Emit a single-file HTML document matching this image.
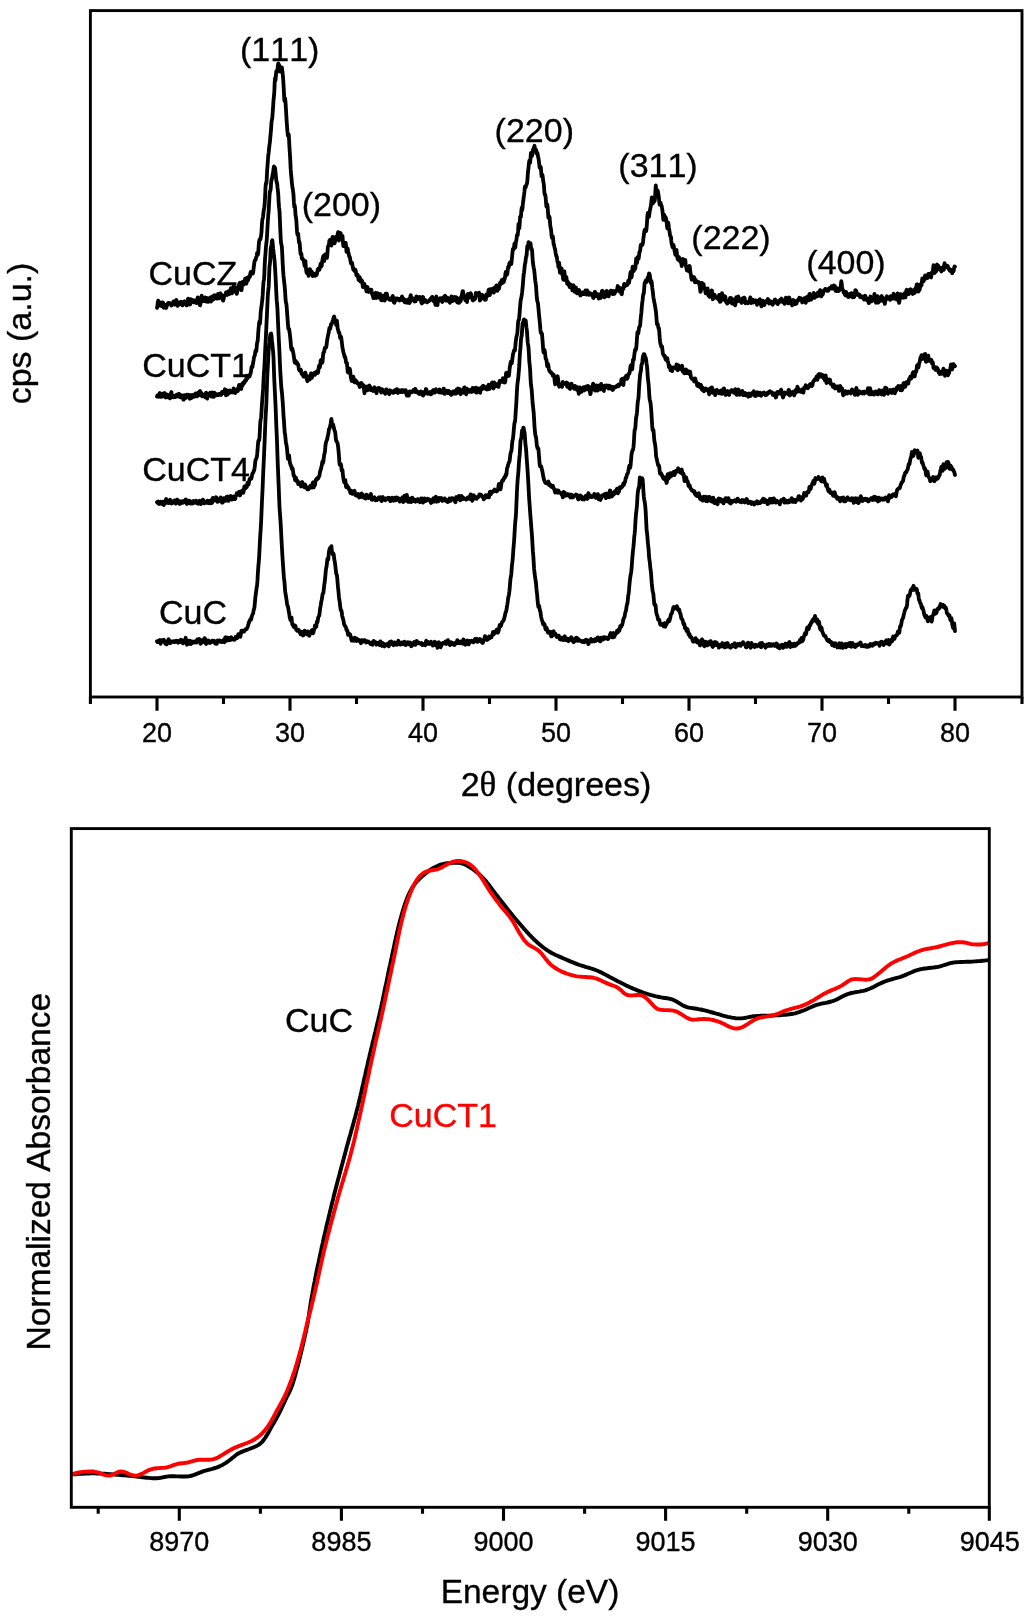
<!DOCTYPE html>
<html lang="en"><head><meta charset="utf-8"><title>XRD patterns and XANES spectra</title>
<style>
html,body{margin:0;padding:0;background:#fff;}
body{width:1024px;height:1618px;overflow:hidden;}
svg{display:block;will-change:transform;}
text{font-family:"Liberation Sans",sans-serif;fill:#000;font-kerning:none;stroke:#000;stroke-width:0.35px;}
.t{font-size:27px;text-anchor:middle;}
.l{font-size:34px;}
.m{font-size:34px;text-anchor:middle;}
.ax{stroke:#000;stroke-width:2.9;fill:none;stroke-linecap:butt;}
.tk{stroke:#000;stroke-width:3.1;fill:none;stroke-linecap:butt;}
.c{stroke:#000;stroke-width:3.8;fill:none;stroke-linejoin:round;stroke-linecap:round;}
.x{stroke-width:3.9;fill:none;stroke-linejoin:round;stroke-linecap:butt;}
</style></head><body>
<svg width="1024" height="1618" viewBox="0 0 1024 1618">
<rect width="1024" height="1618" fill="#fff"/>
<g id="xrd">
<path class="c" d="M157.0,641.3 L157.4,642.1 L157.8,642.1 L158.2,640.9 L158.6,640.9 L159.0,641.4 L159.4,640.6 L159.8,640.1 L160.2,642.0 L160.6,643.7 L161.0,642.1 L161.4,640.1 L161.8,640.4 L162.2,641.4 L162.6,641.4 L163.0,640.6 L163.4,639.9 L163.8,639.7 L164.2,640.4 L164.6,641.6 L165.0,642.9 L165.4,643.8 L165.8,644.1 L166.2,643.9 L166.6,644.3 L167.0,643.8 L167.4,642.7 L167.8,641.5 L168.2,640.0 L168.6,639.2 L169.0,640.2 L169.4,642.4 L169.8,643.1 L170.2,643.1 L170.6,643.0 L171.0,642.0 L171.4,641.4 L171.8,641.5 L172.2,641.7 L172.6,641.8 L173.0,641.7 L173.4,641.2 L173.8,641.3 L174.2,642.1 L174.6,642.2 L175.0,641.1 L175.4,640.9 L175.8,641.6 L176.2,641.0 L176.6,640.6 L177.0,640.8 L177.3,641.2 L177.7,642.4 L178.1,642.7 L178.5,641.6 L178.9,640.9 L179.3,641.3 L179.7,642.1 L180.1,642.0 L180.5,640.8 L180.9,639.8 L181.3,639.9 L181.7,640.3 L182.1,640.7 L182.5,642.3 L182.9,643.4 L183.3,643.0 L183.7,641.7 L184.1,640.5 L184.5,641.4 L184.9,642.0 L185.3,639.4 L185.7,637.8 L186.1,640.3 L186.5,643.5 L186.9,644.7 L187.3,643.2 L187.7,641.2 L188.1,640.7 L188.5,642.0 L188.9,643.8 L189.3,643.4 L189.7,641.4 L190.1,640.7 L190.5,643.1 L190.9,644.1 L191.3,642.4 L191.7,642.5 L192.1,643.0 L192.5,642.0 L192.9,641.5 L193.3,642.1 L193.7,642.7 L194.1,642.6 L194.5,641.8 L194.9,641.8 L195.3,641.5 L195.7,641.0 L196.1,642.2 L196.5,642.5 L196.9,640.8 L197.3,639.4 L197.7,640.1 L198.1,641.1 L198.5,640.8 L198.9,640.0 L199.3,639.0 L199.7,640.2 L200.1,642.5 L200.5,643.7 L200.9,643.4 L201.3,641.1 L201.7,640.2 L202.1,641.0 L202.5,641.8 L202.9,642.0 L203.3,640.8 L203.7,640.5 L204.1,640.5 L204.5,638.2 L204.9,638.3 L205.3,641.5 L205.7,643.6 L206.1,643.9 L206.5,642.4 L206.9,640.5 L207.3,640.6 L207.7,641.3 L208.1,641.0 L208.5,640.6 L208.9,641.5 L209.3,642.9 L209.7,643.0 L210.1,642.0 L210.5,641.8 L210.9,642.3 L211.3,642.4 L211.7,641.7 L212.1,640.6 L212.5,640.6 L212.9,640.9 L213.3,641.1 L213.7,641.1 L214.1,640.7 L214.5,641.3 L214.9,643.2 L215.3,643.6 L215.7,642.2 L216.1,642.5 L216.5,643.9 L216.9,643.6 L217.2,641.4 L217.6,640.4 L218.0,641.6 L218.4,641.7 L218.8,641.0 L219.2,640.5 L219.6,640.4 L220.0,640.6 L220.4,640.9 L220.8,641.8 L221.2,642.0 L221.6,642.0 L222.0,642.0 L222.4,641.4 L222.8,640.9 L223.2,640.2 L223.6,640.3 L224.0,641.7 L224.4,642.2 L224.8,640.4 L225.2,637.5 L225.6,637.2 L226.0,639.5 L226.4,640.7 L226.8,639.6 L227.2,638.2 L227.6,637.8 L228.0,638.1 L228.4,639.1 L228.8,640.3 L229.2,639.4 L229.6,638.0 L230.0,639.3 L230.4,640.1 L230.8,638.2 L231.2,637.3 L231.6,638.3 L232.0,639.0 L232.4,639.3 L232.8,638.8 L233.2,638.8 L233.6,639.5 L234.0,639.7 L234.4,639.3 L234.8,639.6 L235.2,638.6 L235.6,637.0 L236.0,637.7 L236.4,637.6 L236.8,637.3 L237.2,638.0 L237.6,637.3 L238.0,635.4 L238.4,634.1 L238.8,634.6 L239.2,634.7 L239.6,634.9 L240.0,636.7 L240.4,636.8 L240.8,634.1 L241.2,631.5 L241.6,630.6 L242.0,631.0 L242.4,631.6 L242.8,631.7 L243.2,630.9 L243.6,631.2 L244.0,631.5 L244.4,630.9 L244.8,630.1 L245.2,629.3 L245.6,629.3 L246.0,629.4 L246.4,629.3 L246.8,628.7 L247.2,627.7 L247.6,627.1 L248.0,625.8 L248.4,624.3 L248.8,623.3 L249.2,621.5 L249.6,620.7 L250.0,620.2 L250.4,619.2 L250.8,619.7 L251.2,619.2 L251.6,617.1 L252.0,615.8 L252.4,614.6 L252.8,614.2 L253.2,613.1 L253.6,610.3 L254.0,609.2 L254.4,607.8 L254.8,603.5 L255.2,599.1 L255.6,595.5 L256.0,592.9 L256.4,589.4 L256.8,586.8 L257.1,585.4 L257.5,580.2 L257.9,572.8 L258.3,567.0 L258.7,562.7 L259.1,557.5 L259.5,550.2 L259.9,542.2 L260.3,534.8 L260.7,529.2 L261.1,522.0 L261.5,512.3 L261.9,503.0 L262.3,494.6 L262.7,485.8 L263.1,475.4 L263.5,466.6 L263.9,458.2 L264.3,448.7 L264.7,439.6 L265.1,428.9 L265.5,419.0 L265.9,411.8 L266.3,404.5 L266.7,393.4 L267.1,380.5 L267.5,371.8 L267.9,364.6 L268.3,356.9 L268.7,349.8 L269.1,345.1 L269.5,342.2 L269.9,338.1 L270.3,334.7 L270.7,333.8 L271.1,333.5 L271.5,335.6 L271.9,340.2 L272.3,343.5 L272.7,347.8 L273.1,351.5 L273.5,357.4 L273.9,369.1 L274.3,380.0 L274.7,388.3 L275.1,396.5 L275.5,404.5 L275.9,414.4 L276.3,425.6 L276.7,433.8 L277.1,444.1 L277.5,456.8 L277.9,467.4 L278.3,477.2 L278.7,486.1 L279.1,497.2 L279.5,507.1 L279.9,512.8 L280.3,518.2 L280.7,524.1 L281.1,531.7 L281.5,539.9 L281.9,547.0 L282.3,554.1 L282.7,560.4 L283.1,566.2 L283.5,572.1 L283.9,577.4 L284.3,580.4 L284.7,585.0 L285.1,590.9 L285.5,593.5 L285.9,595.8 L286.3,598.5 L286.7,601.0 L287.1,604.1 L287.5,605.8 L287.9,606.4 L288.3,608.3 L288.7,610.9 L289.1,613.0 L289.5,615.8 L289.9,618.1 L290.3,619.5 L290.7,620.2 L291.1,618.4 L291.5,617.4 L291.9,621.3 L292.3,624.5 L292.7,624.1 L293.1,624.5 L293.5,626.5 L293.9,627.0 L294.3,626.1 L294.7,626.1 L295.1,625.6 L295.5,626.0 L295.9,628.6 L296.3,629.9 L296.7,629.5 L297.0,629.8 L297.4,630.9 L297.8,630.9 L298.2,630.1 L298.6,629.8 L299.0,630.5 L299.4,632.2 L299.8,632.2 L300.2,632.4 L300.6,634.3 L301.0,634.4 L301.4,632.7 L301.8,631.8 L302.2,632.6 L302.6,634.9 L303.0,635.5 L303.4,634.5 L303.8,634.8 L304.2,633.3 L304.6,630.7 L305.0,631.1 L305.4,632.5 L305.8,632.1 L306.2,631.7 L306.6,633.6 L307.0,634.3 L307.4,632.3 L307.8,631.4 L308.2,632.9 L308.6,634.2 L309.0,635.5 L309.4,635.7 L309.8,634.1 L310.2,633.3 L310.6,632.5 L311.0,631.5 L311.4,630.8 L311.8,630.6 L312.2,630.1 L312.6,630.7 L313.0,633.3 L313.4,632.7 L313.8,630.4 L314.2,629.7 L314.6,628.1 L315.0,625.4 L315.4,625.4 L315.8,627.1 L316.2,626.9 L316.6,623.8 L317.0,621.4 L317.4,622.4 L317.8,620.6 L318.2,617.4 L318.6,616.8 L319.0,616.1 L319.4,614.7 L319.8,611.5 L320.2,607.8 L320.6,606.1 L321.0,603.6 L321.4,600.9 L321.8,599.5 L322.2,596.8 L322.6,594.0 L323.0,593.5 L323.4,592.9 L323.8,589.1 L324.2,585.2 L324.6,582.9 L325.0,579.3 L325.4,575.2 L325.8,570.8 L326.2,567.7 L326.6,566.4 L327.0,562.9 L327.4,558.7 L327.8,559.0 L328.2,559.7 L328.6,555.6 L329.0,551.4 L329.4,549.6 L329.8,548.3 L330.2,549.1 L330.6,549.7 L331.0,546.8 L331.4,546.2 L331.8,550.3 L332.2,552.5 L332.6,553.4 L333.0,554.6 L333.4,553.6 L333.8,554.8 L334.2,558.9 L334.6,560.9 L335.0,563.3 L335.4,566.4 L335.8,570.2 L336.2,573.7 L336.6,574.3 L336.9,575.3 L337.3,578.7 L337.7,583.8 L338.1,588.3 L338.5,591.7 L338.9,596.4 L339.3,599.7 L339.7,601.9 L340.1,605.6 L340.5,608.7 L340.9,610.3 L341.3,610.4 L341.7,611.7 L342.1,615.3 L342.5,617.3 L342.9,618.3 L343.3,619.9 L343.7,621.8 L344.1,624.3 L344.5,625.4 L344.9,625.5 L345.3,626.4 L345.7,626.7 L346.1,628.1 L346.5,630.0 L346.9,629.9 L347.3,630.5 L347.7,632.7 L348.1,634.8 L348.5,634.6 L348.9,633.4 L349.3,633.7 L349.7,634.3 L350.1,634.4 L350.5,635.7 L350.9,637.2 L351.3,639.3 L351.7,640.6 L352.1,639.7 L352.5,639.2 L352.9,638.6 L353.3,639.1 L353.7,640.7 L354.1,640.8 L354.5,639.5 L354.9,637.8 L355.3,637.9 L355.7,639.2 L356.1,640.5 L356.5,640.9 L356.9,639.5 L357.3,639.1 L357.7,640.1 L358.1,640.4 L358.5,640.9 L358.9,640.9 L359.3,640.1 L359.7,640.8 L360.1,641.2 L360.5,642.0 L360.9,643.2 L361.3,641.1 L361.7,640.1 L362.1,641.5 L362.5,640.9 L362.9,640.8 L363.3,641.5 L363.7,641.1 L364.1,640.5 L364.5,640.0 L364.9,640.7 L365.3,641.4 L365.7,641.8 L366.1,642.6 L366.5,642.3 L366.9,641.2 L367.3,641.5 L367.7,641.9 L368.1,641.6 L368.5,641.7 L368.9,642.2 L369.3,642.7 L369.7,642.4 L370.1,643.3 L370.5,644.0 L370.9,643.6 L371.3,642.9 L371.7,642.6 L372.1,644.1 L372.5,644.8 L372.9,643.2 L373.3,641.7 L373.7,640.9 L374.1,641.1 L374.5,642.2 L374.9,642.0 L375.3,642.0 L375.7,642.9 L376.1,644.0 L376.5,644.7 L376.8,643.9 L377.2,643.5 L377.6,643.5 L378.0,642.8 L378.4,642.6 L378.8,642.8 L379.2,644.4 L379.6,645.1 L380.0,642.6 L380.4,641.4 L380.8,642.5 L381.2,643.0 L381.6,644.5 L382.0,646.0 L382.4,644.8 L382.8,643.2 L383.2,643.4 L383.6,644.2 L384.0,645.6 L384.4,646.4 L384.8,645.6 L385.2,645.4 L385.6,645.6 L386.0,644.8 L386.4,644.1 L386.8,644.2 L387.2,643.9 L387.6,643.7 L388.0,644.0 L388.4,645.5 L388.8,646.3 L389.2,643.5 L389.6,642.2 L390.0,644.0 L390.4,644.0 L390.8,642.0 L391.2,641.4 L391.6,642.6 L392.0,643.9 L392.4,644.2 L392.8,643.8 L393.2,644.5 L393.6,645.2 L394.0,644.2 L394.4,642.5 L394.8,642.5 L395.2,643.3 L395.6,643.2 L396.0,644.1 L396.4,644.7 L396.8,643.8 L397.2,644.5 L397.6,644.6 L398.0,641.9 L398.4,640.7 L398.8,642.1 L399.2,643.6 L399.6,644.1 L400.0,644.2 L400.4,644.6 L400.8,644.0 L401.2,642.8 L401.6,642.7 L402.0,642.5 L402.4,642.8 L402.8,644.2 L403.2,643.8 L403.6,642.7 L404.0,642.2 L404.4,641.7 L404.8,641.9 L405.2,643.2 L405.6,645.1 L406.0,645.1 L406.4,643.3 L406.8,643.0 L407.2,642.8 L407.6,642.2 L408.0,642.9 L408.4,643.6 L408.8,644.1 L409.2,644.3 L409.6,643.3 L410.0,642.4 L410.4,643.0 L410.8,644.7 L411.2,646.2 L411.6,645.7 L412.0,644.4 L412.4,644.5 L412.8,644.9 L413.2,643.9 L413.6,642.6 L414.0,642.1 L414.4,642.5 L414.8,643.8 L415.2,644.9 L415.6,644.3 L416.0,642.9 L416.4,641.5 L416.7,640.9 L417.1,642.4 L417.5,643.4 L417.9,643.1 L418.3,642.8 L418.7,642.6 L419.1,642.7 L419.5,643.1 L419.9,643.4 L420.3,643.7 L420.7,643.9 L421.1,643.3 L421.5,643.0 L421.9,643.9 L422.3,645.1 L422.7,645.0 L423.1,643.9 L423.5,643.9 L423.9,644.3 L424.3,644.5 L424.7,645.0 L425.1,645.3 L425.5,644.1 L425.9,641.8 L426.3,640.8 L426.7,641.8 L427.1,643.5 L427.5,643.8 L427.9,642.9 L428.3,642.1 L428.7,642.5 L429.1,643.8 L429.5,644.1 L429.9,643.8 L430.3,643.4 L430.7,642.5 L431.1,641.7 L431.5,642.6 L431.9,643.5 L432.3,644.1 L432.7,645.6 L433.1,645.5 L433.5,643.7 L433.9,643.4 L434.3,643.0 L434.7,641.7 L435.1,642.1 L435.5,643.9 L435.9,645.1 L436.3,645.3 L436.7,644.8 L437.1,645.7 L437.5,647.8 L437.9,646.5 L438.3,642.6 L438.7,642.2 L439.1,644.7 L439.5,644.3 L439.9,643.3 L440.3,645.6 L440.7,647.3 L441.1,645.9 L441.5,644.8 L441.9,644.8 L442.3,644.2 L442.7,643.0 L443.1,642.9 L443.5,643.1 L443.9,643.0 L444.3,643.2 L444.7,643.4 L445.1,642.2 L445.5,641.5 L445.9,643.2 L446.3,644.0 L446.7,643.1 L447.1,642.7 L447.5,641.1 L447.9,640.1 L448.3,641.8 L448.7,643.0 L449.1,642.7 L449.5,643.5 L449.9,645.1 L450.3,644.3 L450.7,642.2 L451.1,642.5 L451.5,644.0 L451.9,643.8 L452.3,642.7 L452.7,643.3 L453.1,644.4 L453.5,644.3 L453.9,644.4 L454.3,645.0 L454.7,644.9 L455.1,643.7 L455.5,642.8 L455.9,643.1 L456.3,643.3 L456.6,642.8 L457.0,641.0 L457.4,640.2 L457.8,641.7 L458.2,643.1 L458.6,643.2 L459.0,642.9 L459.4,643.2 L459.8,642.8 L460.2,641.8 L460.6,641.4 L461.0,642.0 L461.4,643.0 L461.8,643.4 L462.2,643.6 L462.6,642.5 L463.0,640.3 L463.4,639.4 L463.8,639.7 L464.2,641.9 L464.6,644.0 L465.0,644.5 L465.4,644.7 L465.8,643.2 L466.2,641.2 L466.6,641.2 L467.0,641.4 L467.4,640.6 L467.8,641.1 L468.2,643.1 L468.6,644.4 L469.0,643.5 L469.4,641.8 L469.8,641.0 L470.2,641.6 L470.6,642.1 L471.0,641.0 L471.4,640.7 L471.8,641.5 L472.2,641.2 L472.6,640.9 L473.0,641.6 L473.4,642.3 L473.8,641.9 L474.2,640.7 L474.6,639.8 L475.0,639.0 L475.4,639.8 L475.8,641.1 L476.2,639.0 L476.6,638.7 L477.0,641.7 L477.4,641.8 L477.8,640.7 L478.2,641.6 L478.6,640.7 L479.0,639.8 L479.4,640.0 L479.8,639.0 L480.2,639.1 L480.6,640.9 L481.0,641.0 L481.4,641.1 L481.8,642.3 L482.2,642.6 L482.6,643.0 L483.0,642.5 L483.4,640.7 L483.8,639.4 L484.2,639.1 L484.6,637.9 L485.0,636.2 L485.4,636.8 L485.8,638.4 L486.2,639.4 L486.6,639.9 L487.0,639.0 L487.4,638.5 L487.8,639.5 L488.2,638.9 L488.6,637.3 L489.0,636.5 L489.4,637.8 L489.8,638.2 L490.2,636.6 L490.6,636.5 L491.0,637.4 L491.4,637.4 L491.8,635.9 L492.2,635.1 L492.6,634.0 L493.0,631.9 L493.4,632.6 L493.8,634.3 L494.2,633.1 L494.6,632.1 L495.0,632.9 L495.4,632.5 L495.8,631.2 L496.2,630.7 L496.5,629.9 L496.9,629.5 L497.3,631.5 L497.7,632.8 L498.1,632.4 L498.5,631.3 L498.9,629.5 L499.3,627.2 L499.7,624.9 L500.1,625.0 L500.5,626.3 L500.9,625.9 L501.3,624.6 L501.7,623.2 L502.1,622.1 L502.5,621.7 L502.9,621.4 L503.3,620.6 L503.7,620.1 L504.1,618.9 L504.5,617.3 L504.9,615.7 L505.3,613.3 L505.7,612.2 L506.1,611.7 L506.5,609.7 L506.9,606.9 L507.3,604.8 L507.7,602.0 L508.1,598.5 L508.5,596.6 L508.9,594.6 L509.3,592.0 L509.7,588.3 L510.1,583.0 L510.5,578.7 L510.9,576.7 L511.3,574.0 L511.7,568.3 L512.1,563.8 L512.5,561.2 L512.9,556.6 L513.3,550.2 L513.7,545.5 L514.1,540.8 L514.5,534.2 L514.9,527.1 L515.3,521.4 L515.7,518.1 L516.1,512.2 L516.5,502.0 L516.9,492.6 L517.3,485.1 L517.7,479.2 L518.1,475.1 L518.5,470.1 L518.9,463.3 L519.3,458.2 L519.7,454.9 L520.1,448.3 L520.5,441.0 L520.9,439.1 L521.3,438.4 L521.7,434.0 L522.1,430.3 L522.5,431.3 L522.9,431.0 L523.3,427.6 L523.7,428.0 L524.1,430.9 L524.5,432.1 L524.9,435.9 L525.3,442.8 L525.7,446.3 L526.1,449.6 L526.5,455.7 L526.9,461.3 L527.3,466.6 L527.7,472.3 L528.1,479.2 L528.5,486.1 L528.9,493.9 L529.3,500.6 L529.7,505.7 L530.1,511.8 L530.5,516.8 L530.9,521.7 L531.3,527.4 L531.7,532.2 L532.1,537.3 L532.5,544.7 L532.9,551.4 L533.3,555.9 L533.7,562.4 L534.1,568.7 L534.5,572.6 L534.9,575.7 L535.3,578.5 L535.7,581.1 L536.1,583.9 L536.4,588.2 L536.8,591.9 L537.2,595.4 L537.6,600.4 L538.0,604.5 L538.4,606.9 L538.8,606.8 L539.2,606.0 L539.6,608.6 L540.0,610.9 L540.4,611.6 L540.8,614.4 L541.2,617.1 L541.6,618.9 L542.0,620.3 L542.4,621.2 L542.8,623.0 L543.2,624.5 L543.6,624.5 L544.0,623.6 L544.4,624.0 L544.8,625.5 L545.2,627.6 L545.6,629.4 L546.0,628.3 L546.4,627.6 L546.8,628.5 L547.2,629.4 L547.6,631.6 L548.0,632.6 L548.4,632.1 L548.8,632.6 L549.2,633.1 L549.6,632.3 L550.0,631.6 L550.4,631.8 L550.8,634.0 L551.2,636.4 L551.6,636.4 L552.0,636.1 L552.4,635.3 L552.8,633.1 L553.2,631.5 L553.6,631.2 L554.0,632.5 L554.4,634.3 L554.8,633.9 L555.2,633.4 L555.6,634.7 L556.0,635.7 L556.4,636.3 L556.8,636.9 L557.2,636.6 L557.6,635.7 L558.0,635.8 L558.4,635.7 L558.8,635.6 L559.2,637.5 L559.6,639.0 L560.0,638.4 L560.4,638.4 L560.8,639.6 L561.2,639.1 L561.6,637.7 L562.0,637.8 L562.4,638.1 L562.8,639.1 L563.2,640.1 L563.6,639.7 L564.0,638.9 L564.4,636.9 L564.8,636.3 L565.2,638.7 L565.6,640.1 L566.0,639.9 L566.4,639.8 L566.8,639.7 L567.2,638.7 L567.6,638.6 L568.0,640.8 L568.4,641.2 L568.8,639.6 L569.2,639.2 L569.6,639.4 L570.0,639.8 L570.4,639.6 L570.8,638.0 L571.2,637.2 L571.6,639.0 L572.0,640.5 L572.4,639.6 L572.8,639.1 L573.2,640.9 L573.6,642.2 L574.0,641.6 L574.4,641.2 L574.8,641.2 L575.2,639.3 L575.6,638.3 L576.0,639.3 L576.3,638.4 L576.7,637.7 L577.1,640.1 L577.5,640.8 L577.9,638.8 L578.3,639.0 L578.7,640.2 L579.1,640.5 L579.5,640.8 L579.9,640.6 L580.3,640.4 L580.7,640.9 L581.1,641.2 L581.5,641.2 L581.9,641.7 L582.3,642.0 L582.7,641.4 L583.1,640.9 L583.5,641.0 L583.9,641.9 L584.3,642.2 L584.7,641.9 L585.1,641.6 L585.5,640.0 L585.9,639.7 L586.3,641.3 L586.7,641.5 L587.1,640.5 L587.5,640.2 L587.9,641.7 L588.3,644.1 L588.7,643.6 L589.1,641.1 L589.5,640.4 L589.9,640.7 L590.3,640.9 L590.7,640.2 L591.1,639.0 L591.5,640.4 L591.9,641.6 L592.3,640.2 L592.7,639.9 L593.1,640.0 L593.5,640.1 L593.9,641.2 L594.3,641.4 L594.7,640.2 L595.1,639.3 L595.5,639.8 L595.9,640.9 L596.3,640.2 L596.7,638.6 L597.1,638.3 L597.5,637.5 L597.9,637.4 L598.3,639.2 L598.7,640.2 L599.1,640.6 L599.5,639.7 L599.9,639.4 L600.3,641.4 L600.7,640.5 L601.1,637.6 L601.5,637.8 L601.9,639.0 L602.3,639.5 L602.7,639.6 L603.1,639.2 L603.5,638.5 L603.9,637.1 L604.3,637.7 L604.7,638.8 L605.1,638.2 L605.5,637.5 L605.9,637.7 L606.3,638.2 L606.7,638.4 L607.1,638.3 L607.5,638.0 L607.9,639.1 L608.3,638.9 L608.7,637.1 L609.1,636.6 L609.5,636.3 L609.9,635.0 L610.3,633.9 L610.7,633.1 L611.1,633.9 L611.5,636.8 L611.9,637.3 L612.3,637.0 L612.7,637.3 L613.1,634.5 L613.5,633.0 L613.9,635.6 L614.3,637.0 L614.7,635.7 L615.1,634.8 L615.5,634.4 L615.9,633.7 L616.2,633.5 L616.6,632.9 L617.0,630.8 L617.4,630.6 L617.8,632.3 L618.2,631.5 L618.6,629.4 L619.0,629.8 L619.4,630.7 L619.8,628.6 L620.2,626.1 L620.6,626.0 L621.0,626.9 L621.4,626.3 L621.8,625.2 L622.2,624.8 L622.6,623.1 L623.0,621.0 L623.4,619.3 L623.8,618.0 L624.2,617.7 L624.6,616.6 L625.0,614.0 L625.4,612.0 L625.8,611.4 L626.2,609.5 L626.6,606.3 L627.0,604.4 L627.4,603.6 L627.8,600.1 L628.2,595.7 L628.6,593.8 L629.0,590.2 L629.4,585.1 L629.8,581.1 L630.2,577.8 L630.6,575.1 L631.0,573.0 L631.4,570.4 L631.8,565.3 L632.2,559.5 L632.6,554.8 L633.0,550.6 L633.4,547.2 L633.8,542.8 L634.2,537.3 L634.6,534.0 L635.0,529.9 L635.4,522.3 L635.8,516.4 L636.2,512.3 L636.6,509.0 L637.0,505.0 L637.4,497.6 L637.8,492.7 L638.2,489.8 L638.6,487.9 L639.0,488.2 L639.4,484.0 L639.8,477.5 L640.2,478.3 L640.6,482.2 L641.0,482.6 L641.4,480.7 L641.8,478.8 L642.2,478.3 L642.6,479.4 L643.0,484.4 L643.4,491.2 L643.8,496.2 L644.2,499.3 L644.6,501.3 L645.0,503.8 L645.4,507.8 L645.8,513.5 L646.2,521.9 L646.6,529.6 L647.0,533.0 L647.4,536.4 L647.8,542.1 L648.2,545.7 L648.6,549.3 L649.0,556.0 L649.4,559.9 L649.8,561.9 L650.2,566.6 L650.6,570.1 L651.0,572.9 L651.4,578.6 L651.8,583.7 L652.2,587.3 L652.6,590.9 L653.0,592.4 L653.4,594.2 L653.8,598.8 L654.2,603.4 L654.6,604.9 L655.0,604.4 L655.4,604.7 L655.8,607.4 L656.1,611.1 L656.5,613.6 L656.9,614.9 L657.3,615.6 L657.7,617.6 L658.1,619.7 L658.5,619.9 L658.9,619.4 L659.3,619.8 L659.7,622.0 L660.1,624.2 L660.5,624.8 L660.9,624.5 L661.3,624.9 L661.7,624.9 L662.1,624.7 L662.5,625.1 L662.9,623.9 L663.3,623.9 L663.7,626.4 L664.1,625.4 L664.5,623.1 L664.9,625.4 L665.3,626.7 L665.7,625.2 L666.1,624.8 L666.5,624.1 L666.9,623.3 L667.3,622.3 L667.7,621.4 L668.1,620.8 L668.5,619.8 L668.9,620.7 L669.3,621.3 L669.7,620.0 L670.1,618.4 L670.5,616.5 L670.9,614.8 L671.3,613.7 L671.7,613.5 L672.1,612.6 L672.5,610.8 L672.9,609.5 L673.3,607.4 L673.7,606.9 L674.1,608.7 L674.5,608.0 L674.9,607.4 L675.3,608.3 L675.7,608.2 L676.1,607.2 L676.5,606.3 L676.9,606.2 L677.3,607.1 L677.7,609.0 L678.1,610.0 L678.5,610.2 L678.9,610.0 L679.3,609.8 L679.7,611.7 L680.1,613.4 L680.5,613.7 L680.9,616.1 L681.3,618.5 L681.7,618.7 L682.1,618.8 L682.5,619.9 L682.9,621.3 L683.3,623.1 L683.7,624.3 L684.1,623.6 L684.5,625.1 L684.9,628.1 L685.3,628.5 L685.7,627.7 L686.1,628.6 L686.5,630.9 L686.9,630.7 L687.3,629.1 L687.7,629.9 L688.1,631.9 L688.5,634.2 L688.9,634.9 L689.3,633.7 L689.7,634.9 L690.1,636.8 L690.5,636.5 L690.9,636.9 L691.3,637.8 L691.7,637.7 L692.1,638.6 L692.5,640.3 L692.9,641.2 L693.3,641.7 L693.7,641.6 L694.1,641.0 L694.5,641.0 L694.9,641.3 L695.3,639.6 L695.7,638.2 L696.0,639.2 L696.4,639.2 L696.8,639.8 L697.2,642.4 L697.6,642.7 L698.0,640.7 L698.4,640.8 L698.8,642.1 L699.2,641.7 L699.6,642.7 L700.0,645.4 L700.4,645.1 L700.8,643.7 L701.2,642.7 L701.6,640.7 L702.0,639.4 L702.4,639.9 L702.8,641.7 L703.2,642.7 L703.6,643.6 L704.0,645.8 L704.4,646.2 L704.8,643.9 L705.2,641.6 L705.6,641.8 L706.0,643.2 L706.4,643.9 L706.8,644.4 L707.2,645.4 L707.6,645.2 L708.0,643.1 L708.4,642.1 L708.8,642.5 L709.2,643.4 L709.6,644.4 L710.0,643.4 L710.4,641.1 L710.8,641.2 L711.2,642.8 L711.6,644.0 L712.0,645.2 L712.4,646.3 L712.8,646.9 L713.2,646.2 L713.6,645.7 L714.0,644.7 L714.4,642.3 L714.8,642.0 L715.2,644.4 L715.6,644.9 L716.0,642.8 L716.4,642.5 L716.8,644.2 L717.2,645.1 L717.6,644.6 L718.0,644.3 L718.4,645.6 L718.8,647.6 L719.2,647.0 L719.6,644.8 L720.0,645.0 L720.4,645.5 L720.8,644.9 L721.2,646.1 L721.6,646.4 L722.0,643.8 L722.4,643.1 L722.8,644.2 L723.2,644.6 L723.6,644.3 L724.0,645.2 L724.4,647.2 L724.8,647.4 L725.2,645.4 L725.6,643.5 L726.0,644.8 L726.4,646.8 L726.8,645.7 L727.2,643.6 L727.6,643.0 L728.0,644.4 L728.4,646.7 L728.8,646.6 L729.2,645.6 L729.6,647.0 L730.0,646.6 L730.4,646.0 L730.8,647.7 L731.2,647.1 L731.6,645.6 L732.0,645.1 L732.4,644.6 L732.8,644.7 L733.2,644.6 L733.6,645.4 L734.0,646.2 L734.4,644.3 L734.8,643.2 L735.2,645.3 L735.6,647.2 L735.9,647.0 L736.3,645.9 L736.7,644.8 L737.1,644.3 L737.5,644.0 L737.9,643.9 L738.3,644.2 L738.7,644.1 L739.1,645.6 L739.5,645.3 L739.9,643.8 L740.3,645.5 L740.7,645.8 L741.1,644.7 L741.5,643.8 L741.9,643.7 L742.3,643.9 L742.7,642.3 L743.1,642.2 L743.5,643.1 L743.9,643.1 L744.3,644.2 L744.7,644.9 L745.1,644.9 L745.5,645.8 L745.9,647.1 L746.3,647.3 L746.7,647.3 L747.1,646.7 L747.5,644.5 L747.9,642.6 L748.3,642.8 L748.7,643.7 L749.1,644.5 L749.5,645.5 L749.9,645.9 L750.3,646.7 L750.7,647.8 L751.1,645.9 L751.5,642.9 L751.9,644.1 L752.3,646.1 L752.7,645.9 L753.1,645.6 L753.5,645.5 L753.9,645.5 L754.3,646.1 L754.7,647.0 L755.1,646.4 L755.5,644.8 L755.9,645.0 L756.3,646.2 L756.7,646.4 L757.1,646.3 L757.5,645.8 L757.9,645.3 L758.3,645.5 L758.7,645.6 L759.1,645.7 L759.5,645.0 L759.9,643.4 L760.3,644.2 L760.7,647.1 L761.1,647.2 L761.5,644.4 L761.9,642.9 L762.3,643.5 L762.7,644.8 L763.1,645.4 L763.5,644.9 L763.9,644.7 L764.3,645.0 L764.7,645.1 L765.1,646.6 L765.5,647.7 L765.9,646.1 L766.3,646.1 L766.7,646.3 L767.1,644.5 L767.5,644.6 L767.9,645.7 L768.3,645.8 L768.7,645.1 L769.1,643.9 L769.5,644.9 L769.9,645.9 L770.3,644.4 L770.7,644.3 L771.1,645.8 L771.5,645.8 L771.9,645.0 L772.3,644.7 L772.7,644.4 L773.1,645.2 L773.5,645.0 L773.9,644.2 L774.3,645.8 L774.7,646.1 L775.1,645.6 L775.5,645.6 L775.8,644.3 L776.2,643.5 L776.6,643.4 L777.0,643.8 L777.4,645.3 L777.8,647.4 L778.2,647.5 L778.6,645.7 L779.0,646.9 L779.4,648.3 L779.8,646.6 L780.2,645.4 L780.6,645.8 L781.0,646.7 L781.4,647.0 L781.8,645.8 L782.2,644.7 L782.6,645.8 L783.0,647.8 L783.4,647.0 L783.8,644.9 L784.2,645.5 L784.6,646.9 L785.0,645.4 L785.4,643.7 L785.8,644.5 L786.2,646.2 L786.6,646.8 L787.0,645.1 L787.4,643.9 L787.8,643.7 L788.2,644.0 L788.6,644.1 L789.0,642.5 L789.4,642.0 L789.8,644.3 L790.2,647.1 L790.6,646.7 L791.0,644.6 L791.4,644.4 L791.8,643.9 L792.2,644.1 L792.6,646.1 L793.0,646.3 L793.4,645.5 L793.8,644.5 L794.2,643.7 L794.6,643.7 L795.0,644.7 L795.4,645.7 L795.8,645.4 L796.2,644.7 L796.6,644.8 L797.0,644.2 L797.4,643.1 L797.8,643.3 L798.2,643.1 L798.6,642.5 L799.0,642.7 L799.4,642.0 L799.8,640.3 L800.2,640.4 L800.6,641.8 L801.0,640.1 L801.4,638.0 L801.8,639.7 L802.2,641.3 L802.6,640.7 L803.0,640.1 L803.4,639.0 L803.8,636.9 L804.2,635.7 L804.6,634.7 L805.0,633.3 L805.4,633.4 L805.8,634.4 L806.2,633.5 L806.6,630.6 L807.0,628.2 L807.4,627.4 L807.8,627.2 L808.2,627.6 L808.6,629.1 L809.0,628.3 L809.4,625.6 L809.8,624.9 L810.2,625.3 L810.6,624.6 L811.0,622.9 L811.4,622.1 L811.8,622.4 L812.2,621.5 L812.6,620.0 L813.0,620.3 L813.4,619.5 L813.8,618.7 L814.2,619.2 L814.6,617.9 L815.0,615.9 L815.4,617.5 L815.7,620.9 L816.1,621.5 L816.5,621.0 L816.9,620.0 L817.3,619.5 L817.7,621.6 L818.1,623.8 L818.5,623.2 L818.9,621.7 L819.3,623.6 L819.7,627.1 L820.1,628.9 L820.5,629.6 L820.9,629.3 L821.3,627.4 L821.7,628.3 L822.1,631.2 L822.5,632.0 L822.9,632.8 L823.3,634.0 L823.7,635.0 L824.1,635.7 L824.5,635.9 L824.9,635.8 L825.3,636.1 L825.7,636.8 L826.1,637.8 L826.5,638.7 L826.9,639.6 L827.3,640.3 L827.7,640.3 L828.1,641.1 L828.5,641.2 L828.9,639.9 L829.3,640.4 L829.7,642.0 L830.1,642.3 L830.5,641.7 L830.9,641.8 L831.3,642.5 L831.7,643.9 L832.1,645.0 L832.5,644.1 L832.9,643.0 L833.3,643.9 L833.7,645.4 L834.1,646.1 L834.5,645.6 L834.9,644.1 L835.3,643.2 L835.7,644.0 L836.1,645.5 L836.5,645.8 L836.9,646.2 L837.3,647.5 L837.7,647.4 L838.1,646.6 L838.5,645.9 L838.9,644.0 L839.3,643.2 L839.7,643.9 L840.1,645.6 L840.5,647.6 L840.9,646.4 L841.3,643.6 L841.7,643.4 L842.1,645.2 L842.5,647.2 L842.9,647.9 L843.3,647.4 L843.7,646.3 L844.1,645.6 L844.5,645.7 L844.9,644.3 L845.3,643.9 L845.7,646.2 L846.1,647.2 L846.5,646.3 L846.9,646.0 L847.3,645.7 L847.7,643.8 L848.1,643.6 L848.5,645.2 L848.9,646.1 L849.3,646.1 L849.7,644.1 L850.1,642.9 L850.5,644.5 L850.9,646.2 L851.3,646.7 L851.7,645.8 L852.1,643.7 L852.5,642.9 L852.9,644.1 L853.3,645.1 L853.7,645.7 L854.1,646.3 L854.5,646.6 L854.9,647.0 L855.3,647.0 L855.6,645.7 L856.0,644.6 L856.4,645.2 L856.8,645.6 L857.2,645.6 L857.6,645.1 L858.0,644.3 L858.4,644.5 L858.8,644.4 L859.2,643.7 L859.6,643.4 L860.0,642.8 L860.4,642.4 L860.8,643.2 L861.2,645.0 L861.6,646.2 L862.0,646.1 L862.4,645.7 L862.8,645.6 L863.2,645.6 L863.6,645.8 L864.0,646.2 L864.4,646.0 L864.8,645.0 L865.2,644.9 L865.6,645.8 L866.0,646.6 L866.4,646.8 L866.8,646.2 L867.2,645.4 L867.6,646.1 L868.0,646.8 L868.4,645.7 L868.8,645.3 L869.2,646.4 L869.6,646.1 L870.0,644.9 L870.4,644.0 L870.8,644.1 L871.2,645.3 L871.6,645.1 L872.0,644.8 L872.4,645.7 L872.8,645.5 L873.2,644.6 L873.6,643.9 L874.0,643.4 L874.4,643.4 L874.8,644.0 L875.2,644.2 L875.6,643.3 L876.0,642.8 L876.4,643.1 L876.8,643.3 L877.2,643.4 L877.6,643.2 L878.0,643.8 L878.4,644.1 L878.8,643.4 L879.2,644.7 L879.6,645.7 L880.0,644.1 L880.4,642.5 L880.8,642.6 L881.2,642.6 L881.6,641.7 L882.0,641.9 L882.4,642.9 L882.8,643.0 L883.2,643.7 L883.6,645.1 L884.0,644.3 L884.4,642.6 L884.8,642.0 L885.2,641.6 L885.6,641.2 L886.0,640.9 L886.4,640.3 L886.8,640.9 L887.2,643.5 L887.6,643.1 L888.0,640.5 L888.4,640.1 L888.8,641.9 L889.2,644.5 L889.6,644.3 L890.0,642.8 L890.4,642.1 L890.8,641.2 L891.2,639.8 L891.6,639.5 L892.0,641.3 L892.4,640.5 L892.8,637.6 L893.2,636.5 L893.6,636.6 L894.0,637.3 L894.4,638.9 L894.8,638.0 L895.2,635.8 L895.5,635.8 L895.9,636.0 L896.3,635.4 L896.7,635.3 L897.1,634.8 L897.5,633.2 L897.9,631.5 L898.3,631.2 L898.7,632.1 L899.1,632.9 L899.5,631.4 L899.9,627.4 L900.3,626.1 L900.7,626.3 L901.1,625.0 L901.5,622.7 L901.9,620.3 L902.3,619.3 L902.7,618.7 L903.1,617.7 L903.5,616.0 L903.9,614.2 L904.3,612.6 L904.7,610.8 L905.1,609.9 L905.5,609.1 L905.9,607.9 L906.3,607.8 L906.7,607.0 L907.1,603.9 L907.5,599.8 L907.9,596.2 L908.3,595.5 L908.7,596.4 L909.1,596.4 L909.5,595.7 L909.9,594.3 L910.3,591.9 L910.7,590.2 L911.1,589.8 L911.5,590.3 L911.9,589.4 L912.3,588.1 L912.7,588.5 L913.1,587.7 L913.5,585.8 L913.9,587.4 L914.3,589.9 L914.7,588.9 L915.1,588.1 L915.5,589.4 L915.9,589.7 L916.3,588.7 L916.7,589.1 L917.1,591.1 L917.5,593.7 L917.9,593.4 L918.3,593.4 L918.7,597.7 L919.1,600.3 L919.5,600.3 L919.9,602.0 L920.3,603.3 L920.7,603.5 L921.1,604.8 L921.5,607.0 L921.9,608.0 L922.3,607.1 L922.7,607.9 L923.1,609.8 L923.5,610.7 L923.9,612.6 L924.3,614.9 L924.7,615.7 L925.1,616.2 L925.5,617.5 L925.9,617.0 L926.3,615.8 L926.7,616.6 L927.1,618.0 L927.5,619.8 L927.9,621.3 L928.3,620.7 L928.7,620.5 L929.1,620.3 L929.5,618.8 L929.9,617.4 L930.3,617.1 L930.7,618.3 L931.1,619.9 L931.5,621.6 L931.9,620.8 L932.3,617.7 L932.7,615.9 L933.1,614.8 L933.5,614.3 L933.9,612.3 L934.3,610.4 L934.7,612.7 L935.1,613.9 L935.4,612.2 L935.8,612.2 L936.2,613.1 L936.6,612.5 L937.0,610.9 L937.4,609.3 L937.8,608.6 L938.2,608.4 L938.6,608.7 L939.0,608.8 L939.4,606.8 L939.8,606.1 L940.2,605.7 L940.6,604.0 L941.0,604.8 L941.4,605.8 L941.8,605.9 L942.2,606.7 L942.6,606.1 L943.0,604.9 L943.4,605.2 L943.8,605.6 L944.2,605.6 L944.6,606.9 L945.0,608.2 L945.4,608.0 L945.8,607.6 L946.2,608.7 L946.6,611.3 L947.0,613.3 L947.4,613.2 L947.8,613.6 L948.2,615.0 L948.6,615.6 L949.0,615.2 L949.4,615.3 L949.8,617.0 L950.2,619.4 L950.6,620.3 L951.0,618.8 L951.4,618.2 L951.8,620.5 L952.2,623.8 L952.6,625.9 L953.0,627.7 L953.4,628.3 L953.8,625.3 L954.2,623.4 L954.6,627.1 L955.0,631.1"/>
<path class="c" d="M157.0,502.1 L157.4,502.7 L157.8,501.8 L158.2,501.4 L158.6,503.3 L159.0,503.9 L159.4,502.4 L159.8,502.0 L160.2,502.2 L160.6,501.8 L161.0,502.7 L161.4,503.8 L161.8,503.1 L162.2,502.1 L162.6,501.8 L163.0,502.7 L163.4,504.6 L163.8,505.1 L164.2,503.5 L164.6,502.2 L165.0,501.2 L165.4,500.6 L165.8,500.0 L166.2,499.0 L166.6,500.3 L167.0,502.9 L167.4,502.7 L167.8,500.5 L168.2,501.2 L168.6,503.1 L169.0,502.6 L169.4,502.0 L169.8,501.2 L170.2,499.8 L170.6,501.5 L171.0,503.2 L171.4,503.0 L171.8,503.5 L172.2,503.2 L172.6,502.4 L173.0,502.5 L173.4,502.3 L173.8,500.7 L174.2,500.4 L174.6,502.5 L175.0,503.0 L175.4,503.0 L175.8,503.6 L176.2,503.0 L176.6,500.7 L177.0,499.6 L177.3,500.9 L177.7,501.6 L178.1,500.5 L178.5,500.7 L178.9,502.6 L179.3,503.7 L179.7,504.0 L180.1,503.9 L180.5,503.2 L180.9,501.7 L181.3,501.3 L181.7,502.2 L182.1,501.8 L182.5,501.8 L182.9,502.7 L183.3,502.2 L183.7,500.9 L184.1,500.9 L184.5,502.1 L184.9,501.9 L185.3,500.3 L185.7,499.5 L186.1,500.3 L186.5,503.4 L186.9,504.0 L187.3,500.5 L187.7,500.9 L188.1,503.3 L188.5,502.7 L188.9,501.8 L189.3,500.8 L189.7,501.0 L190.1,502.8 L190.5,503.6 L190.9,503.6 L191.3,503.5 L191.7,503.2 L192.1,501.6 L192.5,501.5 L192.9,503.5 L193.3,502.6 L193.7,501.0 L194.1,501.2 L194.5,501.3 L194.9,501.3 L195.3,501.5 L195.7,502.7 L196.1,502.3 L196.5,500.8 L196.9,502.3 L197.3,503.4 L197.7,503.3 L198.1,503.8 L198.5,502.8 L198.9,501.9 L199.3,501.1 L199.7,500.7 L200.1,501.8 L200.5,503.4 L200.9,504.1 L201.3,503.6 L201.7,503.3 L202.1,502.4 L202.5,500.8 L202.9,499.6 L203.3,500.1 L203.7,502.6 L204.1,503.3 L204.5,502.3 L204.9,501.9 L205.3,502.0 L205.7,502.9 L206.1,502.9 L206.5,502.8 L206.9,502.9 L207.3,500.7 L207.7,500.7 L208.1,503.0 L208.5,503.0 L208.9,502.0 L209.3,502.4 L209.7,503.2 L210.1,503.0 L210.5,501.8 L210.9,500.1 L211.3,500.3 L211.7,503.1 L212.1,502.8 L212.5,499.5 L212.9,498.0 L213.3,498.0 L213.7,498.9 L214.1,500.0 L214.5,500.1 L214.9,500.5 L215.3,500.3 L215.7,498.4 L216.1,497.3 L216.5,497.6 L216.9,497.9 L217.2,500.0 L217.6,501.8 L218.0,500.8 L218.4,500.5 L218.8,501.1 L219.2,500.7 L219.6,500.6 L220.0,500.0 L220.4,498.4 L220.8,497.5 L221.2,498.1 L221.6,500.5 L222.0,502.6 L222.4,502.7 L222.8,502.2 L223.2,501.2 L223.6,499.2 L224.0,498.3 L224.4,499.0 L224.8,500.0 L225.2,500.8 L225.6,500.9 L226.0,498.7 L226.4,496.9 L226.8,497.7 L227.2,496.9 L227.6,496.6 L228.0,499.8 L228.4,500.9 L228.8,498.8 L229.2,497.6 L229.6,498.1 L230.0,498.6 L230.4,497.3 L230.8,496.0 L231.2,497.6 L231.6,499.5 L232.0,499.5 L232.4,499.0 L232.8,498.6 L233.2,498.0 L233.6,497.5 L234.0,496.4 L234.4,496.7 L234.8,499.2 L235.2,499.0 L235.6,496.7 L236.0,495.9 L236.4,494.8 L236.8,493.3 L237.2,493.9 L237.6,494.4 L238.0,494.4 L238.4,494.7 L238.8,492.9 L239.2,491.7 L239.6,494.0 L240.0,495.5 L240.4,494.0 L240.8,491.9 L241.2,491.6 L241.6,491.8 L242.0,490.7 L242.4,491.2 L242.8,492.6 L243.2,492.8 L243.6,491.7 L244.0,488.7 L244.4,486.3 L244.8,486.5 L245.2,488.1 L245.6,488.2 L246.0,485.8 L246.4,485.3 L246.8,487.1 L247.2,485.4 L247.6,482.6 L248.0,483.4 L248.4,484.7 L248.8,483.2 L249.2,480.9 L249.6,479.3 L250.0,478.5 L250.4,478.7 L250.8,478.9 L251.2,478.8 L251.6,477.7 L252.0,475.5 L252.4,473.7 L252.8,473.3 L253.2,472.6 L253.6,471.5 L254.0,470.6 L254.4,469.3 L254.8,466.4 L255.2,462.3 L255.6,459.8 L256.0,459.1 L256.4,458.5 L256.8,457.1 L257.1,454.8 L257.5,450.8 L257.9,445.2 L258.3,441.2 L258.7,440.1 L259.1,440.5 L259.5,438.0 L259.9,429.9 L260.3,422.1 L260.7,419.5 L261.1,417.5 L261.5,412.0 L261.9,405.0 L262.3,399.1 L262.7,394.6 L263.1,388.9 L263.5,380.4 L263.9,373.0 L264.3,368.3 L264.7,361.0 L265.1,351.5 L265.5,344.2 L265.9,336.8 L266.3,327.9 L266.7,319.6 L267.1,311.2 L267.5,302.2 L267.9,294.1 L268.3,290.0 L268.7,286.4 L269.1,275.9 L269.5,266.4 L269.9,263.9 L270.3,258.1 L270.7,249.1 L271.1,246.6 L271.5,244.8 L271.9,241.3 L272.3,240.3 L272.7,243.7 L273.1,248.4 L273.5,251.6 L273.9,255.6 L274.3,258.4 L274.7,262.1 L275.1,268.8 L275.5,275.9 L275.9,283.6 L276.3,292.7 L276.7,300.2 L277.1,304.0 L277.5,309.9 L277.9,319.7 L278.3,328.7 L278.7,337.1 L279.1,345.3 L279.5,353.4 L279.9,363.0 L280.3,371.5 L280.7,377.5 L281.1,384.5 L281.5,389.4 L281.9,392.1 L282.3,397.2 L282.7,402.1 L283.1,407.9 L283.5,415.3 L283.9,420.4 L284.3,426.6 L284.7,432.3 L285.1,434.3 L285.5,438.3 L285.9,442.7 L286.3,444.1 L286.7,446.4 L287.1,449.7 L287.5,454.4 L287.9,458.7 L288.3,458.9 L288.7,456.2 L289.1,455.4 L289.5,459.4 L289.9,462.7 L290.3,463.9 L290.7,465.4 L291.1,465.6 L291.5,467.0 L291.9,468.8 L292.3,468.7 L292.7,468.5 L293.1,471.2 L293.5,475.0 L293.9,476.1 L294.3,476.0 L294.7,477.5 L295.1,480.2 L295.5,479.5 L295.9,477.7 L296.3,479.8 L296.7,481.3 L297.0,480.6 L297.4,480.8 L297.8,482.3 L298.2,484.1 L298.6,484.0 L299.0,482.4 L299.4,483.1 L299.8,483.6 L300.2,483.4 L300.6,485.2 L301.0,486.5 L301.4,484.9 L301.8,482.6 L302.2,482.0 L302.6,483.7 L303.0,485.1 L303.4,484.6 L303.8,485.1 L304.2,487.1 L304.6,486.7 L305.0,484.4 L305.4,485.3 L305.8,487.8 L306.2,487.2 L306.6,487.1 L307.0,488.7 L307.4,489.4 L307.8,489.4 L308.2,489.4 L308.6,488.8 L309.0,487.1 L309.4,486.9 L309.8,487.9 L310.2,487.0 L310.6,485.6 L311.0,486.0 L311.4,486.9 L311.8,487.6 L312.2,487.0 L312.6,483.5 L313.0,482.4 L313.4,486.0 L313.8,487.4 L314.2,485.7 L314.6,485.6 L315.0,484.8 L315.4,481.6 L315.8,480.0 L316.2,479.5 L316.6,478.7 L317.0,479.5 L317.4,478.6 L317.8,477.7 L318.2,478.6 L318.6,477.2 L319.0,476.3 L319.4,475.9 L319.8,473.3 L320.2,470.9 L320.6,470.3 L321.0,468.8 L321.4,466.7 L321.8,465.5 L322.2,462.2 L322.6,461.3 L323.0,462.9 L323.4,461.4 L323.8,458.0 L324.2,454.6 L324.6,453.5 L325.0,451.1 L325.4,446.0 L325.8,443.3 L326.2,441.9 L326.6,440.5 L327.0,439.9 L327.4,438.3 L327.8,435.8 L328.2,434.5 L328.6,432.0 L329.0,429.1 L329.4,428.7 L329.8,427.9 L330.2,425.8 L330.6,423.8 L331.0,421.0 L331.4,418.9 L331.8,421.9 L332.2,424.9 L332.6,424.0 L333.0,424.3 L333.4,425.8 L333.8,427.4 L334.2,429.3 L334.6,430.7 L335.0,431.4 L335.4,433.9 L335.8,438.6 L336.2,440.9 L336.6,441.3 L336.9,441.8 L337.3,442.7 L337.7,443.9 L338.1,446.5 L338.5,450.5 L338.9,455.1 L339.3,461.2 L339.7,464.7 L340.1,464.3 L340.5,463.8 L340.9,464.3 L341.3,466.7 L341.7,470.5 L342.1,470.5 L342.5,470.1 L342.9,474.6 L343.3,478.1 L343.7,479.7 L344.1,481.9 L344.5,482.7 L344.9,480.8 L345.3,480.0 L345.7,483.3 L346.1,487.0 L346.5,486.9 L346.9,485.2 L347.3,486.3 L347.7,487.9 L348.1,487.2 L348.5,487.5 L348.9,489.4 L349.3,489.9 L349.7,490.1 L350.1,491.9 L350.5,493.0 L350.9,491.6 L351.3,490.7 L351.7,492.3 L352.1,493.7 L352.5,493.4 L352.9,493.1 L353.3,493.7 L353.7,493.0 L354.1,491.2 L354.5,490.8 L354.9,492.1 L355.3,494.1 L355.7,495.3 L356.1,495.0 L356.5,494.3 L356.9,495.2 L357.3,496.0 L357.7,495.8 L358.1,495.1 L358.5,494.0 L358.9,495.6 L359.3,497.5 L359.7,496.6 L360.1,496.5 L360.5,497.0 L360.9,496.2 L361.3,494.6 L361.7,493.5 L362.1,494.6 L362.5,495.8 L362.9,496.7 L363.3,497.5 L363.7,496.2 L364.1,495.5 L364.5,496.8 L364.9,497.5 L365.3,498.5 L365.7,498.6 L366.1,496.1 L366.5,494.8 L366.9,495.4 L367.3,495.7 L367.7,495.5 L368.1,497.2 L368.5,498.1 L368.9,497.0 L369.3,496.8 L369.7,496.5 L370.1,495.8 L370.5,494.8 L370.9,494.0 L371.3,496.5 L371.7,499.7 L372.1,499.9 L372.5,499.2 L372.9,498.5 L373.3,498.2 L373.7,498.4 L374.1,497.8 L374.5,497.3 L374.9,498.7 L375.3,500.2 L375.7,500.3 L376.1,499.6 L376.5,498.8 L376.8,499.5 L377.2,499.9 L377.6,499.5 L378.0,499.3 L378.4,498.6 L378.8,497.4 L379.2,497.7 L379.6,499.2 L380.0,498.5 L380.4,497.3 L380.8,498.1 L381.2,500.5 L381.6,501.0 L382.0,499.1 L382.4,497.6 L382.8,497.1 L383.2,498.2 L383.6,499.5 L384.0,499.6 L384.4,499.0 L384.8,500.0 L385.2,500.3 L385.6,498.4 L386.0,498.6 L386.4,499.0 L386.8,498.4 L387.2,498.9 L387.6,498.3 L388.0,497.8 L388.4,498.7 L388.8,499.0 L389.2,497.9 L389.6,498.2 L390.0,500.7 L390.4,501.1 L390.8,499.6 L391.2,498.8 L391.6,498.3 L392.0,497.7 L392.4,498.0 L392.8,498.9 L393.2,500.1 L393.6,500.7 L394.0,500.0 L394.4,498.4 L394.8,497.7 L395.2,498.9 L395.6,500.4 L396.0,499.9 L396.4,498.1 L396.8,497.4 L397.2,497.9 L397.6,498.8 L398.0,499.4 L398.4,499.0 L398.8,498.4 L399.2,500.0 L399.6,501.6 L400.0,501.1 L400.4,500.9 L400.8,500.8 L401.2,500.1 L401.6,499.8 L402.0,498.6 L402.4,497.4 L402.8,499.2 L403.2,502.1 L403.6,501.6 L404.0,497.8 L404.4,495.8 L404.8,497.7 L405.2,500.3 L405.6,500.5 L406.0,499.1 L406.4,496.6 L406.8,494.9 L407.2,497.3 L407.6,501.1 L408.0,501.7 L408.4,499.3 L408.8,499.3 L409.2,501.9 L409.6,501.6 L410.0,498.7 L410.4,498.5 L410.8,501.3 L411.2,502.1 L411.6,500.7 L412.0,499.0 L412.4,497.7 L412.8,498.4 L413.2,500.5 L413.6,501.0 L414.0,500.2 L414.4,499.4 L414.8,499.6 L415.2,501.0 L415.6,501.7 L416.0,500.9 L416.4,500.2 L416.7,500.8 L417.1,501.2 L417.5,499.9 L417.9,499.1 L418.3,499.5 L418.7,499.9 L419.1,499.9 L419.5,500.7 L419.9,502.2 L420.3,501.7 L420.7,499.5 L421.1,498.5 L421.5,498.8 L421.9,498.8 L422.3,498.4 L422.7,500.5 L423.1,502.7 L423.5,501.5 L423.9,500.1 L424.3,499.3 L424.7,498.5 L425.1,499.5 L425.5,501.1 L425.9,501.0 L426.3,500.1 L426.7,500.0 L427.1,499.6 L427.5,498.8 L427.9,499.2 L428.3,499.4 L428.7,500.0 L429.1,500.3 L429.5,499.4 L429.9,499.8 L430.3,501.5 L430.7,502.3 L431.1,502.9 L431.5,502.6 L431.9,501.5 L432.3,501.4 L432.7,500.9 L433.1,499.0 L433.5,498.2 L433.9,500.3 L434.3,501.6 L434.7,500.9 L435.1,499.9 L435.5,497.7 L435.9,496.7 L436.3,499.7 L436.7,501.7 L437.1,500.4 L437.5,499.3 L437.9,499.9 L438.3,501.4 L438.7,500.3 L439.1,497.9 L439.5,498.3 L439.9,499.5 L440.3,499.2 L440.7,498.1 L441.1,498.0 L441.5,499.4 L441.9,500.5 L442.3,500.9 L442.7,500.9 L443.1,500.2 L443.5,499.5 L443.9,499.9 L444.3,499.7 L444.7,498.4 L445.1,499.4 L445.5,500.5 L445.9,499.6 L446.3,500.1 L446.7,501.3 L447.1,501.7 L447.5,502.0 L447.9,501.0 L448.3,500.7 L448.7,501.5 L449.1,500.0 L449.5,498.5 L449.9,498.7 L450.3,499.5 L450.7,500.9 L451.1,500.2 L451.5,498.1 L451.9,498.4 L452.3,498.9 L452.7,498.5 L453.1,498.8 L453.5,498.8 L453.9,498.5 L454.3,498.8 L454.7,499.8 L455.1,501.9 L455.5,502.2 L455.9,499.0 L456.3,497.0 L456.6,497.4 L457.0,497.3 L457.4,497.7 L457.8,498.7 L458.2,498.9 L458.6,497.5 L459.0,495.9 L459.4,497.0 L459.8,499.3 L460.2,500.3 L460.6,500.0 L461.0,498.0 L461.4,495.9 L461.8,496.1 L462.2,497.9 L462.6,499.0 L463.0,499.1 L463.4,498.4 L463.8,498.1 L464.2,498.6 L464.6,498.9 L465.0,498.8 L465.4,498.7 L465.8,499.0 L466.2,499.6 L466.6,499.5 L467.0,498.9 L467.4,498.2 L467.8,497.4 L468.2,497.4 L468.6,497.4 L469.0,497.8 L469.4,498.9 L469.8,497.7 L470.2,495.9 L470.6,494.5 L471.0,494.5 L471.4,496.8 L471.8,499.2 L472.2,500.8 L472.6,499.9 L473.0,497.3 L473.4,495.8 L473.8,495.3 L474.2,496.1 L474.6,497.3 L475.0,498.3 L475.4,498.6 L475.8,497.5 L476.2,498.0 L476.6,498.8 L477.0,498.0 L477.4,496.8 L477.8,496.7 L478.2,497.1 L478.6,496.7 L479.0,495.7 L479.4,494.4 L479.8,494.3 L480.2,494.9 L480.6,494.7 L481.0,494.7 L481.4,495.3 L481.8,495.9 L482.2,496.7 L482.6,497.1 L483.0,496.5 L483.4,497.4 L483.8,499.3 L484.2,498.7 L484.6,497.4 L485.0,497.3 L485.4,496.4 L485.8,495.2 L486.2,495.9 L486.6,497.4 L487.0,496.4 L487.4,495.2 L487.8,496.5 L488.2,496.3 L488.6,496.3 L489.0,497.3 L489.4,494.9 L489.8,492.0 L490.2,491.8 L490.6,493.4 L491.0,493.9 L491.4,492.5 L491.8,492.2 L492.2,492.3 L492.6,491.5 L493.0,491.1 L493.4,491.4 L493.8,491.0 L494.2,490.1 L494.6,489.5 L495.0,490.5 L495.4,490.9 L495.8,490.3 L496.2,491.2 L496.5,491.5 L496.9,490.9 L497.3,490.8 L497.7,490.3 L498.1,489.0 L498.5,486.1 L498.9,483.8 L499.3,484.1 L499.7,485.5 L500.1,488.0 L500.5,489.3 L500.9,487.3 L501.3,484.5 L501.7,482.2 L502.1,480.8 L502.5,480.2 L502.9,480.0 L503.3,480.3 L503.7,479.0 L504.1,477.7 L504.5,477.9 L504.9,477.7 L505.3,475.8 L505.7,474.5 L506.1,475.6 L506.5,474.2 L506.9,469.1 L507.3,467.3 L507.7,466.9 L508.1,464.6 L508.5,463.6 L508.9,462.5 L509.3,461.9 L509.7,460.4 L510.1,456.9 L510.5,453.6 L510.9,451.8 L511.3,451.4 L511.7,448.6 L512.1,443.5 L512.5,440.5 L512.9,439.1 L513.3,435.6 L513.7,431.1 L514.1,426.2 L514.5,422.7 L514.9,422.0 L515.3,418.4 L515.7,411.8 L516.1,406.3 L516.5,399.9 L516.9,391.7 L517.3,385.3 L517.7,382.1 L518.1,379.3 L518.5,374.8 L518.9,370.3 L519.3,365.0 L519.7,357.0 L520.1,351.2 L520.5,347.8 L520.9,340.9 L521.3,336.6 L521.7,336.0 L522.1,330.2 L522.5,323.4 L522.9,322.7 L523.3,322.5 L523.7,320.0 L524.1,319.4 L524.5,320.2 L524.9,322.0 L525.3,321.9 L525.7,320.5 L526.1,324.1 L526.5,328.0 L526.9,330.5 L527.3,336.3 L527.7,342.2 L528.1,344.8 L528.5,347.2 L528.9,353.6 L529.3,361.3 L529.7,365.0 L530.1,369.4 L530.5,377.6 L530.9,384.3 L531.3,387.0 L531.7,390.0 L532.1,395.7 L532.5,401.4 L532.9,405.8 L533.3,409.1 L533.7,412.7 L534.1,419.4 L534.5,426.3 L534.9,431.0 L535.3,434.8 L535.7,436.5 L536.1,437.2 L536.4,440.9 L536.8,445.1 L537.2,446.9 L537.6,448.4 L538.0,447.9 L538.4,448.8 L538.8,453.3 L539.2,458.4 L539.6,463.6 L540.0,466.3 L540.4,466.3 L540.8,466.0 L541.2,466.5 L541.6,468.1 L542.0,470.1 L542.4,471.4 L542.8,473.5 L543.2,476.3 L543.6,477.8 L544.0,479.6 L544.4,480.7 L544.8,481.4 L545.2,482.7 L545.6,483.0 L546.0,482.8 L546.4,482.4 L546.8,482.5 L547.2,483.6 L547.6,483.5 L548.0,482.0 L548.4,481.6 L548.8,483.3 L549.2,485.1 L549.6,485.0 L550.0,484.2 L550.4,485.2 L550.8,486.3 L551.2,486.6 L551.6,487.0 L552.0,487.0 L552.4,485.9 L552.8,485.7 L553.2,487.2 L553.6,488.2 L554.0,488.6 L554.4,489.7 L554.8,491.4 L555.2,492.5 L555.6,491.7 L556.0,490.5 L556.4,490.2 L556.8,490.6 L557.2,492.1 L557.6,492.7 L558.0,491.5 L558.4,490.5 L558.8,491.5 L559.2,492.5 L559.6,492.4 L560.0,492.6 L560.4,493.1 L560.8,493.0 L561.2,493.1 L561.6,494.4 L562.0,494.8 L562.4,495.6 L562.8,497.4 L563.2,495.3 L563.6,492.0 L564.0,492.6 L564.4,493.0 L564.8,492.7 L565.2,495.1 L565.6,495.7 L566.0,494.0 L566.4,494.0 L566.8,494.6 L567.2,495.4 L567.6,495.3 L568.0,494.3 L568.4,494.6 L568.8,495.9 L569.2,496.0 L569.6,494.4 L570.0,495.4 L570.4,497.5 L570.8,496.5 L571.2,495.3 L571.6,494.8 L572.0,495.9 L572.4,497.5 L572.8,497.3 L573.2,497.2 L573.6,496.4 L574.0,495.8 L574.4,496.1 L574.8,495.6 L575.2,495.3 L575.6,495.1 L576.0,494.5 L576.3,494.6 L576.7,494.8 L577.1,495.1 L577.5,496.8 L577.9,498.6 L578.3,499.4 L578.7,499.2 L579.1,498.8 L579.5,497.9 L579.9,496.3 L580.3,495.5 L580.7,496.3 L581.1,497.0 L581.5,496.3 L581.9,497.5 L582.3,499.3 L582.7,497.9 L583.1,497.5 L583.5,499.2 L583.9,499.5 L584.3,497.8 L584.7,497.9 L585.1,498.5 L585.5,496.0 L585.9,495.7 L586.3,498.3 L586.7,498.8 L587.1,498.8 L587.5,498.9 L587.9,496.2 L588.3,493.2 L588.7,494.1 L589.1,496.1 L589.5,496.4 L589.9,495.4 L590.3,495.4 L590.7,497.1 L591.1,497.0 L591.5,496.6 L591.9,497.1 L592.3,497.1 L592.7,496.4 L593.1,496.3 L593.5,496.4 L593.9,495.1 L594.3,494.0 L594.7,494.1 L595.1,495.3 L595.5,497.1 L595.9,497.9 L596.3,497.1 L596.7,496.0 L597.1,496.3 L597.5,495.6 L597.9,494.2 L598.3,496.1 L598.7,499.3 L599.1,498.8 L599.5,497.8 L599.9,499.4 L600.3,499.9 L600.7,498.8 L601.1,498.7 L601.5,497.5 L601.9,495.4 L602.3,495.7 L602.7,496.0 L603.1,495.7 L603.5,495.7 L603.9,494.7 L604.3,494.4 L604.7,494.1 L605.1,494.6 L605.5,497.0 L605.9,498.1 L606.3,496.0 L606.7,493.4 L607.1,493.6 L607.5,494.3 L607.9,494.7 L608.3,495.8 L608.7,497.1 L609.1,497.2 L609.5,494.2 L609.9,490.5 L610.3,490.6 L610.7,494.4 L611.1,496.5 L611.5,496.2 L611.9,496.4 L612.3,495.5 L612.7,493.8 L613.1,493.1 L613.5,493.5 L613.9,494.6 L614.3,493.7 L614.7,491.5 L615.1,491.6 L615.5,492.5 L615.9,491.1 L616.2,490.3 L616.6,490.6 L617.0,488.7 L617.4,490.1 L617.8,493.3 L618.2,492.5 L618.6,492.2 L619.0,491.4 L619.4,488.6 L619.8,487.2 L620.2,487.1 L620.6,487.9 L621.0,488.0 L621.4,486.6 L621.8,486.4 L622.2,486.8 L622.6,486.2 L623.0,484.6 L623.4,483.5 L623.8,485.0 L624.2,484.2 L624.6,482.3 L625.0,482.1 L625.4,479.8 L625.8,477.7 L626.2,477.8 L626.6,476.2 L627.0,474.4 L627.4,474.0 L627.8,473.2 L628.2,471.6 L628.6,469.3 L629.0,467.2 L629.4,465.7 L629.8,466.8 L630.2,467.7 L630.6,465.2 L631.0,460.7 L631.4,455.7 L631.8,452.8 L632.2,451.2 L632.6,450.2 L633.0,449.8 L633.4,447.8 L633.8,443.5 L634.2,436.0 L634.6,430.1 L635.0,429.6 L635.4,427.4 L635.8,421.1 L636.2,416.8 L636.6,415.6 L637.0,412.2 L637.4,406.4 L637.8,401.5 L638.2,399.8 L638.6,396.5 L639.0,388.7 L639.4,382.6 L639.8,378.0 L640.2,373.8 L640.6,372.3 L641.0,370.2 L641.4,365.3 L641.8,363.9 L642.2,363.7 L642.6,359.1 L643.0,356.3 L643.4,355.4 L643.8,354.1 L644.2,354.1 L644.6,354.7 L645.0,356.2 L645.4,357.5 L645.8,358.0 L646.2,360.3 L646.6,363.7 L647.0,366.1 L647.4,371.1 L647.8,377.8 L648.2,381.0 L648.6,384.0 L649.0,390.2 L649.4,397.0 L649.8,400.4 L650.2,401.2 L650.6,403.6 L651.0,407.4 L651.4,412.6 L651.8,419.7 L652.2,425.9 L652.6,430.0 L653.0,430.5 L653.4,430.0 L653.8,433.8 L654.2,439.3 L654.6,442.3 L655.0,443.9 L655.4,446.7 L655.8,451.7 L656.1,456.3 L656.5,457.9 L656.9,459.3 L657.3,461.6 L657.7,463.3 L658.1,465.1 L658.5,465.9 L658.9,465.3 L659.3,467.2 L659.7,471.3 L660.1,473.6 L660.5,473.4 L660.9,472.8 L661.3,474.2 L661.7,475.3 L662.1,475.1 L662.5,476.2 L662.9,477.6 L663.3,478.4 L663.7,478.9 L664.1,478.6 L664.5,477.5 L664.9,477.4 L665.3,479.7 L665.7,480.2 L666.1,480.8 L666.5,483.0 L666.9,482.0 L667.3,477.5 L667.7,474.1 L668.1,475.6 L668.5,478.6 L668.9,478.2 L669.3,477.1 L669.7,475.1 L670.1,473.2 L670.5,474.8 L670.9,476.4 L671.3,476.0 L671.7,475.4 L672.1,474.6 L672.5,472.9 L672.9,472.5 L673.3,472.9 L673.7,471.9 L674.1,473.0 L674.5,475.2 L674.9,474.1 L675.3,471.5 L675.7,471.0 L676.1,471.7 L676.5,470.9 L676.9,470.6 L677.3,471.5 L677.7,470.3 L678.1,468.3 L678.5,469.1 L678.9,470.6 L679.3,470.4 L679.7,470.4 L680.1,472.3 L680.5,472.7 L680.9,471.4 L681.3,470.1 L681.7,469.5 L682.1,471.4 L682.5,474.1 L682.9,474.3 L683.3,473.6 L683.7,474.5 L684.1,477.8 L684.5,481.0 L684.9,479.7 L685.3,478.7 L685.7,478.7 L686.1,477.4 L686.5,479.0 L686.9,481.3 L687.3,481.2 L687.7,481.2 L688.1,483.6 L688.5,485.8 L688.9,485.3 L689.3,485.0 L689.7,485.4 L690.1,487.0 L690.5,488.6 L690.9,488.6 L691.3,489.3 L691.7,490.4 L692.1,490.3 L692.5,490.4 L692.9,491.2 L693.3,491.6 L693.7,492.0 L694.1,491.6 L694.5,491.3 L694.9,493.5 L695.3,494.5 L695.7,493.4 L696.0,494.4 L696.4,495.6 L696.8,496.0 L697.2,495.9 L697.6,495.2 L698.0,496.1 L698.4,495.0 L698.8,493.1 L699.2,494.8 L699.6,497.5 L700.0,498.7 L700.4,499.1 L700.8,499.4 L701.2,498.4 L701.6,497.3 L702.0,497.5 L702.4,499.0 L702.8,500.7 L703.2,500.7 L703.6,498.4 L704.0,496.8 L704.4,498.7 L704.8,499.9 L705.2,496.7 L705.6,496.7 L706.0,500.5 L706.4,501.1 L706.8,501.1 L707.2,501.2 L707.6,500.0 L708.0,497.8 L708.4,497.0 L708.8,499.7 L709.2,500.2 L709.6,496.9 L710.0,497.2 L710.4,500.4 L710.8,501.0 L711.2,500.3 L711.6,501.5 L712.0,501.5 L712.4,499.3 L712.8,498.3 L713.2,497.7 L713.6,499.0 L714.0,502.6 L714.4,503.1 L714.8,500.7 L715.2,500.3 L715.6,502.0 L716.0,501.8 L716.4,501.2 L716.8,502.4 L717.2,504.0 L717.6,504.2 L718.0,501.7 L718.4,498.8 L718.8,498.4 L719.2,499.6 L719.6,500.7 L720.0,500.1 L720.4,499.0 L720.8,499.7 L721.2,501.2 L721.6,501.7 L722.0,500.7 L722.4,500.3 L722.8,500.1 L723.2,501.4 L723.6,503.4 L724.0,501.6 L724.4,499.9 L724.8,500.0 L725.2,499.1 L725.6,498.1 L726.0,499.3 L726.4,501.1 L726.8,501.1 L727.2,501.0 L727.6,501.5 L728.0,499.5 L728.4,498.1 L728.8,499.2 L729.2,500.2 L729.6,501.9 L730.0,503.1 L730.4,503.0 L730.8,503.5 L731.2,502.2 L731.6,500.9 L732.0,501.7 L732.4,501.9 L732.8,501.3 L733.2,501.2 L733.6,501.2 L734.0,500.9 L734.4,500.4 L734.8,500.2 L735.2,500.5 L735.6,500.7 L735.9,501.8 L736.3,501.8 L736.7,500.9 L737.1,500.6 L737.5,498.7 L737.9,498.8 L738.3,500.9 L738.7,500.3 L739.1,500.4 L739.5,501.6 L739.9,501.8 L740.3,501.5 L740.7,501.6 L741.1,502.2 L741.5,502.3 L741.9,501.4 L742.3,500.0 L742.7,500.5 L743.1,501.9 L743.5,500.6 L743.9,500.2 L744.3,502.0 L744.7,502.4 L745.1,501.2 L745.5,501.0 L745.9,501.6 L746.3,500.4 L746.7,499.0 L747.1,499.7 L747.5,501.5 L747.9,502.5 L748.3,503.1 L748.7,502.7 L749.1,502.4 L749.5,502.8 L749.9,502.5 L750.3,501.7 L750.7,502.0 L751.1,503.5 L751.5,503.9 L751.9,503.4 L752.3,502.3 L752.7,502.3 L753.1,503.4 L753.5,502.9 L753.9,503.5 L754.3,504.5 L754.7,504.1 L755.1,503.6 L755.5,503.0 L755.9,502.3 L756.3,501.8 L756.7,501.9 L757.1,501.3 L757.5,501.8 L757.9,503.5 L758.3,503.0 L758.7,502.4 L759.1,503.0 L759.5,503.0 L759.9,502.5 L760.3,502.9 L760.7,502.3 L761.1,501.3 L761.5,502.0 L761.9,501.6 L762.3,500.2 L762.7,499.3 L763.1,498.7 L763.5,499.5 L763.9,502.0 L764.3,502.1 L764.7,499.4 L765.1,499.6 L765.5,501.2 L765.9,500.8 L766.3,500.5 L766.7,501.3 L767.1,502.5 L767.5,504.1 L767.9,504.0 L768.3,502.5 L768.7,502.1 L769.1,501.6 L769.5,500.0 L769.9,498.9 L770.3,500.3 L770.7,502.6 L771.1,501.4 L771.5,498.8 L771.9,499.6 L772.3,501.9 L772.7,502.5 L773.1,501.6 L773.5,499.7 L773.9,498.4 L774.3,499.8 L774.7,501.7 L775.1,501.2 L775.5,501.1 L775.8,502.7 L776.2,502.0 L776.6,500.6 L777.0,501.0 L777.4,501.2 L777.8,501.4 L778.2,502.4 L778.6,502.6 L779.0,502.1 L779.4,503.4 L779.8,504.4 L780.2,503.4 L780.6,502.4 L781.0,500.7 L781.4,499.9 L781.8,499.9 L782.2,499.7 L782.6,500.1 L783.0,500.3 L783.4,499.8 L783.8,498.7 L784.2,500.4 L784.6,502.6 L785.0,501.3 L785.4,500.4 L785.8,500.9 L786.2,500.7 L786.6,501.2 L787.0,502.5 L787.4,502.5 L787.8,501.8 L788.2,502.4 L788.6,502.4 L789.0,500.4 L789.4,500.6 L789.8,502.0 L790.2,500.8 L790.6,500.2 L791.0,500.5 L791.4,499.0 L791.8,498.2 L792.2,499.8 L792.6,501.8 L793.0,501.8 L793.4,501.8 L793.8,501.6 L794.2,499.9 L794.6,499.9 L795.0,501.9 L795.4,502.1 L795.8,501.2 L796.2,500.1 L796.6,499.5 L797.0,499.6 L797.4,499.8 L797.8,499.8 L798.2,498.0 L798.6,496.1 L799.0,496.1 L799.4,497.5 L799.8,498.6 L800.2,498.5 L800.6,499.5 L801.0,500.5 L801.4,498.9 L801.8,497.1 L802.2,498.0 L802.6,499.1 L803.0,498.4 L803.4,497.6 L803.8,494.7 L804.2,493.0 L804.6,494.9 L805.0,495.6 L805.4,494.2 L805.8,494.1 L806.2,495.6 L806.6,494.0 L807.0,492.1 L807.4,492.0 L807.8,491.6 L808.2,491.7 L808.6,492.1 L809.0,490.2 L809.4,486.9 L809.8,487.2 L810.2,489.3 L810.6,489.0 L811.0,487.3 L811.4,485.7 L811.8,485.0 L812.2,483.8 L812.6,483.0 L813.0,482.3 L813.4,480.9 L813.8,481.8 L814.2,483.9 L814.6,482.8 L815.0,479.8 L815.4,478.0 L815.7,478.3 L816.1,479.1 L816.5,479.5 L816.9,479.0 L817.3,478.1 L817.7,478.6 L818.1,478.4 L818.5,476.9 L818.9,477.8 L819.3,479.0 L819.7,478.6 L820.1,478.5 L820.5,479.1 L820.9,480.6 L821.3,481.3 L821.7,479.8 L822.1,477.7 L822.5,477.5 L822.9,480.0 L823.3,481.5 L823.7,480.0 L824.1,478.9 L824.5,480.7 L824.9,482.7 L825.3,482.9 L825.7,483.8 L826.1,485.9 L826.5,485.3 L826.9,484.5 L827.3,486.8 L827.7,488.6 L828.1,489.8 L828.5,491.3 L828.9,490.4 L829.3,489.4 L829.7,490.6 L830.1,492.4 L830.5,493.1 L830.9,492.2 L831.3,492.1 L831.7,493.0 L832.1,493.0 L832.5,493.5 L832.9,495.2 L833.3,495.9 L833.7,495.9 L834.1,494.1 L834.5,492.1 L834.9,492.9 L835.3,495.0 L835.7,496.8 L836.1,497.1 L836.5,496.4 L836.9,497.9 L837.3,498.9 L837.7,498.1 L838.1,498.1 L838.5,497.7 L838.9,498.0 L839.3,498.9 L839.7,499.6 L840.1,501.3 L840.5,501.0 L840.9,498.6 L841.3,497.9 L841.7,498.2 L842.1,498.6 L842.5,498.6 L842.9,497.7 L843.3,497.5 L843.7,499.0 L844.1,501.4 L844.5,501.4 L844.9,500.3 L845.3,501.2 L845.7,501.0 L846.1,500.1 L846.5,499.8 L846.9,498.5 L847.3,497.5 L847.7,497.5 L848.1,498.4 L848.5,499.6 L848.9,499.6 L849.3,499.5 L849.7,499.9 L850.1,500.0 L850.5,500.4 L850.9,500.2 L851.3,498.7 L851.7,498.2 L852.1,498.9 L852.5,498.7 L852.9,498.5 L853.3,500.6 L853.7,502.8 L854.1,501.8 L854.5,499.3 L854.9,498.5 L855.3,498.5 L855.6,498.3 L856.0,500.0 L856.4,502.0 L856.8,501.1 L857.2,498.9 L857.6,498.5 L858.0,500.9 L858.4,503.1 L858.8,502.6 L859.2,500.6 L859.6,499.7 L860.0,499.9 L860.4,498.2 L860.8,496.2 L861.2,497.3 L861.6,499.2 L862.0,500.3 L862.4,501.0 L862.8,500.8 L863.2,499.9 L863.6,499.0 L864.0,498.9 L864.4,498.9 L864.8,499.7 L865.2,499.9 L865.6,498.8 L866.0,498.9 L866.4,499.8 L866.8,499.4 L867.2,498.9 L867.6,500.1 L868.0,501.4 L868.4,501.4 L868.8,501.1 L869.2,500.5 L869.6,500.2 L870.0,499.5 L870.4,499.6 L870.8,499.6 L871.2,498.1 L871.6,498.6 L872.0,499.8 L872.4,500.1 L872.8,500.0 L873.2,498.3 L873.6,497.3 L874.0,497.5 L874.4,497.1 L874.8,496.7 L875.2,498.0 L875.6,499.9 L876.0,499.5 L876.4,499.0 L876.8,498.9 L877.2,497.7 L877.6,499.3 L878.0,501.5 L878.4,499.6 L878.8,497.7 L879.2,498.9 L879.6,500.4 L880.0,500.1 L880.4,499.1 L880.8,498.7 L881.2,498.5 L881.6,499.4 L882.0,499.5 L882.4,498.6 L882.8,499.6 L883.2,499.7 L883.6,498.5 L884.0,498.6 L884.4,499.6 L884.8,499.5 L885.2,498.1 L885.6,497.4 L886.0,498.0 L886.4,498.0 L886.8,497.8 L887.2,498.5 L887.6,500.2 L888.0,501.4 L888.4,499.4 L888.8,496.0 L889.2,495.2 L889.6,497.0 L890.0,497.8 L890.4,497.1 L890.8,496.8 L891.2,496.6 L891.6,497.0 L892.0,496.6 L892.4,495.2 L892.8,494.5 L893.2,494.4 L893.6,494.4 L894.0,494.5 L894.4,494.9 L894.8,494.5 L895.2,493.8 L895.5,495.4 L895.9,496.3 L896.3,494.3 L896.7,491.7 L897.1,490.0 L897.5,489.4 L897.9,489.3 L898.3,488.7 L898.7,488.6 L899.1,488.4 L899.5,488.3 L899.9,487.9 L900.3,486.0 L900.7,484.8 L901.1,484.2 L901.5,482.9 L901.9,482.3 L902.3,482.1 L902.7,481.4 L903.1,480.9 L903.5,478.4 L903.9,476.1 L904.3,475.9 L904.7,474.6 L905.1,473.0 L905.5,472.4 L905.9,472.4 L906.3,472.4 L906.7,471.3 L907.1,470.2 L907.5,469.6 L907.9,468.3 L908.3,466.0 L908.7,464.0 L909.1,464.5 L909.5,464.3 L909.9,461.6 L910.3,459.5 L910.7,458.0 L911.1,457.0 L911.5,454.6 L911.9,452.0 L912.3,452.8 L912.7,455.1 L913.1,456.0 L913.5,455.6 L913.9,453.6 L914.3,451.3 L914.7,450.2 L915.1,450.8 L915.5,451.5 L915.9,451.7 L916.3,452.4 L916.7,452.7 L917.1,451.0 L917.5,450.6 L917.9,454.5 L918.3,457.8 L918.7,457.2 L919.1,455.2 L919.5,453.7 L919.9,453.3 L920.3,455.9 L920.7,457.5 L921.1,457.0 L921.5,459.9 L921.9,462.6 L922.3,462.2 L922.7,462.9 L923.1,464.7 L923.5,465.9 L923.9,467.0 L924.3,468.6 L924.7,469.4 L925.1,468.7 L925.5,470.4 L925.9,474.0 L926.3,475.4 L926.7,474.1 L927.1,471.4 L927.5,471.5 L927.9,474.2 L928.3,475.9 L928.7,476.8 L929.1,477.6 L929.5,478.2 L929.9,479.7 L930.3,481.2 L930.7,480.4 L931.1,479.2 L931.5,479.3 L931.9,479.1 L932.3,480.2 L932.7,480.1 L933.1,476.8 L933.5,477.2 L933.9,480.4 L934.3,481.2 L934.7,479.7 L935.1,479.8 L935.4,480.0 L935.8,477.9 L936.2,477.4 L936.6,477.3 L937.0,477.6 L937.4,478.7 L937.8,478.4 L938.2,477.8 L938.6,476.9 L939.0,475.6 L939.4,475.6 L939.8,474.5 L940.2,471.6 L940.6,469.8 L941.0,468.4 L941.4,466.6 L941.8,466.8 L942.2,470.0 L942.6,470.8 L943.0,467.2 L943.4,464.2 L943.8,464.8 L944.2,467.9 L944.6,468.8 L945.0,466.0 L945.4,466.7 L945.8,467.9 L946.2,464.3 L946.6,462.2 L947.0,463.1 L947.4,464.1 L947.8,463.3 L948.2,462.0 L948.6,463.4 L949.0,466.3 L949.4,468.6 L949.8,468.8 L950.2,467.5 L950.6,465.7 L951.0,466.3 L951.4,469.2 L951.8,469.1 L952.2,468.3 L952.6,469.9 L953.0,470.0 L953.4,470.0 L953.8,471.2 L954.2,472.0 L954.6,473.5 L955.0,475.0"/>
<path class="c" d="M157.0,396.5 L157.4,395.6 L157.8,395.2 L158.2,396.8 L158.6,396.5 L159.0,394.5 L159.4,393.7 L159.8,393.1 L160.2,394.3 L160.6,396.9 L161.0,396.8 L161.4,396.5 L161.8,396.6 L162.2,395.3 L162.6,393.7 L163.0,394.0 L163.4,396.3 L163.8,396.3 L164.2,393.4 L164.6,393.1 L165.0,395.5 L165.4,397.3 L165.8,397.6 L166.2,397.3 L166.6,395.9 L167.0,394.5 L167.4,395.8 L167.8,397.4 L168.2,396.0 L168.6,395.2 L169.0,397.1 L169.4,397.7 L169.8,398.3 L170.2,398.4 L170.6,395.9 L171.0,392.9 L171.4,392.1 L171.8,394.7 L172.2,396.6 L172.6,396.1 L173.0,396.4 L173.4,397.3 L173.8,397.2 L174.2,396.5 L174.6,395.9 L175.0,396.3 L175.4,397.0 L175.8,396.0 L176.2,394.8 L176.6,394.7 L177.0,395.4 L177.3,396.3 L177.7,396.6 L178.1,396.0 L178.5,394.3 L178.9,393.8 L179.3,394.8 L179.7,394.7 L180.1,395.7 L180.5,397.4 L180.9,396.3 L181.3,395.3 L181.7,396.0 L182.1,395.5 L182.5,395.7 L182.9,397.5 L183.3,399.6 L183.7,399.7 L184.1,396.4 L184.5,395.3 L184.9,397.2 L185.3,397.6 L185.7,397.3 L186.1,397.8 L186.5,396.5 L186.9,394.8 L187.3,395.0 L187.7,395.5 L188.1,395.1 L188.5,394.7 L188.9,395.7 L189.3,397.5 L189.7,398.8 L190.1,398.3 L190.5,395.2 L190.9,395.2 L191.3,398.1 L191.7,397.9 L192.1,395.9 L192.5,395.1 L192.9,395.7 L193.3,396.0 L193.7,396.5 L194.1,396.7 L194.5,395.4 L194.9,394.1 L195.3,393.6 L195.7,394.2 L196.1,395.5 L196.5,396.3 L196.9,396.0 L197.3,396.2 L197.7,394.3 L198.1,392.8 L198.5,394.8 L198.9,395.2 L199.3,393.4 L199.7,391.4 L200.1,391.0 L200.5,393.5 L200.9,394.2 L201.3,392.9 L201.7,395.2 L202.1,396.3 L202.5,394.3 L202.9,395.2 L203.3,395.9 L203.7,395.0 L204.1,394.5 L204.5,394.2 L204.9,396.1 L205.3,397.4 L205.7,395.4 L206.1,392.7 L206.5,393.2 L206.9,397.5 L207.3,398.6 L207.7,395.7 L208.1,394.8 L208.5,395.9 L208.9,395.7 L209.3,394.2 L209.7,393.3 L210.1,392.7 L210.5,393.7 L210.9,395.2 L211.3,396.5 L211.7,396.0 L212.1,393.8 L212.5,392.5 L212.9,393.7 L213.3,396.9 L213.7,396.9 L214.1,393.6 L214.5,392.7 L214.9,394.3 L215.3,394.5 L215.7,393.9 L216.1,394.7 L216.5,395.4 L216.9,395.2 L217.2,395.2 L217.6,394.9 L218.0,394.2 L218.4,394.2 L218.8,395.0 L219.2,394.6 L219.6,393.8 L220.0,393.9 L220.4,393.6 L220.8,393.8 L221.2,395.0 L221.6,394.2 L222.0,391.9 L222.4,392.3 L222.8,392.8 L223.2,392.3 L223.6,393.1 L224.0,392.9 L224.4,391.1 L224.8,389.3 L225.2,389.9 L225.6,393.4 L226.0,395.3 L226.4,392.1 L226.8,390.4 L227.2,393.1 L227.6,394.6 L228.0,393.9 L228.4,393.0 L228.8,393.4 L229.2,392.4 L229.6,390.3 L230.0,390.7 L230.4,391.2 L230.8,391.4 L231.2,392.4 L231.6,392.4 L232.0,392.2 L232.4,392.0 L232.8,392.3 L233.2,390.9 L233.6,388.3 L234.0,389.5 L234.4,391.2 L234.8,391.5 L235.2,393.1 L235.6,392.4 L236.0,389.6 L236.4,389.5 L236.8,389.6 L237.2,389.6 L237.6,391.2 L238.0,390.8 L238.4,388.2 L238.8,386.0 L239.2,385.0 L239.6,386.0 L240.0,386.8 L240.4,386.4 L240.8,388.6 L241.2,389.0 L241.6,384.6 L242.0,383.9 L242.4,386.0 L242.8,384.8 L243.2,382.6 L243.6,382.5 L244.0,383.3 L244.4,382.8 L244.8,380.9 L245.2,380.2 L245.6,380.7 L246.0,380.6 L246.4,378.5 L246.8,375.6 L247.2,376.2 L247.6,378.3 L248.0,377.4 L248.4,376.1 L248.8,376.0 L249.2,376.5 L249.6,376.4 L250.0,374.8 L250.4,373.7 L250.8,372.7 L251.2,369.8 L251.6,366.8 L252.0,366.6 L252.4,367.2 L252.8,364.8 L253.2,362.4 L253.6,360.1 L254.0,357.3 L254.4,356.3 L254.8,355.6 L255.2,352.4 L255.6,350.5 L256.0,351.6 L256.4,350.5 L256.8,345.8 L257.1,342.6 L257.5,342.2 L257.9,338.3 L258.3,331.7 L258.7,327.4 L259.1,323.2 L259.5,321.3 L259.9,323.7 L260.3,320.1 L260.7,312.0 L261.1,309.0 L261.5,306.4 L261.9,302.7 L262.3,299.8 L262.7,294.9 L263.1,287.8 L263.5,282.0 L263.9,280.0 L264.3,275.3 L264.7,265.1 L265.1,258.1 L265.5,253.6 L265.9,247.5 L266.3,243.5 L266.7,240.6 L267.1,234.5 L267.5,227.0 L267.9,220.1 L268.3,214.7 L268.7,210.3 L269.1,203.0 L269.5,195.5 L269.9,191.8 L270.3,190.8 L270.7,188.9 L271.1,182.6 L271.5,179.4 L271.9,179.5 L272.3,176.5 L272.7,174.1 L273.1,172.6 L273.5,169.0 L273.9,166.5 L274.3,167.4 L274.7,167.3 L275.1,168.2 L275.5,172.5 L275.9,176.1 L276.3,180.4 L276.7,182.6 L277.1,183.0 L277.5,187.4 L277.9,190.5 L278.3,195.0 L278.7,203.5 L279.1,207.7 L279.5,211.1 L279.9,219.9 L280.3,229.9 L280.7,238.1 L281.1,243.3 L281.5,244.7 L281.9,247.3 L282.3,254.9 L282.7,263.5 L283.1,270.3 L283.5,275.5 L283.9,279.5 L284.3,283.3 L284.7,286.6 L285.1,291.6 L285.5,298.5 L285.9,302.4 L286.3,303.5 L286.7,307.1 L287.1,313.0 L287.5,318.0 L287.9,323.5 L288.3,328.7 L288.7,329.1 L289.1,328.9 L289.5,331.6 L289.9,334.6 L290.3,338.0 L290.7,342.7 L291.1,347.4 L291.5,349.7 L291.9,348.9 L292.3,348.6 L292.7,350.6 L293.1,352.0 L293.5,354.2 L293.9,356.9 L294.3,359.8 L294.7,362.5 L295.1,361.8 L295.5,360.7 L295.9,362.7 L296.3,363.6 L296.7,362.3 L297.0,362.4 L297.4,363.8 L297.8,364.2 L298.2,364.4 L298.6,367.2 L299.0,369.6 L299.4,370.0 L299.8,370.7 L300.2,370.3 L300.6,369.4 L301.0,370.1 L301.4,372.4 L301.8,373.9 L302.2,374.3 L302.6,374.5 L303.0,375.1 L303.4,376.6 L303.8,375.4 L304.2,373.3 L304.6,373.8 L305.0,373.9 L305.4,372.6 L305.8,374.2 L306.2,377.8 L306.6,378.7 L307.0,379.8 L307.4,381.2 L307.8,378.7 L308.2,376.5 L308.6,376.7 L309.0,377.1 L309.4,378.4 L309.8,379.5 L310.2,378.3 L310.6,374.9 L311.0,373.4 L311.4,376.2 L311.8,377.8 L312.2,376.6 L312.6,375.2 L313.0,374.6 L313.4,375.1 L313.8,374.8 L314.2,373.0 L314.6,373.5 L315.0,374.9 L315.4,373.9 L315.8,372.2 L316.2,372.1 L316.6,373.2 L317.0,372.0 L317.4,371.0 L317.8,373.0 L318.2,372.0 L318.6,368.3 L319.0,365.7 L319.4,365.7 L319.8,367.3 L320.2,365.1 L320.6,360.8 L321.0,359.9 L321.4,360.1 L321.8,360.5 L322.2,362.8 L322.6,361.4 L323.0,355.8 L323.4,352.6 L323.8,352.6 L324.2,351.6 L324.6,348.9 L325.0,347.6 L325.4,347.9 L325.8,347.7 L326.2,347.2 L326.6,344.9 L327.0,341.2 L327.4,338.6 L327.8,336.7 L328.2,334.6 L328.6,333.1 L329.0,330.9 L329.4,327.9 L329.8,328.0 L330.2,328.8 L330.6,326.9 L331.0,324.2 L331.4,323.9 L331.8,324.0 L332.2,322.4 L332.6,321.2 L333.0,320.1 L333.4,318.6 L333.8,316.9 L334.2,316.5 L334.6,318.7 L335.0,321.7 L335.4,322.6 L335.8,322.4 L336.2,325.0 L336.6,324.2 L336.9,320.6 L337.3,324.1 L337.7,328.9 L338.1,329.8 L338.5,331.7 L338.9,332.9 L339.3,332.8 L339.7,334.6 L340.1,337.7 L340.5,338.2 L340.9,336.5 L341.3,338.0 L341.7,341.2 L342.1,344.6 L342.5,348.1 L342.9,349.8 L343.3,351.6 L343.7,353.3 L344.1,354.4 L344.5,356.8 L344.9,357.3 L345.3,357.2 L345.7,360.1 L346.1,362.8 L346.5,362.8 L346.9,362.8 L347.3,366.7 L347.7,372.1 L348.1,372.4 L348.5,369.5 L348.9,369.2 L349.3,369.6 L349.7,368.8 L350.1,370.0 L350.5,374.1 L350.9,377.8 L351.3,379.4 L351.7,381.0 L352.1,381.0 L352.5,378.6 L352.9,376.9 L353.3,376.7 L353.7,378.7 L354.1,381.7 L354.5,382.2 L354.9,380.2 L355.3,380.0 L355.7,381.4 L356.1,381.1 L356.5,381.1 L356.9,382.9 L357.3,383.4 L357.7,382.8 L358.1,383.1 L358.5,383.6 L358.9,383.9 L359.3,385.5 L359.7,387.1 L360.1,386.8 L360.5,386.5 L360.9,385.5 L361.3,383.0 L361.7,383.3 L362.1,385.6 L362.5,386.0 L362.9,385.7 L363.3,385.1 L363.7,385.9 L364.1,390.3 L364.5,393.3 L364.9,390.7 L365.3,386.8 L365.7,386.7 L366.1,387.4 L366.5,386.7 L366.9,387.4 L367.3,390.0 L367.7,390.2 L368.1,387.7 L368.5,386.9 L368.9,385.7 L369.3,385.4 L369.7,386.9 L370.1,386.6 L370.5,387.8 L370.9,390.1 L371.3,389.8 L371.7,389.8 L372.1,390.3 L372.5,389.1 L372.9,389.2 L373.3,391.0 L373.7,390.2 L374.1,387.9 L374.5,387.3 L374.9,389.1 L375.3,390.7 L375.7,390.1 L376.1,390.8 L376.5,393.1 L376.8,392.1 L377.2,390.1 L377.6,389.3 L378.0,388.1 L378.4,388.5 L378.8,388.4 L379.2,388.1 L379.6,388.8 L380.0,389.2 L380.4,389.7 L380.8,391.2 L381.2,392.6 L381.6,390.8 L382.0,389.2 L382.4,389.7 L382.8,389.9 L383.2,389.9 L383.6,390.1 L384.0,390.8 L384.4,391.9 L384.8,393.2 L385.2,393.8 L385.6,392.7 L386.0,390.9 L386.4,389.4 L386.8,390.1 L387.2,392.0 L387.6,391.2 L388.0,390.5 L388.4,391.7 L388.8,393.4 L389.2,394.2 L389.6,392.2 L390.0,390.3 L390.4,391.0 L390.8,391.0 L391.2,391.0 L391.6,392.2 L392.0,391.8 L392.4,391.7 L392.8,392.7 L393.2,392.9 L393.6,392.7 L394.0,391.8 L394.4,390.5 L394.8,390.3 L395.2,391.0 L395.6,392.1 L396.0,391.9 L396.4,390.4 L396.8,389.2 L397.2,389.2 L397.6,392.1 L398.0,393.0 L398.4,390.9 L398.8,390.4 L399.2,390.5 L399.6,390.5 L400.0,391.8 L400.4,392.1 L400.8,390.7 L401.2,390.3 L401.6,391.4 L402.0,391.9 L402.4,390.2 L402.8,390.1 L403.2,391.8 L403.6,391.6 L404.0,391.3 L404.4,391.6 L404.8,391.9 L405.2,391.5 L405.6,390.1 L406.0,391.0 L406.4,394.0 L406.8,395.6 L407.2,394.2 L407.6,393.5 L408.0,395.2 L408.4,395.6 L408.8,395.6 L409.2,393.6 L409.6,391.3 L410.0,391.9 L410.4,392.4 L410.8,392.1 L411.2,391.8 L411.6,392.2 L412.0,392.0 L412.4,391.4 L412.8,391.7 L413.2,391.1 L413.6,390.0 L414.0,390.4 L414.4,391.8 L414.8,390.9 L415.2,388.9 L415.6,389.7 L416.0,391.7 L416.4,392.3 L416.7,391.8 L417.1,391.3 L417.5,391.7 L417.9,392.7 L418.3,393.1 L418.7,393.6 L419.1,394.0 L419.5,393.3 L419.9,393.8 L420.3,393.8 L420.7,391.3 L421.1,391.7 L421.5,393.6 L421.9,392.5 L422.3,392.7 L422.7,395.2 L423.1,395.5 L423.5,393.3 L423.9,392.3 L424.3,392.6 L424.7,393.1 L425.1,393.4 L425.5,391.2 L425.9,389.0 L426.3,389.3 L426.7,391.7 L427.1,393.5 L427.5,393.5 L427.9,393.8 L428.3,393.7 L428.7,393.2 L429.1,393.0 L429.5,392.1 L429.9,392.0 L430.3,393.2 L430.7,394.3 L431.1,394.2 L431.5,393.7 L431.9,393.0 L432.3,392.5 L432.7,392.0 L433.1,390.2 L433.5,390.1 L433.9,392.2 L434.3,392.6 L434.7,392.3 L435.1,392.5 L435.5,391.0 L435.9,389.1 L436.3,390.1 L436.7,391.4 L437.1,391.2 L437.5,391.3 L437.9,391.2 L438.3,391.8 L438.7,392.2 L439.1,390.4 L439.5,389.5 L439.9,391.5 L440.3,392.5 L440.7,391.8 L441.1,390.9 L441.5,390.7 L441.9,391.8 L442.3,392.9 L442.7,392.9 L443.1,391.0 L443.5,388.6 L443.9,388.8 L444.3,391.9 L444.7,393.8 L445.1,393.0 L445.5,392.4 L445.9,392.4 L446.3,392.5 L446.7,391.8 L447.1,390.8 L447.5,392.3 L447.9,393.0 L448.3,391.0 L448.7,390.9 L449.1,392.1 L449.5,392.4 L449.9,391.8 L450.3,392.1 L450.7,394.4 L451.1,394.8 L451.5,394.4 L451.9,393.7 L452.3,392.5 L452.7,392.1 L453.1,391.5 L453.5,391.8 L453.9,393.3 L454.3,393.7 L454.7,392.2 L455.1,391.0 L455.5,392.1 L455.9,393.6 L456.3,391.3 L456.6,389.5 L457.0,392.2 L457.4,392.7 L457.8,389.8 L458.2,388.5 L458.6,390.2 L459.0,391.5 L459.4,389.8 L459.8,389.2 L460.2,392.8 L460.6,394.2 L461.0,391.8 L461.4,390.9 L461.8,391.0 L462.2,390.4 L462.6,390.1 L463.0,391.3 L463.4,392.7 L463.8,390.8 L464.2,387.5 L464.6,387.4 L465.0,389.6 L465.4,391.7 L465.8,393.4 L466.2,394.4 L466.6,392.3 L467.0,388.6 L467.4,389.3 L467.8,392.1 L468.2,391.8 L468.6,390.6 L469.0,391.5 L469.4,391.8 L469.8,390.1 L470.2,390.0 L470.6,390.7 L471.0,389.6 L471.4,390.4 L471.8,392.0 L472.2,389.9 L472.6,387.8 L473.0,388.3 L473.4,388.3 L473.8,388.5 L474.2,389.7 L474.6,391.5 L475.0,391.4 L475.4,388.7 L475.8,387.6 L476.2,390.0 L476.6,392.7 L477.0,391.4 L477.4,388.4 L477.8,388.3 L478.2,389.0 L478.6,389.6 L479.0,390.1 L479.4,390.5 L479.8,392.3 L480.2,392.8 L480.6,389.2 L481.0,387.6 L481.4,389.0 L481.8,389.4 L482.2,388.9 L482.6,387.0 L483.0,385.9 L483.4,386.1 L483.8,386.2 L484.2,387.6 L484.6,388.5 L485.0,386.9 L485.4,387.1 L485.8,388.7 L486.2,388.3 L486.6,388.4 L487.0,389.5 L487.4,389.4 L487.8,387.9 L488.2,385.7 L488.6,384.8 L489.0,387.0 L489.4,389.0 L489.8,387.4 L490.2,385.1 L490.6,386.1 L491.0,387.4 L491.4,385.6 L491.8,383.2 L492.2,382.5 L492.6,383.8 L493.0,387.3 L493.4,388.5 L493.8,385.1 L494.2,382.4 L494.6,383.7 L495.0,385.9 L495.4,386.5 L495.8,385.5 L496.2,384.0 L496.5,384.1 L496.9,384.3 L497.3,384.9 L497.7,385.8 L498.1,386.4 L498.5,386.8 L498.9,385.0 L499.3,382.2 L499.7,380.9 L500.1,380.8 L500.5,380.9 L500.9,381.5 L501.3,381.8 L501.7,381.8 L502.1,381.0 L502.5,379.2 L502.9,378.3 L503.3,380.2 L503.7,382.2 L504.1,381.1 L504.5,380.9 L504.9,382.5 L505.3,381.5 L505.7,377.4 L506.1,373.0 L506.5,372.7 L506.9,374.8 L507.3,374.6 L507.7,375.2 L508.1,375.9 L508.5,375.6 L508.9,375.7 L509.3,372.8 L509.7,368.0 L510.1,365.7 L510.5,363.3 L510.9,361.7 L511.3,363.2 L511.7,363.4 L512.1,361.1 L512.5,357.9 L512.9,354.8 L513.3,353.2 L513.7,351.9 L514.1,350.1 L514.5,350.5 L514.9,350.5 L515.3,346.6 L515.7,342.0 L516.1,339.2 L516.5,336.5 L516.9,335.2 L517.3,333.9 L517.7,328.4 L518.1,322.0 L518.5,320.0 L518.9,320.0 L519.3,317.1 L519.7,312.0 L520.1,306.7 L520.5,301.8 L520.9,299.2 L521.3,297.7 L521.7,295.2 L522.1,292.5 L522.5,288.5 L522.9,284.2 L523.3,278.8 L523.7,274.2 L524.1,272.3 L524.5,268.3 L524.9,264.2 L525.3,263.1 L525.7,259.7 L526.1,256.5 L526.5,256.4 L526.9,251.4 L527.3,246.2 L527.7,247.6 L528.1,246.2 L528.5,242.1 L528.9,242.4 L529.3,246.1 L529.7,246.1 L530.1,243.2 L530.5,243.2 L530.9,246.5 L531.3,249.7 L531.7,249.0 L532.1,250.3 L532.5,257.1 L532.9,262.6 L533.3,265.2 L533.7,267.6 L534.1,269.6 L534.5,272.8 L534.9,277.3 L535.3,281.0 L535.7,283.7 L536.1,286.7 L536.4,292.0 L536.8,297.3 L537.2,300.7 L537.6,302.0 L538.0,303.5 L538.4,307.7 L538.8,312.1 L539.2,316.4 L539.6,320.4 L540.0,324.4 L540.4,329.7 L540.8,332.7 L541.2,333.2 L541.6,333.0 L542.0,334.1 L542.4,338.7 L542.8,343.8 L543.2,349.8 L543.6,352.6 L544.0,350.3 L544.4,349.9 L544.8,351.2 L545.2,354.3 L545.6,358.4 L546.0,359.3 L546.4,359.7 L546.8,362.7 L547.2,366.2 L547.6,365.6 L548.0,363.8 L548.4,365.8 L548.8,368.6 L549.2,370.3 L549.6,371.1 L550.0,371.3 L550.4,372.2 L550.8,372.6 L551.2,372.4 L551.6,373.4 L552.0,373.3 L552.4,374.2 L552.8,375.8 L553.2,374.7 L553.6,374.6 L554.0,376.0 L554.4,378.1 L554.8,382.2 L555.2,384.3 L555.6,383.2 L556.0,381.7 L556.4,379.5 L556.8,378.7 L557.2,377.3 L557.6,376.2 L558.0,378.3 L558.4,381.2 L558.8,384.9 L559.2,386.7 L559.6,385.6 L560.0,385.0 L560.4,384.2 L560.8,384.6 L561.2,384.5 L561.6,384.4 L562.0,386.8 L562.4,385.0 L562.8,382.0 L563.2,383.2 L563.6,383.7 L564.0,383.1 L564.4,383.3 L564.8,383.8 L565.2,383.9 L565.6,384.0 L566.0,382.8 L566.4,382.5 L566.8,385.4 L567.2,386.7 L567.6,385.0 L568.0,383.4 L568.4,384.4 L568.8,386.6 L569.2,387.4 L569.6,388.5 L570.0,388.9 L570.4,387.5 L570.8,386.0 L571.2,384.1 L571.6,383.7 L572.0,385.1 L572.4,385.8 L572.8,386.5 L573.2,386.1 L573.6,386.2 L574.0,388.6 L574.4,388.8 L574.8,386.9 L575.2,385.9 L575.6,386.9 L576.0,387.2 L576.3,386.7 L576.7,387.8 L577.1,389.9 L577.5,389.5 L577.9,387.3 L578.3,389.9 L578.7,393.8 L579.1,393.0 L579.5,389.3 L579.9,387.4 L580.3,388.6 L580.7,388.5 L581.1,389.2 L581.5,391.8 L581.9,391.1 L582.3,390.3 L582.7,390.1 L583.1,388.0 L583.5,387.3 L583.9,389.0 L584.3,390.5 L584.7,389.1 L585.1,386.8 L585.5,387.8 L585.9,388.1 L586.3,386.4 L586.7,387.4 L587.1,389.4 L587.5,388.6 L587.9,386.0 L588.3,386.1 L588.7,387.8 L589.1,388.0 L589.5,388.9 L589.9,391.7 L590.3,394.2 L590.7,393.3 L591.1,389.1 L591.5,387.0 L591.9,388.7 L592.3,389.5 L592.7,385.9 L593.1,383.7 L593.5,385.9 L593.9,387.2 L594.3,387.1 L594.7,388.6 L595.1,390.7 L595.5,390.1 L595.9,386.7 L596.3,385.4 L596.7,387.4 L597.1,389.2 L597.5,390.6 L597.9,390.3 L598.3,387.3 L598.7,385.7 L599.1,387.7 L599.5,388.5 L599.9,388.2 L600.3,389.4 L600.7,387.6 L601.1,384.0 L601.5,385.1 L601.9,388.2 L602.3,388.4 L602.7,387.4 L603.1,387.5 L603.5,390.4 L603.9,390.9 L604.3,386.5 L604.7,385.6 L605.1,387.7 L605.5,387.7 L605.9,386.3 L606.3,385.5 L606.7,385.8 L607.1,386.7 L607.5,387.2 L607.9,385.6 L608.3,386.2 L608.7,388.6 L609.1,387.4 L609.5,385.8 L609.9,386.3 L610.3,386.7 L610.7,387.3 L611.1,388.7 L611.5,388.5 L611.9,386.8 L612.3,387.4 L612.7,390.0 L613.1,389.6 L613.5,387.6 L613.9,387.0 L614.3,387.2 L614.7,387.5 L615.1,387.5 L615.5,387.2 L615.9,387.0 L616.2,386.7 L616.6,385.8 L617.0,385.7 L617.4,386.3 L617.8,385.4 L618.2,384.8 L618.6,386.2 L619.0,385.8 L619.4,384.1 L619.8,384.4 L620.2,384.5 L620.6,384.1 L621.0,382.3 L621.4,379.5 L621.8,379.2 L622.2,378.8 L622.6,379.2 L623.0,383.7 L623.4,385.1 L623.8,380.9 L624.2,380.0 L624.6,379.8 L625.0,377.4 L625.4,378.7 L625.8,378.4 L626.2,375.6 L626.6,377.5 L627.0,378.9 L627.4,378.1 L627.8,377.4 L628.2,375.0 L628.6,373.9 L629.0,374.0 L629.4,373.4 L629.8,371.7 L630.2,368.6 L630.6,365.9 L631.0,365.2 L631.4,366.6 L631.8,368.6 L632.2,369.3 L632.6,365.5 L633.0,359.6 L633.4,359.8 L633.8,359.8 L634.2,355.7 L634.6,352.8 L635.0,350.1 L635.4,349.2 L635.8,350.0 L636.2,348.6 L636.6,344.0 L637.0,337.8 L637.4,332.3 L637.8,331.7 L638.2,333.7 L638.6,331.5 L639.0,328.1 L639.4,326.7 L639.8,326.7 L640.2,324.9 L640.6,319.8 L641.0,315.9 L641.4,312.4 L641.8,307.0 L642.2,302.8 L642.6,300.2 L643.0,295.8 L643.4,293.8 L643.8,293.7 L644.2,288.4 L644.6,283.3 L645.0,282.6 L645.4,281.5 L645.8,280.4 L646.2,281.8 L646.6,282.0 L647.0,281.1 L647.4,279.2 L647.8,277.2 L648.2,277.3 L648.6,275.9 L649.0,273.5 L649.4,273.6 L649.8,275.3 L650.2,277.7 L650.6,281.9 L651.0,283.2 L651.4,280.9 L651.8,282.8 L652.2,287.4 L652.6,290.3 L653.0,293.5 L653.4,297.2 L653.8,299.7 L654.2,301.7 L654.6,303.7 L655.0,305.9 L655.4,308.2 L655.8,310.6 L656.1,313.4 L656.5,318.3 L656.9,323.7 L657.3,324.7 L657.7,323.9 L658.1,326.5 L658.5,328.4 L658.9,328.2 L659.3,332.0 L659.7,337.7 L660.1,341.7 L660.5,344.1 L660.9,345.0 L661.3,346.7 L661.7,346.8 L662.1,346.7 L662.5,350.4 L662.9,353.9 L663.3,354.5 L663.7,355.3 L664.1,356.0 L664.5,355.5 L664.9,356.1 L665.3,358.4 L665.7,359.7 L666.1,359.7 L666.5,360.5 L666.9,359.2 L667.3,358.2 L667.7,360.6 L668.1,362.3 L668.5,364.1 L668.9,367.1 L669.3,367.5 L669.7,365.5 L670.1,367.0 L670.5,370.4 L670.9,369.5 L671.3,367.9 L671.7,369.7 L672.1,371.1 L672.5,369.2 L672.9,367.4 L673.3,367.9 L673.7,367.8 L674.1,367.4 L674.5,368.2 L674.9,368.2 L675.3,367.8 L675.7,368.6 L676.1,367.6 L676.5,364.4 L676.9,364.9 L677.3,369.0 L677.7,370.2 L678.1,367.1 L678.5,365.3 L678.9,367.1 L679.3,368.2 L679.7,368.1 L680.1,367.3 L680.5,367.6 L680.9,369.3 L681.3,369.2 L681.7,367.4 L682.1,365.8 L682.5,368.4 L682.9,371.7 L683.3,371.3 L683.7,371.5 L684.1,373.1 L684.5,373.3 L684.9,370.7 L685.3,369.8 L685.7,370.8 L686.1,369.5 L686.5,370.6 L686.9,373.1 L687.3,371.8 L687.7,371.6 L688.1,372.3 L688.5,371.2 L688.9,372.2 L689.3,373.9 L689.7,372.7 L690.1,371.8 L690.5,374.2 L690.9,377.1 L691.3,377.9 L691.7,378.3 L692.1,379.0 L692.5,378.7 L692.9,378.7 L693.3,378.6 L693.7,379.1 L694.1,381.3 L694.5,381.2 L694.9,378.5 L695.3,378.5 L695.7,381.3 L696.0,382.3 L696.4,381.8 L696.8,383.0 L697.2,385.6 L697.6,386.0 L698.0,384.5 L698.4,383.8 L698.8,383.9 L699.2,384.4 L699.6,385.9 L700.0,387.2 L700.4,386.1 L700.8,384.9 L701.2,385.6 L701.6,388.1 L702.0,389.7 L702.4,388.1 L702.8,387.8 L703.2,389.3 L703.6,390.5 L704.0,391.3 L704.4,389.9 L704.8,389.0 L705.2,389.0 L705.6,388.5 L706.0,388.7 L706.4,389.0 L706.8,389.5 L707.2,390.3 L707.6,390.2 L708.0,389.7 L708.4,390.5 L708.8,392.7 L709.2,394.3 L709.6,391.4 L710.0,388.5 L710.4,390.4 L710.8,391.4 L711.2,389.8 L711.6,387.5 L712.0,387.5 L712.4,390.8 L712.8,392.9 L713.2,392.4 L713.6,391.2 L714.0,390.7 L714.4,390.4 L714.8,392.6 L715.2,395.1 L715.6,393.3 L716.0,392.1 L716.4,391.6 L716.8,389.9 L717.2,390.7 L717.6,391.9 L718.0,391.7 L718.4,392.4 L718.8,393.2 L719.2,393.0 L719.6,392.6 L720.0,392.1 L720.4,390.8 L720.8,390.5 L721.2,392.7 L721.6,393.9 L722.0,392.8 L722.4,392.3 L722.8,392.4 L723.2,390.7 L723.6,388.6 L724.0,388.5 L724.4,389.9 L724.8,393.0 L725.2,394.7 L725.6,394.6 L726.0,394.8 L726.4,393.8 L726.8,392.5 L727.2,391.6 L727.6,391.0 L728.0,392.4 L728.4,393.3 L728.8,394.2 L729.2,394.9 L729.6,392.9 L730.0,391.6 L730.4,391.4 L730.8,391.0 L731.2,390.4 L731.6,390.0 L732.0,390.8 L732.4,391.6 L732.8,391.8 L733.2,392.3 L733.6,391.5 L734.0,390.9 L734.4,392.8 L734.8,391.8 L735.2,389.1 L735.6,389.5 L735.9,391.7 L736.3,394.4 L736.7,394.8 L737.1,392.6 L737.5,390.9 L737.9,390.0 L738.3,389.5 L738.7,391.5 L739.1,394.6 L739.5,394.8 L739.9,393.3 L740.3,393.3 L740.7,393.3 L741.1,392.0 L741.5,391.1 L741.9,391.3 L742.3,391.0 L742.7,392.8 L743.1,395.1 L743.5,394.9 L743.9,395.1 L744.3,395.0 L744.7,393.3 L745.1,392.9 L745.5,394.2 L745.9,395.4 L746.3,395.1 L746.7,394.7 L747.1,394.7 L747.5,394.0 L747.9,395.5 L748.3,396.8 L748.7,394.3 L749.1,393.6 L749.5,395.4 L749.9,396.0 L750.3,396.1 L750.7,395.9 L751.1,395.1 L751.5,394.4 L751.9,393.7 L752.3,392.8 L752.7,392.5 L753.1,392.6 L753.5,392.3 L753.9,391.2 L754.3,392.7 L754.7,395.8 L755.1,395.5 L755.5,394.7 L755.9,396.0 L756.3,395.6 L756.7,394.0 L757.1,393.5 L757.5,392.2 L757.9,392.7 L758.3,394.3 L758.7,393.2 L759.1,393.3 L759.5,395.1 L759.9,394.1 L760.3,392.8 L760.7,394.3 L761.1,395.8 L761.5,395.1 L761.9,393.3 L762.3,393.1 L762.7,393.7 L763.1,393.5 L763.5,392.6 L763.9,392.5 L764.3,393.6 L764.7,393.9 L765.1,394.6 L765.5,395.2 L765.9,394.0 L766.3,393.8 L766.7,394.7 L767.1,394.2 L767.5,392.6 L767.9,392.4 L768.3,393.2 L768.7,392.6 L769.1,392.5 L769.5,391.9 L769.9,391.2 L770.3,392.2 L770.7,392.5 L771.1,392.5 L771.5,392.7 L771.9,392.2 L772.3,392.8 L772.7,394.9 L773.1,395.0 L773.5,393.4 L773.9,393.7 L774.3,393.8 L774.7,393.4 L775.1,394.6 L775.5,396.1 L775.8,397.5 L776.2,397.1 L776.6,394.7 L777.0,392.7 L777.4,392.1 L777.8,393.7 L778.2,393.3 L778.6,391.9 L779.0,392.8 L779.4,393.4 L779.8,393.7 L780.2,393.6 L780.6,391.4 L781.0,389.6 L781.4,390.4 L781.8,392.8 L782.2,394.6 L782.6,396.1 L783.0,397.5 L783.4,396.5 L783.8,394.7 L784.2,394.6 L784.6,394.0 L785.0,392.5 L785.4,393.1 L785.8,393.6 L786.2,393.5 L786.6,393.3 L787.0,392.8 L787.4,393.5 L787.8,393.9 L788.2,391.9 L788.6,389.8 L789.0,390.1 L789.4,392.7 L789.8,395.5 L790.2,395.1 L790.6,393.4 L791.0,392.6 L791.4,392.4 L791.8,393.2 L792.2,392.7 L792.6,392.0 L793.0,392.3 L793.4,392.7 L793.8,394.1 L794.2,395.4 L794.6,394.4 L795.0,391.6 L795.4,390.1 L795.8,390.1 L796.2,391.2 L796.6,392.1 L797.0,389.3 L797.4,386.7 L797.8,387.7 L798.2,388.9 L798.6,390.3 L799.0,391.2 L799.4,390.7 L799.8,390.8 L800.2,391.5 L800.6,391.7 L801.0,391.9 L801.4,390.4 L801.8,389.6 L802.2,390.5 L802.6,389.5 L803.0,390.6 L803.4,392.6 L803.8,390.2 L804.2,387.6 L804.6,387.5 L805.0,387.5 L805.4,386.3 L805.8,385.2 L806.2,386.3 L806.6,387.9 L807.0,387.6 L807.4,388.1 L807.8,388.2 L808.2,386.2 L808.6,386.3 L809.0,386.9 L809.4,385.4 L809.8,384.6 L810.2,385.6 L810.6,384.9 L811.0,383.9 L811.4,385.3 L811.8,386.0 L812.2,385.6 L812.6,384.5 L813.0,382.5 L813.4,381.1 L813.8,380.9 L814.2,380.1 L814.6,379.4 L815.0,380.1 L815.4,379.2 L815.7,378.6 L816.1,378.2 L816.5,376.6 L816.9,377.4 L817.3,379.8 L817.7,378.4 L818.1,374.9 L818.5,374.5 L818.9,374.6 L819.3,373.9 L819.7,375.8 L820.1,376.8 L820.5,375.8 L820.9,375.2 L821.3,374.5 L821.7,375.2 L822.1,376.5 L822.5,375.5 L822.9,375.2 L823.3,377.4 L823.7,378.4 L824.1,377.4 L824.5,378.2 L824.9,380.3 L825.3,378.4 L825.7,375.5 L826.1,378.9 L826.5,383.0 L826.9,382.4 L827.3,381.7 L827.7,381.2 L828.1,379.7 L828.5,380.4 L828.9,382.3 L829.3,381.5 L829.7,379.5 L830.1,380.0 L830.5,382.4 L830.9,384.0 L831.3,384.1 L831.7,383.9 L832.1,384.2 L832.5,385.7 L832.9,386.9 L833.3,385.8 L833.7,384.6 L834.1,385.4 L834.5,387.7 L834.9,388.4 L835.3,387.4 L835.7,386.6 L836.1,386.6 L836.5,388.4 L836.9,388.2 L837.3,386.4 L837.7,387.3 L838.1,388.0 L838.5,388.5 L838.9,390.9 L839.3,390.0 L839.7,386.3 L840.1,385.9 L840.5,388.3 L840.9,389.7 L841.3,389.9 L841.7,388.7 L842.1,388.3 L842.5,391.2 L842.9,394.3 L843.3,395.3 L843.7,394.4 L844.1,394.3 L844.5,394.3 L844.9,392.6 L845.3,391.2 L845.7,391.3 L846.1,392.0 L846.5,392.3 L846.9,393.2 L847.3,393.6 L847.7,393.1 L848.1,392.3 L848.5,391.6 L848.9,391.9 L849.3,392.0 L849.7,391.6 L850.1,391.9 L850.5,392.8 L850.9,393.4 L851.3,392.8 L851.7,390.6 L852.1,389.5 L852.5,390.2 L852.9,391.0 L853.3,391.9 L853.7,391.4 L854.1,391.2 L854.5,392.8 L854.9,394.8 L855.3,394.9 L855.6,392.4 L856.0,389.1 L856.4,388.0 L856.8,390.3 L857.2,392.3 L857.6,393.7 L858.0,394.7 L858.4,393.4 L858.8,391.6 L859.2,391.3 L859.6,392.3 L860.0,393.0 L860.4,392.5 L860.8,392.3 L861.2,392.7 L861.6,392.3 L862.0,392.7 L862.4,393.5 L862.8,392.5 L863.2,391.8 L863.6,393.2 L864.0,393.5 L864.4,391.7 L864.8,392.0 L865.2,392.7 L865.6,391.9 L866.0,391.9 L866.4,392.6 L866.8,392.4 L867.2,390.9 L867.6,389.6 L868.0,388.3 L868.4,389.6 L868.8,393.7 L869.2,394.2 L869.6,390.5 L870.0,388.2 L870.4,389.3 L870.8,392.6 L871.2,394.3 L871.6,392.6 L872.0,392.0 L872.4,393.2 L872.8,393.0 L873.2,392.2 L873.6,393.3 L874.0,394.6 L874.4,393.6 L874.8,392.1 L875.2,391.6 L875.6,391.4 L876.0,391.5 L876.4,392.2 L876.8,393.8 L877.2,394.0 L877.6,393.5 L878.0,394.4 L878.4,393.6 L878.8,391.4 L879.2,390.1 L879.6,390.9 L880.0,392.5 L880.4,391.3 L880.8,391.6 L881.2,393.7 L881.6,394.4 L882.0,394.0 L882.4,392.0 L882.8,390.4 L883.2,392.4 L883.6,394.6 L884.0,394.8 L884.4,393.4 L884.8,390.0 L885.2,387.6 L885.6,387.9 L886.0,388.0 L886.4,388.2 L886.8,390.3 L887.2,392.5 L887.6,393.2 L888.0,393.7 L888.4,392.6 L888.8,390.6 L889.2,392.3 L889.6,392.3 L890.0,390.0 L890.4,390.9 L890.8,390.8 L891.2,390.1 L891.6,391.7 L892.0,393.0 L892.4,392.6 L892.8,391.7 L893.2,390.4 L893.6,389.4 L894.0,390.5 L894.4,391.9 L894.8,393.3 L895.2,392.2 L895.5,390.4 L895.9,391.1 L896.3,390.0 L896.7,387.7 L897.1,388.0 L897.5,388.3 L897.9,386.7 L898.3,386.0 L898.7,386.7 L899.1,387.3 L899.5,387.7 L899.9,388.9 L900.3,390.2 L900.7,388.2 L901.1,385.8 L901.5,387.5 L901.9,390.3 L902.3,389.7 L902.7,387.6 L903.1,385.4 L903.5,383.2 L903.9,382.9 L904.3,383.1 L904.7,384.3 L905.1,386.9 L905.5,386.1 L905.9,382.8 L906.3,382.2 L906.7,383.3 L907.1,382.5 L907.5,381.9 L907.9,383.4 L908.3,383.6 L908.7,381.1 L909.1,378.9 L909.5,379.3 L909.9,378.5 L910.3,376.8 L910.7,378.2 L911.1,378.5 L911.5,377.6 L911.9,377.3 L912.3,375.0 L912.7,373.1 L913.1,372.3 L913.5,372.7 L913.9,374.7 L914.3,376.2 L914.7,376.4 L915.1,374.0 L915.5,371.2 L915.9,372.0 L916.3,371.6 L916.7,368.0 L917.1,365.4 L917.5,364.9 L917.9,366.2 L918.3,367.7 L918.7,366.3 L919.1,363.3 L919.5,362.4 L919.9,361.2 L920.3,358.2 L920.7,357.0 L921.1,356.9 L921.5,355.1 L921.9,355.3 L922.3,358.1 L922.7,358.9 L923.1,358.2 L923.5,358.0 L923.9,358.0 L924.3,357.2 L924.7,354.1 L925.1,354.0 L925.5,358.7 L925.9,361.7 L926.3,361.8 L926.7,359.9 L927.1,358.7 L927.5,358.6 L927.9,357.1 L928.3,355.7 L928.7,358.6 L929.1,360.9 L929.5,359.7 L929.9,359.3 L930.3,359.6 L930.7,360.6 L931.1,359.8 L931.5,360.3 L931.9,363.3 L932.3,363.2 L932.7,362.2 L933.1,364.4 L933.5,368.0 L933.9,368.0 L934.3,366.7 L934.7,367.5 L935.1,369.1 L935.4,369.9 L935.8,369.5 L936.2,368.0 L936.6,367.4 L937.0,369.0 L937.4,369.0 L937.8,368.8 L938.2,370.4 L938.6,372.5 L939.0,372.0 L939.4,372.1 L939.8,374.0 L940.2,372.8 L940.6,372.4 L941.0,371.9 L941.4,371.4 L941.8,373.9 L942.2,373.7 L942.6,372.4 L943.0,371.0 L943.4,368.7 L943.8,370.8 L944.2,373.8 L944.6,374.8 L945.0,375.7 L945.4,373.5 L945.8,370.7 L946.2,371.1 L946.6,370.7 L947.0,371.1 L947.4,373.7 L947.8,375.3 L948.2,374.8 L948.6,373.9 L949.0,373.1 L949.4,371.1 L949.8,370.0 L950.2,369.4 L950.6,366.9 L951.0,364.4 L951.4,365.8 L951.8,368.7 L952.2,369.2 L952.6,368.0 L953.0,365.4 L953.4,364.1 L953.8,364.9 L954.2,365.2 L954.6,365.7 L955.0,366.1"/>
<path class="c" d="M157.0,307.9 L157.4,305.9 L157.8,302.2 L158.2,300.7 L158.6,302.9 L159.0,304.3 L159.4,304.3 L159.8,305.5 L160.2,305.1 L160.6,303.0 L161.0,302.4 L161.4,304.1 L161.8,306.1 L162.2,305.3 L162.6,302.3 L163.0,302.6 L163.4,306.3 L163.8,307.7 L164.2,305.3 L164.6,304.4 L165.0,305.5 L165.4,305.5 L165.8,306.6 L166.2,308.0 L166.6,306.7 L167.0,305.6 L167.4,305.0 L167.8,303.7 L168.2,303.0 L168.6,303.0 L169.0,303.0 L169.4,303.0 L169.8,303.1 L170.2,303.4 L170.6,303.9 L171.0,304.4 L171.4,305.5 L171.8,305.1 L172.2,303.5 L172.6,304.4 L173.0,303.4 L173.4,301.4 L173.8,302.5 L174.2,304.5 L174.6,304.5 L175.0,302.8 L175.4,303.1 L175.8,302.4 L176.2,299.9 L176.6,300.6 L177.0,303.9 L177.3,305.7 L177.7,305.9 L178.1,305.2 L178.5,304.3 L178.9,304.5 L179.3,304.4 L179.7,302.5 L180.1,302.3 L180.5,302.1 L180.9,301.7 L181.3,303.0 L181.7,302.5 L182.1,303.7 L182.5,305.4 L182.9,302.6 L183.3,302.3 L183.7,303.7 L184.1,301.6 L184.5,301.3 L184.9,303.2 L185.3,303.9 L185.7,303.9 L186.1,304.3 L186.5,305.4 L186.9,305.3 L187.3,303.3 L187.7,300.8 L188.1,298.7 L188.5,298.8 L188.9,300.0 L189.3,300.1 L189.7,303.2 L190.1,304.5 L190.5,300.9 L190.9,299.3 L191.3,300.9 L191.7,301.7 L192.1,300.6 L192.5,300.1 L192.9,300.2 L193.3,301.5 L193.7,302.3 L194.1,300.7 L194.5,300.7 L194.9,302.2 L195.3,301.6 L195.7,300.5 L196.1,302.0 L196.5,303.1 L196.9,302.6 L197.3,300.2 L197.7,297.5 L198.1,298.9 L198.5,301.4 L198.9,301.2 L199.3,301.8 L199.7,305.0 L200.1,305.3 L200.5,303.6 L200.9,301.7 L201.3,296.8 L201.7,295.8 L202.1,299.5 L202.5,300.7 L202.9,301.0 L203.3,301.1 L203.7,300.6 L204.1,300.9 L204.5,299.2 L204.9,297.4 L205.3,298.8 L205.7,301.4 L206.1,301.6 L206.5,299.0 L206.9,298.0 L207.3,298.4 L207.7,299.9 L208.1,301.9 L208.5,300.6 L208.9,298.6 L209.3,299.3 L209.7,299.3 L210.1,297.4 L210.5,298.6 L210.9,301.6 L211.3,301.1 L211.7,298.6 L212.1,297.3 L212.5,296.3 L212.9,296.2 L213.3,298.6 L213.7,299.4 L214.1,297.3 L214.5,295.2 L214.9,295.9 L215.3,298.1 L215.7,298.0 L216.1,297.2 L216.5,298.5 L216.9,298.6 L217.2,296.3 L217.6,294.8 L218.0,294.0 L218.4,294.7 L218.8,297.4 L219.2,298.3 L219.6,296.3 L220.0,293.6 L220.4,293.3 L220.8,294.6 L221.2,295.2 L221.6,294.9 L222.0,295.0 L222.4,297.4 L222.8,300.2 L223.2,300.6 L223.6,299.1 L224.0,297.1 L224.4,296.0 L224.8,295.5 L225.2,295.4 L225.6,294.0 L226.0,292.4 L226.4,293.1 L226.8,294.7 L227.2,294.9 L227.6,293.1 L228.0,291.7 L228.4,291.3 L228.8,292.0 L229.2,294.1 L229.6,293.9 L230.0,292.7 L230.4,291.0 L230.8,288.2 L231.2,288.3 L231.6,291.9 L232.0,293.3 L232.4,290.3 L232.8,289.1 L233.2,289.0 L233.6,286.5 L234.0,286.0 L234.4,288.3 L234.8,289.6 L235.2,290.8 L235.6,292.1 L236.0,291.1 L236.4,291.4 L236.8,293.9 L237.2,292.0 L237.6,287.2 L238.0,287.5 L238.4,288.8 L238.8,285.8 L239.2,283.8 L239.6,283.2 L240.0,282.7 L240.4,283.9 L240.8,287.1 L241.2,290.2 L241.6,290.0 L242.0,285.4 L242.4,281.9 L242.8,282.9 L243.2,284.4 L243.6,284.6 L244.0,282.5 L244.4,280.6 L244.8,280.4 L245.2,278.7 L245.6,279.4 L246.0,282.1 L246.4,283.7 L246.8,281.9 L247.2,277.7 L247.6,278.8 L248.0,280.5 L248.4,279.2 L248.8,277.7 L249.2,276.3 L249.6,277.2 L250.0,276.4 L250.4,273.0 L250.8,271.8 L251.2,271.8 L251.6,272.1 L252.0,273.3 L252.4,273.4 L252.8,273.6 L253.2,272.3 L253.6,268.6 L254.0,265.1 L254.4,262.2 L254.8,260.3 L255.2,260.2 L255.6,259.8 L256.0,257.9 L256.4,257.0 L256.8,255.8 L257.1,253.0 L257.5,252.7 L257.9,254.7 L258.3,252.1 L258.7,245.5 L259.1,241.7 L259.5,239.6 L259.9,239.1 L260.3,239.6 L260.7,237.6 L261.1,235.7 L261.5,232.1 L261.9,224.8 L262.3,219.8 L262.7,218.5 L263.1,216.3 L263.5,212.1 L263.9,209.5 L264.3,207.9 L264.7,203.8 L265.1,196.5 L265.5,187.5 L265.9,183.2 L266.3,183.8 L266.7,179.4 L267.1,171.1 L267.5,165.9 L267.9,160.4 L268.3,155.1 L268.7,152.5 L269.1,148.2 L269.5,144.7 L269.9,142.3 L270.3,137.5 L270.7,133.2 L271.1,128.5 L271.5,122.5 L271.9,119.9 L272.3,117.6 L272.7,112.6 L273.1,106.8 L273.5,100.3 L273.9,96.5 L274.3,92.1 L274.7,82.2 L275.1,78.0 L275.5,80.3 L275.9,75.7 L276.3,71.2 L276.7,72.2 L277.1,71.9 L277.5,69.9 L277.9,65.4 L278.3,63.4 L278.7,65.3 L279.1,64.9 L279.5,66.3 L279.9,70.4 L280.3,71.5 L280.7,69.3 L281.1,68.6 L281.5,68.2 L281.9,67.4 L282.3,70.4 L282.7,73.9 L283.1,78.1 L283.5,84.4 L283.9,91.3 L284.3,99.8 L284.7,101.3 L285.1,98.5 L285.5,102.1 L285.9,108.4 L286.3,115.2 L286.7,121.9 L287.1,127.3 L287.5,132.0 L287.9,135.7 L288.3,135.2 L288.7,134.3 L289.1,140.2 L289.5,148.1 L289.9,153.6 L290.3,160.9 L290.7,169.4 L291.1,174.6 L291.5,178.4 L291.9,183.0 L292.3,186.7 L292.7,188.5 L293.1,191.2 L293.5,194.9 L293.9,202.2 L294.3,207.0 L294.7,205.3 L295.1,208.2 L295.5,214.8 L295.9,217.1 L296.3,220.0 L296.7,226.4 L297.0,231.2 L297.4,234.5 L297.8,234.8 L298.2,233.8 L298.6,238.3 L299.0,242.6 L299.4,241.9 L299.8,244.3 L300.2,250.1 L300.6,254.0 L301.0,253.4 L301.4,253.9 L301.8,258.3 L302.2,259.0 L302.6,258.5 L303.0,259.8 L303.4,259.9 L303.8,260.0 L304.2,263.5 L304.6,265.8 L305.0,261.9 L305.4,261.0 L305.8,266.6 L306.2,270.4 L306.6,272.7 L307.0,273.3 L307.4,270.9 L307.8,271.1 L308.2,273.9 L308.6,275.8 L309.0,274.7 L309.4,270.6 L309.8,269.1 L310.2,269.6 L310.6,271.0 L311.0,273.7 L311.4,273.5 L311.8,271.7 L312.2,273.1 L312.6,276.1 L313.0,275.3 L313.4,273.6 L313.8,274.1 L314.2,274.3 L314.6,275.5 L315.0,275.8 L315.4,273.9 L315.8,273.6 L316.2,274.6 L316.6,275.0 L317.0,273.6 L317.4,270.9 L317.8,269.5 L318.2,268.9 L318.6,268.4 L319.0,269.3 L319.4,269.8 L319.8,268.5 L320.2,266.0 L320.6,263.6 L321.0,264.5 L321.4,266.5 L321.8,265.1 L322.2,261.4 L322.6,259.2 L323.0,256.9 L323.4,255.9 L323.8,259.9 L324.2,261.0 L324.6,257.6 L325.0,254.3 L325.4,254.4 L325.8,256.6 L326.2,256.5 L326.6,257.0 L327.0,257.9 L327.4,253.9 L327.8,247.8 L328.2,245.9 L328.6,245.9 L329.0,244.0 L329.4,240.8 L329.8,240.1 L330.2,242.2 L330.6,244.3 L331.0,245.1 L331.4,245.6 L331.8,244.1 L332.2,238.5 L332.6,236.9 L333.0,239.7 L333.4,238.9 L333.8,238.0 L334.2,240.9 L334.6,243.3 L335.0,241.7 L335.4,238.1 L335.8,236.9 L336.2,237.3 L336.6,238.0 L336.9,238.1 L337.3,236.5 L337.7,233.8 L338.1,232.2 L338.5,237.1 L338.9,240.6 L339.3,239.2 L339.7,237.0 L340.1,233.9 L340.5,232.9 L340.9,234.2 L341.3,237.7 L341.7,238.7 L342.1,235.9 L342.5,235.9 L342.9,241.1 L343.3,246.1 L343.7,244.9 L344.1,243.7 L344.5,245.2 L344.9,245.7 L345.3,244.2 L345.7,242.9 L346.1,246.6 L346.5,251.9 L346.9,251.7 L347.3,248.9 L347.7,248.5 L348.1,251.4 L348.5,253.3 L348.9,254.7 L349.3,256.8 L349.7,256.8 L350.1,258.2 L350.5,261.2 L350.9,263.0 L351.3,263.8 L351.7,262.8 L352.1,262.9 L352.5,265.3 L352.9,267.7 L353.3,269.6 L353.7,269.5 L354.1,269.3 L354.5,271.0 L354.9,271.0 L355.3,269.5 L355.7,270.4 L356.1,273.4 L356.5,275.4 L356.9,275.9 L357.3,275.9 L357.7,274.8 L358.1,276.7 L358.5,279.6 L358.9,280.2 L359.3,279.2 L359.7,277.2 L360.1,278.9 L360.5,281.5 L360.9,280.4 L361.3,280.1 L361.7,280.7 L362.1,280.8 L362.5,284.1 L362.9,287.1 L363.3,287.1 L363.7,285.2 L364.1,283.5 L364.5,284.3 L364.9,286.4 L365.3,288.0 L365.7,288.4 L366.1,289.3 L366.5,291.3 L366.9,290.4 L367.3,286.9 L367.7,288.0 L368.1,291.7 L368.5,291.9 L368.9,290.2 L369.3,290.1 L369.7,291.1 L370.1,291.4 L370.5,290.5 L370.9,289.6 L371.3,289.6 L371.7,292.3 L372.1,294.2 L372.5,293.5 L372.9,295.9 L373.3,298.0 L373.7,297.9 L374.1,298.1 L374.5,297.4 L374.9,297.0 L375.3,294.8 L375.7,292.8 L376.1,296.0 L376.5,298.0 L376.8,296.1 L377.2,294.7 L377.6,293.3 L378.0,293.5 L378.4,295.5 L378.8,296.3 L379.2,297.7 L379.6,297.6 L380.0,294.6 L380.4,294.0 L380.8,297.7 L381.2,300.1 L381.6,297.5 L382.0,295.8 L382.4,298.8 L382.8,300.2 L383.2,297.4 L383.6,296.0 L384.0,297.5 L384.4,300.3 L384.8,300.5 L385.2,295.6 L385.6,293.6 L386.0,296.7 L386.4,296.6 L386.8,293.7 L387.2,295.5 L387.6,298.4 L388.0,298.1 L388.4,298.3 L388.8,299.1 L389.2,299.6 L389.6,299.5 L390.0,299.9 L390.4,300.0 L390.8,298.4 L391.2,298.9 L391.6,299.8 L392.0,298.1 L392.4,296.7 L392.8,296.1 L393.2,298.0 L393.6,301.5 L394.0,302.6 L394.4,302.8 L394.8,301.5 L395.2,299.3 L395.6,298.6 L396.0,299.0 L396.4,299.8 L396.8,299.7 L397.2,298.4 L397.6,298.9 L398.0,299.7 L398.4,298.9 L398.8,299.0 L399.2,300.3 L399.6,300.5 L400.0,299.5 L400.4,298.7 L400.8,298.8 L401.2,299.7 L401.6,298.3 L402.0,296.4 L402.4,298.1 L402.8,300.4 L403.2,299.7 L403.6,298.8 L404.0,300.4 L404.4,301.6 L404.8,302.3 L405.2,302.3 L405.6,300.7 L406.0,300.1 L406.4,300.5 L406.8,302.0 L407.2,302.7 L407.6,302.0 L408.0,300.6 L408.4,299.5 L408.8,299.1 L409.2,300.0 L409.6,303.2 L410.0,302.1 L410.4,296.0 L410.8,295.2 L411.2,299.0 L411.6,299.9 L412.0,298.9 L412.4,298.1 L412.8,298.3 L413.2,299.3 L413.6,300.0 L414.0,301.0 L414.4,301.4 L414.8,300.9 L415.2,301.3 L415.6,301.3 L416.0,299.4 L416.4,296.3 L416.7,296.6 L417.1,299.2 L417.5,298.5 L417.9,298.1 L418.3,298.4 L418.7,298.4 L419.1,298.4 L419.5,296.9 L419.9,297.7 L420.3,299.9 L420.7,300.1 L421.1,301.1 L421.5,303.0 L421.9,303.4 L422.3,300.5 L422.7,296.9 L423.1,297.1 L423.5,299.8 L423.9,302.0 L424.3,301.2 L424.7,299.9 L425.1,300.0 L425.5,300.2 L425.9,300.7 L426.3,301.6 L426.7,302.2 L427.1,302.3 L427.5,301.9 L427.9,301.4 L428.3,301.0 L428.7,300.9 L429.1,301.1 L429.5,300.8 L429.9,299.6 L430.3,299.0 L430.7,299.6 L431.1,298.7 L431.5,297.6 L431.9,298.2 L432.3,296.9 L432.7,297.4 L433.1,299.9 L433.5,301.1 L433.9,300.9 L434.3,300.1 L434.7,300.8 L435.1,303.5 L435.5,304.9 L435.9,300.8 L436.3,296.5 L436.7,297.9 L437.1,303.0 L437.5,305.1 L437.9,301.0 L438.3,299.1 L438.7,300.7 L439.1,299.7 L439.5,298.7 L439.9,299.2 L440.3,298.2 L440.7,299.4 L441.1,300.7 L441.5,298.4 L441.9,299.5 L442.3,302.0 L442.7,299.8 L443.1,297.3 L443.5,298.6 L443.9,299.3 L444.3,297.3 L444.7,296.1 L445.1,295.8 L445.5,297.6 L445.9,300.7 L446.3,300.2 L446.7,299.1 L447.1,299.3 L447.5,297.7 L447.9,297.9 L448.3,301.1 L448.7,301.2 L449.1,299.4 L449.5,301.1 L449.9,302.8 L450.3,301.8 L450.7,299.6 L451.1,297.6 L451.5,296.5 L451.9,297.0 L452.3,299.4 L452.7,301.0 L453.1,300.7 L453.5,299.8 L453.9,298.7 L454.3,296.9 L454.7,297.6 L455.1,300.0 L455.5,300.1 L455.9,297.9 L456.3,297.3 L456.6,300.4 L457.0,302.1 L457.4,302.4 L457.8,301.4 L458.2,299.5 L458.6,301.4 L459.0,302.9 L459.4,299.9 L459.8,298.3 L460.2,299.6 L460.6,301.3 L461.0,299.5 L461.4,296.5 L461.8,295.5 L462.2,293.7 L462.6,291.1 L463.0,291.3 L463.4,293.9 L463.8,296.0 L464.2,296.9 L464.6,297.2 L465.0,299.4 L465.4,300.4 L465.8,296.6 L466.2,295.9 L466.6,300.7 L467.0,302.1 L467.4,297.0 L467.8,294.0 L468.2,295.6 L468.6,297.5 L469.0,297.7 L469.4,296.3 L469.8,296.0 L470.2,295.5 L470.6,293.2 L471.0,293.8 L471.4,297.3 L471.8,298.0 L472.2,297.8 L472.6,300.1 L473.0,300.5 L473.4,299.3 L473.8,298.8 L474.2,298.7 L474.6,299.2 L475.0,299.0 L475.4,295.9 L475.8,293.0 L476.2,293.8 L476.6,293.9 L477.0,294.2 L477.4,294.8 L477.8,294.4 L478.2,295.6 L478.6,294.7 L479.0,292.6 L479.4,295.4 L479.8,300.5 L480.2,300.2 L480.6,297.4 L481.0,298.8 L481.4,298.8 L481.8,295.2 L482.2,294.8 L482.6,296.9 L483.0,296.3 L483.4,296.1 L483.8,297.9 L484.2,297.8 L484.6,298.6 L485.0,299.9 L485.4,299.7 L485.8,299.7 L486.2,296.9 L486.6,294.1 L487.0,294.7 L487.4,296.0 L487.8,295.8 L488.2,293.3 L488.6,289.9 L489.0,289.5 L489.4,292.1 L489.8,295.1 L490.2,293.6 L490.6,289.1 L491.0,289.3 L491.4,290.9 L491.8,291.3 L492.2,291.0 L492.6,288.7 L493.0,288.8 L493.4,292.2 L493.8,292.6 L494.2,290.2 L494.6,288.8 L495.0,287.1 L495.4,286.9 L495.8,288.5 L496.2,287.3 L496.5,285.3 L496.9,287.7 L497.3,290.9 L497.7,290.2 L498.1,288.2 L498.5,288.1 L498.9,288.9 L499.3,287.0 L499.7,283.6 L500.1,282.8 L500.5,283.4 L500.9,283.9 L501.3,281.9 L501.7,280.3 L502.1,283.2 L502.5,282.0 L502.9,279.4 L503.3,281.5 L503.7,282.0 L504.1,280.5 L504.5,279.4 L504.9,277.9 L505.3,274.7 L505.7,271.9 L506.1,272.8 L506.5,274.5 L506.9,274.7 L507.3,274.1 L507.7,270.1 L508.1,266.9 L508.5,268.2 L508.9,266.4 L509.3,263.6 L509.7,262.9 L510.1,262.3 L510.5,262.2 L510.9,263.1 L511.3,264.1 L511.7,260.8 L512.1,256.2 L512.5,252.5 L512.9,249.0 L513.3,248.7 L513.7,249.2 L514.1,246.4 L514.5,243.5 L514.9,246.0 L515.3,247.6 L515.7,243.7 L516.1,241.2 L516.5,239.4 L516.9,235.5 L517.3,234.5 L517.7,235.2 L518.1,231.2 L518.5,224.1 L518.9,223.7 L519.3,228.2 L519.7,223.9 L520.1,216.6 L520.5,216.6 L520.9,216.8 L521.3,211.2 L521.7,207.6 L522.1,210.3 L522.5,208.3 L522.9,203.4 L523.3,200.9 L523.7,197.0 L524.1,194.5 L524.5,191.2 L524.9,186.7 L525.3,187.3 L525.7,187.5 L526.1,185.4 L526.5,184.6 L526.9,183.9 L527.3,181.3 L527.7,175.7 L528.1,170.7 L528.5,168.1 L528.9,163.7 L529.3,160.7 L529.7,161.7 L530.1,162.7 L530.5,158.6 L530.9,152.8 L531.3,154.3 L531.7,156.2 L532.1,155.5 L532.5,154.2 L532.9,150.5 L533.3,148.9 L533.7,148.6 L534.1,147.0 L534.5,145.8 L534.9,147.9 L535.3,150.7 L535.7,151.0 L536.1,149.9 L536.4,151.1 L536.8,153.8 L537.2,152.8 L537.6,153.6 L538.0,156.5 L538.4,157.9 L538.8,160.3 L539.2,163.8 L539.6,167.4 L540.0,168.1 L540.4,166.6 L540.8,167.1 L541.2,171.8 L541.6,176.4 L542.0,176.2 L542.4,174.8 L542.8,177.0 L543.2,181.1 L543.6,182.9 L544.0,186.4 L544.4,193.0 L544.8,194.9 L545.2,194.8 L545.6,196.8 L546.0,202.1 L546.4,206.5 L546.8,204.9 L547.2,204.3 L547.6,206.7 L548.0,212.3 L548.4,217.8 L548.8,217.7 L549.2,216.3 L549.6,217.4 L550.0,222.2 L550.4,226.8 L550.8,228.1 L551.2,231.1 L551.6,235.8 L552.0,237.9 L552.4,237.4 L552.8,236.3 L553.2,239.5 L553.6,244.1 L554.0,244.7 L554.4,246.9 L554.8,248.6 L555.2,250.0 L555.6,252.8 L556.0,254.8 L556.4,256.5 L556.8,256.8 L557.2,260.0 L557.6,262.3 L558.0,262.9 L558.4,267.0 L558.8,265.7 L559.2,263.0 L559.6,269.0 L560.0,272.7 L560.4,269.9 L560.8,269.5 L561.2,269.4 L561.6,268.4 L562.0,272.0 L562.4,275.1 L562.8,275.4 L563.2,279.2 L563.6,279.7 L564.0,273.4 L564.4,271.4 L564.8,275.8 L565.2,280.0 L565.6,280.2 L566.0,277.8 L566.4,277.1 L566.8,280.6 L567.2,283.7 L567.6,281.8 L568.0,282.0 L568.4,284.6 L568.8,283.5 L569.2,283.7 L569.6,287.0 L570.0,286.7 L570.4,284.4 L570.8,285.6 L571.2,287.5 L571.6,287.3 L572.0,288.1 L572.4,290.3 L572.8,288.8 L573.2,285.2 L573.6,285.5 L574.0,287.7 L574.4,289.5 L574.8,291.8 L575.2,291.9 L575.6,288.9 L576.0,287.6 L576.3,288.9 L576.7,291.0 L577.1,293.4 L577.5,293.0 L577.9,292.2 L578.3,292.3 L578.7,290.6 L579.1,290.0 L579.5,291.5 L579.9,293.9 L580.3,295.5 L580.7,295.3 L581.1,294.0 L581.5,292.8 L581.9,292.6 L582.3,293.4 L582.7,293.9 L583.1,292.5 L583.5,292.3 L583.9,294.0 L584.3,294.0 L584.7,292.3 L585.1,291.4 L585.5,290.4 L585.9,291.2 L586.3,294.6 L586.7,294.0 L587.1,290.4 L587.5,291.1 L587.9,293.3 L588.3,292.3 L588.7,292.5 L589.1,294.8 L589.5,293.9 L589.9,293.4 L590.3,294.1 L590.7,293.4 L591.1,293.7 L591.5,295.1 L591.9,295.0 L592.3,294.6 L592.7,295.9 L593.1,297.5 L593.5,298.0 L593.9,295.9 L594.3,293.2 L594.7,292.0 L595.1,292.0 L595.5,293.4 L595.9,295.2 L596.3,296.1 L596.7,294.7 L597.1,294.0 L597.5,295.2 L597.9,294.9 L598.3,295.9 L598.7,298.5 L599.1,297.4 L599.5,294.3 L599.9,294.9 L600.3,297.6 L600.7,297.9 L601.1,297.1 L601.5,294.6 L601.9,291.2 L602.3,290.7 L602.7,291.0 L603.1,291.6 L603.5,293.5 L603.9,295.8 L604.3,297.4 L604.7,296.9 L605.1,295.0 L605.5,294.9 L605.9,296.3 L606.3,294.0 L606.7,291.0 L607.1,292.6 L607.5,293.8 L607.9,292.7 L608.3,294.6 L608.7,296.3 L609.1,294.4 L609.5,293.1 L609.9,292.4 L610.3,291.1 L610.7,290.6 L611.1,290.6 L611.5,290.9 L611.9,292.1 L612.3,293.7 L612.7,294.1 L613.1,292.9 L613.5,291.0 L613.9,291.7 L614.3,293.9 L614.7,293.3 L615.1,291.4 L615.5,291.2 L615.9,291.5 L616.2,290.6 L616.6,290.8 L617.0,290.7 L617.4,287.7 L617.8,286.0 L618.2,288.4 L618.6,288.5 L619.0,287.6 L619.4,290.5 L619.8,291.8 L620.2,290.0 L620.6,288.3 L621.0,289.9 L621.4,293.9 L621.8,294.2 L622.2,290.8 L622.6,287.9 L623.0,288.3 L623.4,288.9 L623.8,285.9 L624.2,283.9 L624.6,285.8 L625.0,286.2 L625.4,284.4 L625.8,284.8 L626.2,285.4 L626.6,284.2 L627.0,284.0 L627.4,284.9 L627.8,282.7 L628.2,280.8 L628.6,283.1 L629.0,283.0 L629.4,280.3 L629.8,278.2 L630.2,274.8 L630.6,271.9 L631.0,274.3 L631.4,277.4 L631.8,276.2 L632.2,271.0 L632.6,266.7 L633.0,267.3 L633.4,270.9 L633.8,271.0 L634.2,267.4 L634.6,267.3 L635.0,269.1 L635.4,268.0 L635.8,262.5 L636.2,258.5 L636.6,261.1 L637.0,262.9 L637.4,260.4 L637.8,256.8 L638.2,257.0 L638.6,258.7 L639.0,256.1 L639.4,252.3 L639.8,251.6 L640.2,250.5 L640.6,245.9 L641.0,244.7 L641.4,246.0 L641.8,245.4 L642.2,244.8 L642.6,244.3 L643.0,242.6 L643.4,238.3 L643.8,235.4 L644.2,232.4 L644.6,230.0 L645.0,230.6 L645.4,229.5 L645.8,230.2 L646.2,231.1 L646.6,227.8 L647.0,222.6 L647.4,216.1 L647.8,213.0 L648.2,215.0 L648.6,217.0 L649.0,216.8 L649.4,213.8 L649.8,210.8 L650.2,208.9 L650.6,207.3 L651.0,205.2 L651.4,201.2 L651.8,197.4 L652.2,197.7 L652.6,201.2 L653.0,203.3 L653.4,199.8 L653.8,197.5 L654.2,200.5 L654.6,201.3 L655.0,198.7 L655.4,191.2 L655.8,185.5 L656.1,188.5 L656.5,192.6 L656.9,193.4 L657.3,191.5 L657.7,190.6 L658.1,192.6 L658.5,195.0 L658.9,197.8 L659.3,202.3 L659.7,204.7 L660.1,203.7 L660.5,202.7 L660.9,204.4 L661.3,205.6 L661.7,206.0 L662.1,208.7 L662.5,211.0 L662.9,215.3 L663.3,219.9 L663.7,217.6 L664.1,214.6 L664.5,216.7 L664.9,217.1 L665.3,216.8 L665.7,217.5 L666.1,218.7 L666.5,221.4 L666.9,224.5 L667.3,228.3 L667.7,226.7 L668.1,222.3 L668.5,224.1 L668.9,227.8 L669.3,229.9 L669.7,232.8 L670.1,235.8 L670.5,236.2 L670.9,236.7 L671.3,241.0 L671.7,244.0 L672.1,245.1 L672.5,247.0 L672.9,246.7 L673.3,244.9 L673.7,245.7 L674.1,248.4 L674.5,250.6 L674.9,252.3 L675.3,254.8 L675.7,254.6 L676.1,250.7 L676.5,250.0 L676.9,253.5 L677.3,257.2 L677.7,259.2 L678.1,259.8 L678.5,258.4 L678.9,257.1 L679.3,257.8 L679.7,258.8 L680.1,261.0 L680.5,262.1 L680.9,260.2 L681.3,262.9 L681.7,266.1 L682.1,262.9 L682.5,259.9 L682.9,259.0 L683.3,260.7 L683.7,264.2 L684.1,263.7 L684.5,262.3 L684.9,260.4 L685.3,260.1 L685.7,264.5 L686.1,266.5 L686.5,268.1 L686.9,270.4 L687.3,269.5 L687.7,269.0 L688.1,271.0 L688.5,271.1 L688.9,268.1 L689.3,265.9 L689.7,266.1 L690.1,270.1 L690.5,273.0 L690.9,274.5 L691.3,277.8 L691.7,279.7 L692.1,279.4 L692.5,278.9 L692.9,278.6 L693.3,277.1 L693.7,276.9 L694.1,277.3 L694.5,278.5 L694.9,282.3 L695.3,282.2 L695.7,279.8 L696.0,280.5 L696.4,281.3 L696.8,281.8 L697.2,282.2 L697.6,281.7 L698.0,282.6 L698.4,283.1 L698.8,282.1 L699.2,283.2 L699.6,285.6 L700.0,288.0 L700.4,291.9 L700.8,291.4 L701.2,287.1 L701.6,284.6 L702.0,282.9 L702.4,283.4 L702.8,284.8 L703.2,283.9 L703.6,284.1 L704.0,287.6 L704.4,289.0 L704.8,288.2 L705.2,290.0 L705.6,293.4 L706.0,293.3 L706.4,291.5 L706.8,291.5 L707.2,289.2 L707.6,288.5 L708.0,292.2 L708.4,295.5 L708.8,295.8 L709.2,296.1 L709.6,296.9 L710.0,295.0 L710.4,294.6 L710.8,296.1 L711.2,294.1 L711.6,290.5 L712.0,290.7 L712.4,295.4 L712.8,299.3 L713.2,298.4 L713.6,297.4 L714.0,296.6 L714.4,294.7 L714.8,295.1 L715.2,296.9 L715.6,297.6 L716.0,297.0 L716.4,297.5 L716.8,297.9 L717.2,297.8 L717.6,298.2 L718.0,298.9 L718.4,299.5 L718.8,296.5 L719.2,294.9 L719.6,299.5 L720.0,301.8 L720.4,301.1 L720.8,301.4 L721.2,299.8 L721.6,295.6 L722.0,293.2 L722.4,294.6 L722.8,297.5 L723.2,298.0 L723.6,295.9 L724.0,297.2 L724.4,300.0 L724.8,298.3 L725.2,296.3 L725.6,298.1 L726.0,301.6 L726.4,302.6 L726.8,302.7 L727.2,303.6 L727.6,303.4 L728.0,302.7 L728.4,301.9 L728.8,301.7 L729.2,301.9 L729.6,300.3 L730.0,298.0 L730.4,298.0 L730.8,298.4 L731.2,298.3 L731.6,300.7 L732.0,303.6 L732.4,303.0 L732.8,301.1 L733.2,301.8 L733.6,301.6 L734.0,299.5 L734.4,301.1 L734.8,304.7 L735.2,305.2 L735.6,303.6 L735.9,300.4 L736.3,297.1 L736.7,297.5 L737.1,299.9 L737.5,301.2 L737.9,299.4 L738.3,296.5 L738.7,297.8 L739.1,299.8 L739.5,299.2 L739.9,299.9 L740.3,301.4 L740.7,301.6 L741.1,301.7 L741.5,302.9 L741.9,302.8 L742.3,300.2 L742.7,298.1 L743.1,298.3 L743.5,299.3 L743.9,299.0 L744.3,297.6 L744.7,298.1 L745.1,300.9 L745.5,303.3 L745.9,302.7 L746.3,301.8 L746.7,302.4 L747.1,302.2 L747.5,302.4 L747.9,303.2 L748.3,302.6 L748.7,302.2 L749.1,301.9 L749.5,300.8 L749.9,299.0 L750.3,297.4 L750.7,300.0 L751.1,303.1 L751.5,301.9 L751.9,300.6 L752.3,299.7 L752.7,299.6 L753.1,301.2 L753.5,302.5 L753.9,302.3 L754.3,300.8 L754.7,300.4 L755.1,300.4 L755.5,301.0 L755.9,302.1 L756.3,300.5 L756.7,301.7 L757.1,304.9 L757.5,303.2 L757.9,301.4 L758.3,301.2 L758.7,300.5 L759.1,300.3 L759.5,299.5 L759.9,299.3 L760.3,301.3 L760.7,303.8 L761.1,305.2 L761.5,306.4 L761.9,305.2 L762.3,302.2 L762.7,301.5 L763.1,300.8 L763.5,301.2 L763.9,304.2 L764.3,305.0 L764.7,303.2 L765.1,302.5 L765.5,302.6 L765.9,302.6 L766.3,301.6 L766.7,300.8 L767.1,301.2 L767.5,300.0 L767.9,299.0 L768.3,300.6 L768.7,302.6 L769.1,303.5 L769.5,303.1 L769.9,301.9 L770.3,301.1 L770.7,301.9 L771.1,302.5 L771.5,301.7 L771.9,302.0 L772.3,304.4 L772.7,304.7 L773.1,303.4 L773.5,302.1 L773.9,302.0 L774.3,301.8 L774.7,299.8 L775.1,299.5 L775.5,301.2 L775.8,302.0 L776.2,302.7 L776.6,302.2 L777.0,301.1 L777.4,302.9 L777.8,304.1 L778.2,302.9 L778.6,302.3 L779.0,302.5 L779.4,302.0 L779.8,300.5 L780.2,299.8 L780.6,301.3 L781.0,300.6 L781.4,298.5 L781.8,299.5 L782.2,301.5 L782.6,302.0 L783.0,301.2 L783.4,302.2 L783.8,303.0 L784.2,302.6 L784.6,303.9 L785.0,303.1 L785.4,300.1 L785.8,297.6 L786.2,298.2 L786.6,301.1 L787.0,300.9 L787.4,300.8 L787.8,303.1 L788.2,303.3 L788.6,300.8 L789.0,297.4 L789.4,297.7 L789.8,301.1 L790.2,301.7 L790.6,302.3 L791.0,303.7 L791.4,302.3 L791.8,303.1 L792.2,305.4 L792.6,303.4 L793.0,300.0 L793.4,300.2 L793.8,301.3 L794.2,300.6 L794.6,302.6 L795.0,304.2 L795.4,302.7 L795.8,302.2 L796.2,302.8 L796.6,303.4 L797.0,301.8 L797.4,300.1 L797.8,300.8 L798.2,300.7 L798.6,299.5 L799.0,298.7 L799.4,297.7 L799.8,298.6 L800.2,299.3 L800.6,298.1 L801.0,299.3 L801.4,300.0 L801.8,300.4 L802.2,302.5 L802.6,301.9 L803.0,299.7 L803.4,300.5 L803.8,300.2 L804.2,298.1 L804.6,298.5 L805.0,299.7 L805.4,301.7 L805.8,302.7 L806.2,299.7 L806.6,297.1 L807.0,297.0 L807.4,298.9 L807.8,298.0 L808.2,296.4 L808.6,300.4 L809.0,300.2 L809.4,294.0 L809.8,293.9 L810.2,297.7 L810.6,299.6 L811.0,299.7 L811.4,299.4 L811.8,298.4 L812.2,296.6 L812.6,296.5 L813.0,296.4 L813.4,294.3 L813.8,293.0 L814.2,295.6 L814.6,297.9 L815.0,296.2 L815.4,295.3 L815.7,295.1 L816.1,294.4 L816.5,295.7 L816.9,296.4 L817.3,293.6 L817.7,292.8 L818.1,295.8 L818.5,295.9 L818.9,294.1 L819.3,293.2 L819.7,291.2 L820.1,290.1 L820.5,292.0 L820.9,294.3 L821.3,296.3 L821.7,295.9 L822.1,294.1 L822.5,294.6 L822.9,294.2 L823.3,292.0 L823.7,290.6 L824.1,290.2 L824.5,290.3 L824.9,290.1 L825.3,289.0 L825.7,289.0 L826.1,289.8 L826.5,290.5 L826.9,290.7 L827.3,289.6 L827.7,289.4 L828.1,290.8 L828.5,290.1 L828.9,288.6 L829.3,288.7 L829.7,288.0 L830.1,287.8 L830.5,288.0 L830.9,288.5 L831.3,287.6 L831.7,286.3 L832.1,286.7 L832.5,286.6 L832.9,288.7 L833.3,288.3 L833.7,285.5 L834.1,286.3 L834.5,286.0 L834.9,286.0 L835.3,289.5 L835.7,290.9 L836.1,290.7 L836.5,291.1 L836.9,289.1 L837.3,288.4 L837.7,289.2 L838.1,288.4 L838.5,289.7 L838.9,291.0 L839.3,289.7 L839.7,289.1 L840.1,289.6 L840.5,288.8 L840.9,284.4 L841.3,281.2 L841.7,283.5 L842.1,287.0 L842.5,289.5 L842.9,289.9 L843.3,290.6 L843.7,292.6 L844.1,292.0 L844.5,291.7 L844.9,294.6 L845.3,295.2 L845.7,292.3 L846.1,292.1 L846.5,295.0 L846.9,295.8 L847.3,294.4 L847.7,294.4 L848.1,297.0 L848.5,297.0 L848.9,295.8 L849.3,295.6 L849.7,294.0 L850.1,294.7 L850.5,296.3 L850.9,295.1 L851.3,293.1 L851.7,293.9 L852.1,296.8 L852.5,297.3 L852.9,295.4 L853.3,294.0 L853.7,295.2 L854.1,297.1 L854.5,295.9 L854.9,292.9 L855.3,290.4 L855.6,290.2 L856.0,290.8 L856.4,291.3 L856.8,293.6 L857.2,294.7 L857.6,294.2 L858.0,295.0 L858.4,294.7 L858.8,294.4 L859.2,294.4 L859.6,294.7 L860.0,297.0 L860.4,296.5 L860.8,296.0 L861.2,297.3 L861.6,297.4 L862.0,297.3 L862.4,296.8 L862.8,296.4 L863.2,297.8 L863.6,298.6 L864.0,299.5 L864.4,299.3 L864.8,296.7 L865.2,295.8 L865.6,296.6 L866.0,297.9 L866.4,299.4 L866.8,300.2 L867.2,299.6 L867.6,299.1 L868.0,300.5 L868.4,301.8 L868.8,303.1 L869.2,302.7 L869.6,299.9 L870.0,297.8 L870.4,296.5 L870.8,297.3 L871.2,300.6 L871.6,301.3 L872.0,299.8 L872.4,299.6 L872.8,300.2 L873.2,300.3 L873.6,299.7 L874.0,296.8 L874.4,293.9 L874.8,295.3 L875.2,298.6 L875.6,301.2 L876.0,302.7 L876.4,301.9 L876.8,299.9 L877.2,297.0 L877.6,296.2 L878.0,299.9 L878.4,302.6 L878.8,301.1 L879.2,299.5 L879.6,300.2 L880.0,301.0 L880.4,300.6 L880.8,298.8 L881.2,296.6 L881.6,296.1 L882.0,297.3 L882.4,297.5 L882.8,298.2 L883.2,301.2 L883.6,301.0 L884.0,299.4 L884.4,301.9 L884.8,303.9 L885.2,301.7 L885.6,300.5 L886.0,299.8 L886.4,297.1 L886.8,296.3 L887.2,297.8 L887.6,298.1 L888.0,297.0 L888.4,297.6 L888.8,298.0 L889.2,297.4 L889.6,298.8 L890.0,299.9 L890.4,297.4 L890.8,296.1 L891.2,297.5 L891.6,298.2 L892.0,298.7 L892.4,298.7 L892.8,298.3 L893.2,296.9 L893.6,293.7 L894.0,295.0 L894.4,298.7 L894.8,298.1 L895.2,296.8 L895.5,296.3 L895.9,296.4 L896.3,298.3 L896.7,299.6 L897.1,297.0 L897.5,293.4 L897.9,293.8 L898.3,297.2 L898.7,300.5 L899.1,302.9 L899.5,301.0 L899.9,296.1 L900.3,294.2 L900.7,294.6 L901.1,296.5 L901.5,296.3 L901.9,294.5 L902.3,296.5 L902.7,297.6 L903.1,295.4 L903.5,295.8 L903.9,297.7 L904.3,295.5 L904.7,293.2 L905.1,295.1 L905.5,297.3 L905.9,295.0 L906.3,290.5 L906.7,289.8 L907.1,292.3 L907.5,293.9 L907.9,292.9 L908.3,292.2 L908.7,294.1 L909.1,293.3 L909.5,289.6 L909.9,289.4 L910.3,289.9 L910.7,289.3 L911.1,290.7 L911.5,291.5 L911.9,291.2 L912.3,293.3 L912.7,293.9 L913.1,291.4 L913.5,290.1 L913.9,290.9 L914.3,293.1 L914.7,293.0 L915.1,289.6 L915.5,288.3 L915.9,289.2 L916.3,287.5 L916.7,284.5 L917.1,284.2 L917.5,287.8 L917.9,291.5 L918.3,291.6 L918.7,290.4 L919.1,289.9 L919.5,290.1 L919.9,287.9 L920.3,284.4 L920.7,284.8 L921.1,285.9 L921.5,285.2 L921.9,281.7 L922.3,278.3 L922.7,278.7 L923.1,280.1 L923.5,281.3 L923.9,280.5 L924.3,279.3 L924.7,277.6 L925.1,275.4 L925.5,275.6 L925.9,277.0 L926.3,278.4 L926.7,276.6 L927.1,275.9 L927.5,278.0 L927.9,276.3 L928.3,273.9 L928.7,274.4 L929.1,275.1 L929.5,274.2 L929.9,273.8 L930.3,275.6 L930.7,277.1 L931.1,277.5 L931.5,274.7 L931.9,272.3 L932.3,273.1 L932.7,272.6 L933.1,269.1 L933.5,265.2 L933.9,267.3 L934.3,273.2 L934.7,272.2 L935.1,267.9 L935.4,269.0 L935.8,271.8 L936.2,271.1 L936.6,266.3 L937.0,264.5 L937.4,266.8 L937.8,266.8 L938.2,265.5 L938.6,267.0 L939.0,268.8 L939.4,268.4 L939.8,269.5 L940.2,269.3 L940.6,267.9 L941.0,270.2 L941.4,271.5 L941.8,269.3 L942.2,268.1 L942.6,268.0 L943.0,267.2 L943.4,269.3 L943.8,269.8 L944.2,264.5 L944.6,263.3 L945.0,266.4 L945.4,266.2 L945.8,266.1 L946.2,267.1 L946.6,267.0 L947.0,266.6 L947.4,265.7 L947.8,266.0 L948.2,268.1 L948.6,269.0 L949.0,268.5 L949.4,269.5 L949.8,270.8 L950.2,270.3 L950.6,270.5 L951.0,270.7 L951.4,269.9 L951.8,271.5 L952.2,273.2 L952.6,271.6 L953.0,270.2 L953.4,271.4 L953.8,270.3 L954.2,267.5 L954.6,266.5 L955.0,266.7"/>
<rect class="ax" x="90.4" y="10.6" width="931.6" height="686.4"/>
<path class="tk" d="M90.4,697.0V703.9M157.0,697.0V710.8M223.5,697.0V703.9M290.0,697.0V710.8M356.5,697.0V703.9M423.0,697.0V710.8M489.5,697.0V703.9M556.0,697.0V710.8M622.5,697.0V703.9M689.0,697.0V710.8M755.5,697.0V703.9M822.0,697.0V710.8M888.5,697.0V703.9M955.0,697.0V710.8M1022.0,697.0V703.9"/>
<text class="t" x="157.0" y="741.5">20</text>
<text class="t" x="290.0" y="741.5">30</text>
<text class="t" x="423.0" y="741.5">40</text>
<text class="t" x="556.0" y="741.5">50</text>
<text class="t" x="689.0" y="741.5">60</text>
<text class="t" x="822.0" y="741.5">70</text>
<text class="t" x="955.0" y="741.5">80</text>
<text class="m" x="556" y="795.6">2<tspan font-family="Liberation Serif,serif" font-size="35">θ</tspan> (degrees)</text>
<text class="m" transform="translate(30.5,333.5) rotate(-90)">cps (a.u.)</text>
<text class="m" x="279.7" y="60.6">(111)</text>
<text class="m" x="341.4" y="215.5">(200)</text>
<text class="m" x="534.3" y="141.6">(220)</text>
<text class="m" x="658.0" y="177.1">(311)</text>
<text class="m" x="731.0" y="249.4">(222)</text>
<text class="m" x="846.0" y="273.9">(400)</text>
<text class="l" x="148.5" y="285.0">CuCZ</text>
<text class="l" x="142.3" y="376.5">CuCT1</text>
<text class="l" x="142.3" y="481.4">CuCT4</text>
<text class="l" x="159.0" y="624.4">CuC</text>
</g>
<g id="xanes">
<clipPath id="cp"><rect x="71.3" y="828.6" width="919.2" height="678.7"/></clipPath>
<g clip-path="url(#cp)">
<path class="x" stroke="#000" d="M72.1,1474.4 L73.3,1474.3 L74.9,1474.2 L76.9,1474.0 L78.9,1473.9 L80.9,1473.8 L82.9,1473.7 L84.9,1473.6 L86.9,1473.5 L88.9,1473.5 L90.9,1473.4 L92.9,1473.4 L94.9,1473.4 L96.9,1473.5 L98.9,1473.5 L100.9,1473.6 L102.9,1473.7 L104.9,1473.8 L106.9,1473.9 L108.9,1474.1 L110.9,1474.2 L112.8,1474.4 L114.8,1474.5 L116.8,1474.7 L118.8,1474.8 L120.8,1475.0 L122.8,1475.2 L124.8,1475.3 L126.8,1475.5 L128.8,1475.7 L130.8,1475.9 L132.8,1476.1 L134.8,1476.4 L136.7,1476.6 L138.7,1476.8 L140.7,1477.0 L142.7,1477.3 L144.7,1477.5 L146.7,1477.7 L148.7,1477.9 L150.7,1478.1 L152.7,1478.3 L154.7,1478.3 L156.6,1478.3 L158.6,1478.1 L160.6,1477.8 L162.6,1477.4 L164.5,1477.0 L166.5,1476.6 L168.5,1476.4 L170.5,1476.3 L172.5,1476.3 L174.5,1476.3 L176.5,1476.4 L178.5,1476.4 L180.5,1476.5 L182.5,1476.5 L184.5,1476.5 L186.4,1476.5 L188.4,1476.3 L190.3,1476.0 L192.2,1475.5 L194.1,1474.8 L196.0,1474.1 L197.9,1473.3 L199.8,1472.6 L201.7,1471.9 L203.6,1471.2 L205.5,1470.7 L207.5,1470.1 L209.4,1469.6 L211.4,1469.1 L213.3,1468.5 L215.2,1468.0 L217.1,1467.3 L218.9,1466.6 L220.7,1465.8 L222.5,1464.9 L224.2,1463.9 L225.9,1462.9 L227.6,1461.7 L229.2,1460.5 L230.8,1459.3 L232.3,1458.0 L233.9,1456.7 L235.4,1455.5 L237.0,1454.3 L238.7,1453.3 L240.5,1452.4 L242.3,1451.6 L244.2,1450.9 L246.1,1450.2 L248.0,1449.5 L249.8,1448.8 L251.7,1448.0 L253.6,1447.3 L255.5,1446.5 L257.2,1445.6 L258.9,1444.6 L260.5,1443.4 L261.9,1442.1 L263.2,1440.6 L264.4,1439.0 L265.6,1437.3 L266.6,1435.6 L267.6,1433.9 L268.6,1432.2 L269.6,1430.4 L270.5,1428.6 L271.5,1426.9 L272.5,1425.1 L273.5,1423.4 L274.5,1421.7 L275.5,1419.9 L276.5,1418.2 L277.4,1416.4 L278.4,1414.7 L279.3,1412.9 L280.2,1411.1 L281.1,1409.3 L281.9,1407.5 L282.7,1405.7 L283.6,1403.9 L284.4,1402.1 L285.3,1400.2 L286.1,1398.4 L287.0,1396.7 L287.9,1394.9 L288.8,1393.1 L289.7,1391.3 L290.5,1389.5 L291.3,1387.6 L292.0,1385.8 L292.6,1383.9 L293.2,1382.0 L293.8,1380.1 L294.4,1378.2 L294.9,1376.2 L295.5,1374.3 L296.0,1372.3 L296.5,1370.4 L297.0,1368.5 L297.6,1366.5 L298.1,1364.6 L298.6,1362.7 L299.1,1360.7 L299.5,1358.8 L300.0,1356.9 L300.5,1354.9 L301.0,1353.0 L301.4,1351.0 L301.9,1349.1 L302.4,1347.1 L302.8,1345.2 L303.3,1343.2 L303.7,1341.3 L304.2,1339.3 L304.6,1337.4 L305.0,1335.4 L305.5,1333.5 L305.9,1331.5 L306.3,1329.6 L306.7,1327.6 L307.1,1325.6 L307.5,1323.7 L307.8,1321.7 L308.1,1319.7 L308.5,1317.8 L308.8,1315.8 L309.1,1313.8 L309.4,1311.8 L309.7,1309.9 L310.0,1307.9 L310.3,1305.9 L310.6,1303.9 L310.9,1302.0 L311.2,1300.0 L311.6,1298.0 L311.9,1296.0 L312.3,1294.1 L312.6,1292.1 L313.0,1290.1 L313.3,1288.2 L313.7,1286.2 L314.1,1284.2 L314.5,1282.3 L314.9,1280.3 L315.2,1278.4 L315.6,1276.4 L316.0,1274.4 L316.4,1272.5 L316.8,1270.5 L317.2,1268.5 L317.6,1266.6 L318.0,1264.6 L318.5,1262.7 L318.9,1260.7 L319.3,1258.8 L319.7,1256.8 L320.1,1254.8 L320.5,1252.9 L321.0,1250.9 L321.4,1249.0 L321.8,1247.0 L322.2,1245.1 L322.7,1243.1 L323.1,1241.2 L323.5,1239.2 L324.0,1237.3 L324.4,1235.3 L324.9,1233.4 L325.3,1231.4 L325.8,1229.5 L326.2,1227.5 L326.7,1225.6 L327.1,1223.6 L327.6,1221.7 L328.1,1219.7 L328.5,1217.8 L329.0,1215.8 L329.5,1213.9 L329.9,1212.0 L330.4,1210.0 L330.9,1208.1 L331.3,1206.1 L331.8,1204.2 L332.3,1202.2 L332.8,1200.3 L333.3,1198.4 L333.7,1196.4 L334.2,1194.5 L334.7,1192.5 L335.2,1190.6 L335.7,1188.7 L336.2,1186.7 L336.7,1184.8 L337.2,1182.9 L337.7,1180.9 L338.2,1179.0 L338.8,1177.1 L339.3,1175.1 L339.8,1173.2 L340.3,1171.3 L340.8,1169.3 L341.3,1167.4 L341.8,1165.5 L342.4,1163.5 L342.9,1161.6 L343.4,1159.7 L343.9,1157.7 L344.4,1155.8 L345.0,1153.9 L345.5,1151.9 L346.0,1150.0 L346.5,1148.1 L347.0,1146.1 L347.6,1144.2 L348.1,1142.3 L348.6,1140.4 L349.2,1138.4 L349.7,1136.5 L350.3,1134.6 L350.8,1132.7 L351.3,1130.7 L351.9,1128.8 L352.4,1126.9 L353.0,1124.9 L353.5,1123.0 L354.0,1121.1 L354.5,1119.2 L355.1,1117.2 L355.6,1115.3 L356.1,1113.4 L356.6,1111.4 L357.1,1109.5 L357.6,1107.6 L358.1,1105.6 L358.5,1103.7 L359.0,1101.7 L359.5,1099.8 L359.9,1097.8 L360.4,1095.9 L360.8,1093.9 L361.3,1092.0 L361.7,1090.0 L362.2,1088.1 L362.6,1086.1 L363.1,1084.2 L363.5,1082.2 L363.9,1080.3 L364.4,1078.3 L364.8,1076.4 L365.3,1074.4 L365.7,1072.5 L366.1,1070.5 L366.6,1068.6 L367.0,1066.6 L367.5,1064.7 L367.9,1062.7 L368.4,1060.8 L368.8,1058.8 L369.3,1056.9 L369.7,1054.9 L370.2,1053.0 L370.7,1051.1 L371.1,1049.1 L371.6,1047.2 L372.1,1045.2 L372.5,1043.3 L373.0,1041.3 L373.5,1039.4 L374.0,1037.4 L374.4,1035.5 L374.9,1033.6 L375.4,1031.6 L375.8,1029.7 L376.3,1027.7 L376.8,1025.8 L377.2,1023.8 L377.7,1021.9 L378.2,1019.9 L378.6,1018.0 L379.1,1016.0 L379.5,1014.1 L380.0,1012.2 L380.4,1010.2 L380.9,1008.2 L381.3,1006.3 L381.7,1004.3 L382.1,1002.4 L382.6,1000.4 L383.0,998.5 L383.4,996.5 L383.8,994.6 L384.2,992.6 L384.6,990.7 L385.0,988.7 L385.4,986.7 L385.9,984.8 L386.3,982.8 L386.7,980.9 L387.1,978.9 L387.5,976.9 L387.9,975.0 L388.3,973.0 L388.7,971.1 L389.1,969.1 L389.5,967.2 L390.0,965.2 L390.4,963.2 L390.8,961.3 L391.2,959.3 L391.7,957.4 L392.1,955.4 L392.5,953.5 L392.9,951.5 L393.4,949.6 L393.8,947.6 L394.2,945.6 L394.6,943.7 L395.0,941.7 L395.5,939.8 L395.9,937.8 L396.3,935.9 L396.8,933.9 L397.2,932.0 L397.7,930.0 L398.2,928.1 L398.6,926.1 L399.1,924.2 L399.6,922.3 L400.1,920.3 L400.7,918.4 L401.2,916.5 L401.7,914.6 L402.3,912.6 L402.9,910.7 L403.5,908.8 L404.1,906.9 L404.7,904.9 L405.3,903.0 L406.0,901.2 L406.7,899.3 L407.4,897.4 L408.2,895.6 L409.0,893.8 L409.9,892.0 L410.8,890.2 L411.8,888.5 L412.8,886.8 L414.0,885.1 L415.1,883.5 L416.4,882.0 L417.8,880.5 L419.2,879.1 L420.6,877.7 L422.1,876.4 L423.7,875.0 L425.2,873.7 L426.8,872.4 L428.3,871.2 L430.0,870.0 L431.6,868.9 L433.3,867.9 L435.1,867.0 L436.9,866.2 L438.8,865.4 L440.7,864.7 L442.6,864.1 L444.5,863.7 L446.5,863.3 L448.5,863.1 L450.5,863.0 L452.5,862.9 L454.5,862.8 L456.5,862.8 L458.5,862.8 L460.4,863.1 L462.3,863.5 L464.2,864.2 L466.0,865.1 L467.8,866.0 L469.5,867.1 L471.2,868.1 L472.9,869.2 L474.5,870.4 L476.1,871.7 L477.7,872.9 L479.2,874.3 L480.6,875.6 L482.1,877.0 L483.4,878.5 L484.8,879.9 L486.1,881.4 L487.3,882.9 L488.6,884.5 L489.8,886.1 L491.0,887.7 L492.2,889.3 L493.4,891.0 L494.6,892.6 L495.8,894.2 L497.1,895.8 L498.3,897.3 L499.5,898.9 L500.8,900.5 L502.0,902.1 L503.3,903.6 L504.5,905.2 L505.7,906.8 L507.0,908.4 L508.2,909.9 L509.4,911.5 L510.7,913.1 L512.0,914.6 L513.2,916.2 L514.5,917.7 L515.8,919.2 L517.1,920.7 L518.4,922.3 L519.7,923.8 L521.0,925.3 L522.3,926.8 L523.6,928.3 L525.0,929.8 L526.3,931.3 L527.7,932.8 L529.0,934.3 L530.4,935.7 L531.8,937.2 L533.2,938.6 L534.6,940.0 L536.1,941.3 L537.6,942.7 L539.1,944.0 L540.6,945.3 L542.1,946.5 L543.7,947.8 L545.3,949.0 L547.0,950.1 L548.7,951.2 L550.4,952.2 L552.1,953.2 L553.9,954.1 L555.6,955.0 L557.5,955.8 L559.3,956.6 L561.2,957.4 L563.0,958.2 L564.8,959.0 L566.7,959.8 L568.5,960.6 L570.4,961.4 L572.2,962.1 L574.1,962.9 L575.9,963.6 L577.8,964.3 L579.7,965.0 L581.6,965.6 L583.5,966.2 L585.4,966.8 L587.3,967.3 L589.3,967.9 L591.2,968.5 L593.1,969.1 L594.9,969.8 L596.8,970.5 L598.6,971.3 L600.4,972.1 L602.2,973.0 L604.0,973.9 L605.8,974.9 L607.5,975.8 L609.3,976.8 L611.1,977.7 L612.9,978.6 L614.6,979.5 L616.4,980.5 L618.2,981.4 L620.0,982.3 L621.8,983.2 L623.6,984.1 L625.3,985.0 L627.1,985.9 L628.9,986.7 L630.8,987.6 L632.6,988.4 L634.4,989.2 L636.3,989.9 L638.1,990.7 L640.0,991.4 L641.9,992.1 L643.8,992.8 L645.7,993.4 L647.6,994.0 L649.5,994.6 L651.4,995.2 L653.3,995.7 L655.3,996.2 L657.2,996.6 L659.2,997.0 L661.2,997.4 L663.1,997.7 L665.1,998.0 L667.1,998.3 L669.1,998.6 L671.0,999.1 L672.8,999.7 L674.6,1000.5 L676.4,1001.4 L678.1,1002.5 L679.9,1003.6 L681.6,1004.7 L683.3,1005.6 L685.1,1006.4 L687.0,1007.1 L688.9,1007.6 L690.8,1007.9 L692.8,1008.2 L694.8,1008.5 L696.8,1008.8 L698.8,1009.2 L700.7,1009.5 L702.7,1010.0 L704.6,1010.4 L706.6,1010.9 L708.5,1011.4 L710.4,1012.0 L712.4,1012.5 L714.3,1013.0 L716.2,1013.6 L718.2,1014.1 L720.1,1014.7 L722.0,1015.3 L723.9,1015.8 L725.9,1016.3 L727.8,1016.8 L729.8,1017.2 L731.7,1017.6 L733.7,1017.9 L735.7,1018.2 L737.7,1018.4 L739.6,1018.4 L741.6,1018.4 L743.6,1018.1 L745.6,1017.8 L747.5,1017.4 L749.5,1017.0 L751.5,1016.6 L753.5,1016.3 L755.4,1016.1 L757.4,1015.9 L759.4,1015.9 L761.4,1015.8 L763.4,1015.8 L765.4,1015.7 L767.4,1015.7 L769.4,1015.6 L771.4,1015.5 L773.4,1015.5 L775.4,1015.4 L777.4,1015.3 L779.4,1015.2 L781.4,1015.0 L783.5,1014.9 L785.4,1014.7 L787.4,1014.5 L789.4,1014.3 L791.4,1014.0 L793.3,1013.7 L795.3,1013.3 L797.2,1012.7 L799.1,1012.1 L801.0,1011.4 L802.9,1010.7 L804.7,1010.0 L806.6,1009.2 L808.4,1008.3 L810.2,1007.5 L812.0,1006.7 L813.9,1005.9 L815.7,1005.2 L817.6,1004.6 L819.6,1004.1 L821.5,1003.6 L823.5,1003.2 L825.4,1002.9 L827.4,1002.5 L829.4,1002.0 L831.3,1001.5 L833.2,1000.9 L835.0,1000.2 L836.8,999.4 L838.6,998.5 L840.4,997.5 L842.2,996.6 L844.0,995.7 L845.8,994.8 L847.7,994.1 L849.5,993.5 L851.5,993.0 L853.4,992.6 L855.4,992.2 L857.4,991.9 L859.4,991.6 L861.3,991.2 L863.3,990.8 L865.2,990.3 L867.1,989.7 L868.9,989.0 L870.7,988.2 L872.5,987.4 L874.4,986.5 L876.2,985.5 L878.0,984.6 L879.8,983.7 L881.6,982.9 L883.4,982.1 L885.3,981.3 L887.1,980.7 L889.0,980.1 L891.0,979.5 L892.9,979.0 L894.8,978.4 L896.8,977.9 L898.7,977.4 L900.6,976.8 L902.5,976.1 L904.4,975.4 L906.2,974.6 L908.1,973.8 L909.9,973.0 L911.8,972.2 L913.6,971.4 L915.5,970.7 L917.4,970.1 L919.3,969.5 L921.2,969.1 L923.1,968.8 L925.1,968.5 L927.1,968.3 L929.1,968.0 L931.1,967.8 L933.1,967.6 L935.1,967.3 L937.0,967.0 L939.0,966.6 L940.9,966.1 L942.9,965.5 L944.8,964.9 L946.7,964.3 L948.6,963.7 L950.5,963.1 L952.5,962.7 L954.4,962.4 L956.4,962.2 L958.4,962.1 L960.4,962.0 L962.4,962.0 L964.4,961.9 L966.4,961.8 L968.4,961.7 L970.4,961.7 L972.4,961.6 L974.4,961.4 L976.4,961.3 L978.4,961.1 L980.4,961.0 L982.4,960.8 L984.4,960.6 L986.1,960.4 L987.5,960.3 L988.5,960.2"/>
<path class="x" stroke="#f00" d="M72.1,1474.1 L73.3,1473.8 L74.9,1473.3 L76.9,1472.9 L78.9,1472.5 L80.9,1472.1 L82.9,1471.9 L84.8,1471.7 L86.8,1471.6 L88.8,1471.5 L90.7,1471.5 L92.7,1471.5 L94.6,1471.8 L96.6,1472.2 L98.5,1472.7 L100.5,1473.4 L102.4,1474.1 L104.3,1474.8 L106.2,1475.3 L108.1,1475.6 L110.0,1475.5 L111.8,1475.0 L113.7,1474.3 L115.5,1473.3 L117.3,1472.4 L119.2,1471.7 L121.0,1471.4 L122.8,1471.6 L124.7,1472.1 L126.6,1472.8 L128.5,1473.7 L130.4,1474.5 L132.2,1475.2 L134.1,1475.5 L136.0,1475.6 L137.8,1475.3 L139.7,1474.7 L141.5,1473.9 L143.4,1473.0 L145.2,1472.0 L147.0,1471.0 L148.9,1470.1 L150.8,1469.4 L152.7,1468.9 L154.6,1468.5 L156.6,1468.2 L158.6,1468.1 L160.6,1468.0 L162.6,1467.9 L164.6,1467.7 L166.5,1467.4 L168.5,1466.9 L170.3,1466.3 L172.2,1465.6 L174.1,1464.9 L176.0,1464.3 L177.9,1463.8 L179.9,1463.5 L181.9,1463.3 L183.8,1463.1 L185.8,1462.8 L187.8,1462.5 L189.7,1462.0 L191.7,1461.4 L193.6,1460.8 L195.5,1460.3 L197.5,1460.0 L199.5,1459.8 L201.5,1459.7 L203.5,1459.7 L205.5,1459.7 L207.5,1459.7 L209.5,1459.7 L211.4,1459.6 L213.3,1459.2 L215.2,1458.7 L217.0,1457.9 L218.8,1457.0 L220.5,1455.9 L222.3,1454.9 L224.0,1453.8 L225.7,1452.7 L227.4,1451.7 L229.1,1450.7 L230.9,1449.7 L232.6,1448.7 L234.4,1447.9 L236.3,1447.1 L238.1,1446.4 L240.0,1445.6 L241.9,1444.9 L243.7,1444.2 L245.6,1443.5 L247.5,1442.8 L249.3,1442.0 L251.2,1441.2 L252.9,1440.3 L254.7,1439.3 L256.3,1438.2 L257.9,1437.1 L259.5,1435.8 L261.0,1434.5 L262.4,1433.1 L263.8,1431.6 L265.1,1430.1 L266.3,1428.5 L267.5,1426.9 L268.6,1425.3 L269.7,1423.6 L270.7,1421.9 L271.7,1420.2 L272.7,1418.4 L273.7,1416.7 L274.6,1414.9 L275.6,1413.1 L276.5,1411.3 L277.5,1409.6 L278.5,1407.8 L279.4,1406.1 L280.4,1404.3 L281.4,1402.6 L282.3,1400.8 L283.3,1399.0 L284.2,1397.2 L285.0,1395.5 L285.9,1393.6 L286.7,1391.8 L287.5,1390.0 L288.2,1388.1 L289.0,1386.3 L289.7,1384.4 L290.4,1382.5 L291.1,1380.7 L291.8,1378.8 L292.4,1376.9 L293.1,1375.0 L293.7,1373.1 L294.4,1371.2 L295.0,1369.3 L295.6,1367.4 L296.2,1365.5 L296.8,1363.6 L297.3,1361.6 L297.9,1359.7 L298.4,1357.8 L299.0,1355.9 L299.5,1353.9 L300.0,1352.0 L300.6,1350.1 L301.1,1348.2 L301.6,1346.2 L302.1,1344.3 L302.6,1342.3 L303.0,1340.4 L303.5,1338.5 L304.0,1336.5 L304.4,1334.6 L304.9,1332.6 L305.4,1330.7 L305.8,1328.7 L306.3,1326.8 L306.8,1324.8 L307.2,1322.9 L307.7,1321.0 L308.2,1319.0 L308.7,1317.1 L309.2,1315.1 L309.7,1313.2 L310.2,1311.3 L310.7,1309.3 L311.2,1307.4 L311.6,1305.4 L312.1,1303.5 L312.6,1301.6 L313.1,1299.6 L313.5,1297.7 L314.0,1295.7 L314.5,1293.8 L314.9,1291.8 L315.3,1289.9 L315.8,1287.9 L316.2,1286.0 L316.7,1284.0 L317.1,1282.1 L317.5,1280.1 L317.9,1278.2 L318.4,1276.2 L318.8,1274.2 L319.2,1272.3 L319.6,1270.3 L320.1,1268.4 L320.5,1266.4 L320.9,1264.5 L321.4,1262.5 L321.8,1260.6 L322.2,1258.6 L322.7,1256.7 L323.1,1254.7 L323.6,1252.8 L324.0,1250.8 L324.5,1248.9 L325.0,1246.9 L325.5,1245.0 L325.9,1243.1 L326.4,1241.1 L326.9,1239.2 L327.4,1237.2 L327.9,1235.3 L328.4,1233.4 L328.9,1231.4 L329.4,1229.5 L329.9,1227.6 L330.4,1225.6 L330.9,1223.7 L331.4,1221.8 L331.9,1219.8 L332.5,1217.9 L333.0,1216.0 L333.5,1214.0 L334.0,1212.1 L334.6,1210.2 L335.1,1208.2 L335.6,1206.3 L336.1,1204.4 L336.7,1202.5 L337.2,1200.5 L337.7,1198.6 L338.3,1196.7 L338.8,1194.7 L339.4,1192.8 L339.9,1190.9 L340.5,1189.0 L341.1,1187.1 L341.6,1185.1 L342.2,1183.2 L342.8,1181.3 L343.4,1179.4 L343.9,1177.5 L344.5,1175.6 L345.1,1173.7 L345.7,1171.7 L346.2,1169.8 L346.8,1167.9 L347.4,1166.0 L347.9,1164.1 L348.5,1162.1 L349.0,1160.2 L349.6,1158.3 L350.1,1156.4 L350.6,1154.4 L351.1,1152.5 L351.6,1150.6 L352.1,1148.6 L352.6,1146.7 L353.1,1144.8 L353.6,1142.8 L354.1,1140.9 L354.5,1138.9 L355.0,1137.0 L355.4,1135.0 L355.9,1133.1 L356.3,1131.1 L356.8,1129.2 L357.2,1127.2 L357.6,1125.3 L358.1,1123.3 L358.5,1121.4 L358.9,1119.4 L359.4,1117.5 L359.8,1115.5 L360.2,1113.6 L360.7,1111.6 L361.1,1109.7 L361.5,1107.7 L362.0,1105.7 L362.4,1103.8 L362.8,1101.8 L363.2,1099.9 L363.6,1097.9 L364.1,1096.0 L364.5,1094.0 L364.9,1092.1 L365.3,1090.1 L365.7,1088.1 L366.1,1086.2 L366.5,1084.2 L366.9,1082.3 L367.4,1080.3 L367.8,1078.4 L368.2,1076.4 L368.6,1074.4 L369.0,1072.5 L369.4,1070.5 L369.8,1068.6 L370.2,1066.6 L370.7,1064.7 L371.1,1062.7 L371.5,1060.7 L371.9,1058.8 L372.4,1056.8 L372.8,1054.9 L373.2,1052.9 L373.7,1051.0 L374.1,1049.0 L374.5,1047.1 L375.0,1045.1 L375.4,1043.2 L375.8,1041.2 L376.3,1039.3 L376.7,1037.3 L377.2,1035.4 L377.6,1033.4 L378.1,1031.5 L378.5,1029.5 L378.9,1027.6 L379.4,1025.6 L379.8,1023.7 L380.3,1021.7 L380.7,1019.8 L381.1,1017.8 L381.6,1015.9 L382.0,1013.9 L382.4,1012.0 L382.9,1010.0 L383.3,1008.0 L383.7,1006.1 L384.1,1004.1 L384.6,1002.2 L385.0,1000.2 L385.4,998.3 L385.8,996.3 L386.2,994.4 L386.6,992.4 L387.1,990.4 L387.5,988.5 L387.9,986.5 L388.3,984.6 L388.7,982.6 L389.1,980.7 L389.5,978.7 L389.9,976.7 L390.4,974.8 L390.8,972.8 L391.2,970.9 L391.6,968.9 L392.0,967.0 L392.4,965.0 L392.8,963.1 L393.3,961.1 L393.7,959.1 L394.1,957.2 L394.5,955.2 L394.9,953.3 L395.3,951.3 L395.7,949.3 L396.1,947.4 L396.5,945.4 L396.9,943.4 L397.3,941.5 L397.7,939.5 L398.1,937.6 L398.5,935.6 L398.9,933.6 L399.3,931.7 L399.7,929.7 L400.2,927.8 L400.6,925.8 L401.0,923.9 L401.5,921.9 L402.0,920.0 L402.5,918.0 L403.0,916.1 L403.5,914.2 L404.0,912.3 L404.5,910.3 L405.1,908.4 L405.7,906.5 L406.2,904.6 L406.9,902.7 L407.5,900.7 L408.1,898.8 L408.8,897.0 L409.5,895.1 L410.3,893.2 L411.0,891.4 L411.8,889.5 L412.6,887.7 L413.5,885.8 L414.4,884.0 L415.3,882.2 L416.4,880.5 L417.5,878.9 L418.7,877.3 L420.0,875.9 L421.5,874.5 L423.1,873.3 L424.8,872.3 L426.6,871.4 L428.5,870.8 L430.4,870.5 L432.4,870.2 L434.4,869.9 L436.3,869.6 L438.2,869.0 L440.0,868.3 L441.8,867.4 L443.5,866.4 L445.3,865.4 L447.0,864.4 L448.9,863.5 L450.7,862.7 L452.6,861.9 L454.5,861.4 L456.5,861.0 L458.4,860.9 L460.4,861.0 L462.4,861.4 L464.3,861.9 L466.2,862.5 L467.9,863.3 L469.6,864.3 L471.2,865.4 L472.7,866.7 L474.1,868.1 L475.5,869.7 L476.8,871.3 L478.0,872.9 L479.3,874.5 L480.4,876.1 L481.5,877.8 L482.6,879.4 L483.7,881.1 L484.7,882.9 L485.8,884.6 L486.8,886.3 L487.8,888.0 L488.9,889.7 L490.0,891.4 L491.2,893.0 L492.3,894.7 L493.5,896.3 L494.6,897.9 L495.8,899.5 L497.0,901.1 L498.2,902.7 L499.4,904.3 L500.7,905.9 L501.9,907.5 L503.2,909.0 L504.5,910.5 L505.8,912.0 L507.1,913.6 L508.4,915.1 L509.6,916.7 L510.8,918.3 L511.9,919.9 L513.0,921.6 L514.0,923.3 L515.0,925.1 L516.0,926.8 L516.9,928.6 L517.9,930.3 L518.9,932.0 L520.0,933.8 L521.1,935.5 L522.2,937.2 L523.3,938.9 L524.5,940.5 L525.8,942.0 L527.1,943.4 L528.6,944.6 L530.2,945.7 L532.0,946.7 L533.8,947.6 L535.5,948.6 L537.2,949.7 L538.8,950.8 L540.2,952.2 L541.6,953.6 L542.8,955.2 L544.1,956.8 L545.3,958.4 L546.6,960.0 L547.9,961.6 L549.2,963.0 L550.6,964.4 L552.2,965.7 L553.7,966.9 L555.4,968.0 L557.1,969.1 L558.9,970.1 L560.6,971.0 L562.4,971.9 L564.3,972.6 L566.1,973.4 L568.0,974.0 L569.9,974.6 L571.9,975.2 L573.8,975.7 L575.8,976.1 L577.8,976.4 L579.7,976.6 L581.7,976.8 L583.7,976.9 L585.8,977.0 L587.8,977.2 L589.7,977.3 L591.7,977.5 L593.6,977.8 L595.5,978.3 L597.4,978.9 L599.2,979.7 L601.1,980.5 L602.9,981.4 L604.7,982.3 L606.6,983.1 L608.5,983.9 L610.3,984.6 L612.2,985.3 L614.1,986.0 L616.0,986.8 L617.7,987.7 L619.4,988.9 L621.0,990.2 L622.5,991.7 L624.0,993.1 L625.6,994.2 L627.3,995.0 L629.0,995.4 L630.9,995.5 L632.9,995.4 L634.9,995.2 L636.9,995.0 L638.9,994.9 L640.8,995.1 L642.5,995.7 L644.2,996.6 L645.8,997.8 L647.4,999.2 L648.9,1000.7 L650.4,1002.3 L651.8,1003.8 L653.2,1005.4 L654.7,1006.9 L656.2,1008.1 L657.7,1009.0 L659.4,1009.5 L661.2,1009.8 L663.2,1010.0 L665.2,1010.1 L667.2,1010.1 L669.3,1010.2 L671.3,1010.4 L673.3,1010.6 L675.2,1011.1 L677.0,1011.8 L678.8,1012.7 L680.6,1013.7 L682.3,1014.8 L684.1,1016.0 L685.8,1017.1 L687.5,1018.1 L689.3,1018.9 L691.1,1019.4 L693.0,1019.7 L694.9,1019.6 L696.9,1019.5 L698.9,1019.3 L700.9,1019.1 L702.9,1019.0 L704.9,1018.9 L706.9,1019.1 L708.9,1019.3 L710.9,1019.6 L712.9,1020.0 L714.8,1020.5 L716.8,1021.1 L718.7,1021.7 L720.5,1022.4 L722.3,1023.2 L724.1,1024.1 L725.9,1025.0 L727.7,1025.9 L729.5,1026.8 L731.4,1027.5 L733.3,1028.1 L735.2,1028.5 L737.1,1028.5 L739.0,1028.3 L740.9,1027.7 L742.7,1027.0 L744.5,1026.0 L746.3,1024.9 L748.0,1023.9 L749.7,1022.7 L751.4,1021.6 L753.1,1020.5 L754.8,1019.6 L756.6,1018.8 L758.4,1018.1 L760.3,1017.6 L762.2,1017.2 L764.2,1016.9 L766.2,1016.6 L768.2,1016.3 L770.2,1016.0 L772.2,1015.6 L774.1,1015.1 L776.0,1014.4 L777.8,1013.7 L779.7,1013.0 L781.5,1012.2 L783.4,1011.4 L785.3,1010.7 L787.2,1010.1 L789.1,1009.5 L791.0,1009.0 L792.9,1008.4 L794.9,1007.9 L796.8,1007.4 L798.7,1006.8 L800.6,1006.3 L802.5,1005.6 L804.4,1004.9 L806.2,1004.1 L808.0,1003.3 L809.8,1002.3 L811.5,1001.3 L813.3,1000.4 L815.0,999.3 L816.7,998.3 L818.4,997.2 L820.1,996.2 L821.8,995.1 L823.5,994.1 L825.3,993.2 L827.1,992.3 L828.9,991.4 L830.7,990.6 L832.6,989.8 L834.4,989.1 L836.3,988.3 L838.1,987.5 L839.9,986.6 L841.7,985.6 L843.4,984.5 L845.1,983.3 L846.8,982.1 L848.5,981.0 L850.3,980.1 L852.0,979.4 L853.9,979.1 L855.8,979.0 L857.8,979.1 L859.8,979.2 L861.8,979.4 L863.9,979.6 L865.8,979.7 L867.7,979.6 L869.6,979.3 L871.4,978.7 L873.1,977.7 L874.7,976.6 L876.4,975.3 L878.0,974.0 L879.6,972.7 L881.2,971.4 L882.7,970.1 L884.3,968.8 L885.8,967.5 L887.4,966.3 L888.9,965.1 L890.6,964.0 L892.2,962.9 L894.0,962.0 L895.7,961.1 L897.5,960.3 L899.4,959.5 L901.3,958.8 L903.1,958.0 L905.0,957.3 L906.8,956.5 L908.7,955.7 L910.5,954.8 L912.3,954.0 L914.2,953.1 L916.0,952.3 L917.8,951.5 L919.7,950.8 L921.6,950.2 L923.5,949.6 L925.4,949.2 L927.4,948.8 L929.3,948.5 L931.3,948.1 L933.3,947.8 L935.3,947.4 L937.2,947.0 L939.2,946.5 L941.1,946.0 L943.0,945.4 L944.9,944.9 L946.9,944.3 L948.8,943.8 L950.7,943.4 L952.7,943.0 L954.7,942.6 L956.7,942.3 L958.6,942.2 L960.6,942.1 L962.6,942.2 L964.6,942.5 L966.5,942.9 L968.5,943.4 L970.4,943.9 L972.4,944.2 L974.4,944.4 L976.4,944.5 L978.4,944.5 L980.4,944.5 L982.3,944.3 L984.3,944.1 L986.1,943.7 L987.5,943.3 L988.5,943.0"/>
</g>
<rect class="ax" x="71.3" y="828.6" width="918.0" height="678.7"/>
<path class="tk" d="M98.2,1507.3V1513.7M179.3,1507.3V1520.8M260.4,1507.3V1513.7M341.4,1507.3V1520.8M422.5,1507.3V1513.7M503.5,1507.3V1520.8M584.6,1507.3V1513.7M665.6,1507.3V1520.8M746.7,1507.3V1513.7M827.7,1507.3V1520.8M908.8,1507.3V1513.7M989.3,1507.3V1520.8"/>
<text class="t" x="179.3" y="1551.3">8970</text>
<text class="t" x="341.4" y="1551.3">8985</text>
<text class="t" x="503.5" y="1551.3">9000</text>
<text class="t" x="665.6" y="1551.3">9015</text>
<text class="t" x="827.7" y="1551.3">9030</text>
<text class="t" x="989.8" y="1551.3">9045</text>
<text class="m" style="font-size:33.5px" x="530" y="1603">Energy (eV)</text>
<text class="m" style="font-size:33.5px" transform="translate(50.3,1171.7) rotate(-90)">Normalized Absorbance</text>
<text class="l" x="285" y="1031.5">CuC</text>
<text class="l" x="389.3" y="1126.8" style="fill:#f00;stroke:#f00">CuCT1</text>
</g>
</svg></body></html>
